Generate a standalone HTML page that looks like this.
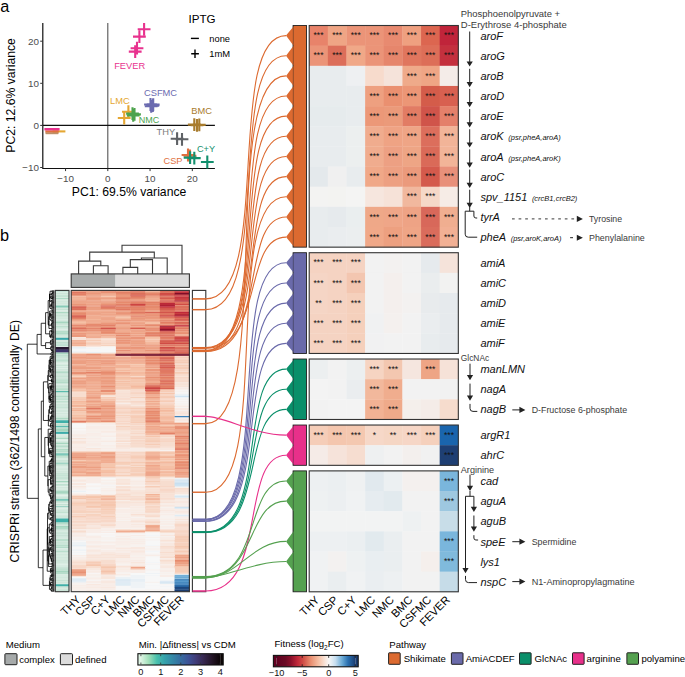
<!DOCTYPE html>
<html><head><meta charset="utf-8"><style>
html,body{margin:0;padding:0;background:#fff;}
svg{display:block;font-family:"Liberation Sans",sans-serif;}
</style></head><body>
<svg width="685" height="677" viewBox="0 0 685 677">
<rect width="685" height="677" fill="#fff"/>
<text x="0.20" y="12.40" font-size="16.3" fill="#000" >a</text>
<line x1="107.8" y1="23.0" x2="107.8" y2="168.5" stroke="#555" stroke-width="1.1"/>
<line x1="42.8" y1="125.4" x2="214.9" y2="125.4" stroke="#111" stroke-width="1.1"/>
<path d="M42.8 23.0V168.5H214.9" fill="none" stroke="#111" stroke-width="1.2"/>
<line x1="40.199999999999996" y1="41.20" x2="42.8" y2="41.20" stroke="#333" stroke-width="1"/>
<text x="39.00" y="44.70" font-size="9.9" fill="#4d4d4d" text-anchor="end" >20</text>
<line x1="40.199999999999996" y1="83.30" x2="42.8" y2="83.30" stroke="#333" stroke-width="1"/>
<text x="39.00" y="86.80" font-size="9.9" fill="#4d4d4d" text-anchor="end" >10</text>
<line x1="40.199999999999996" y1="125.40" x2="42.8" y2="125.40" stroke="#333" stroke-width="1"/>
<text x="39.00" y="128.90" font-size="9.9" fill="#4d4d4d" text-anchor="end" >0</text>
<line x1="40.199999999999996" y1="167.50" x2="42.8" y2="167.50" stroke="#333" stroke-width="1"/>
<text x="39.00" y="171.00" font-size="9.9" fill="#4d4d4d" text-anchor="end" >−10</text>
<line x1="65.55" y1="168.5" x2="65.55" y2="171.1" stroke="#333" stroke-width="1"/>
<text x="65.55" y="181.80" font-size="9.9" fill="#4d4d4d" text-anchor="middle" >−10</text>
<line x1="107.80" y1="168.5" x2="107.80" y2="171.1" stroke="#333" stroke-width="1"/>
<text x="107.80" y="181.80" font-size="9.9" fill="#4d4d4d" text-anchor="middle" >0</text>
<line x1="150.05" y1="168.5" x2="150.05" y2="171.1" stroke="#333" stroke-width="1"/>
<text x="150.05" y="181.80" font-size="9.9" fill="#4d4d4d" text-anchor="middle" >10</text>
<line x1="192.30" y1="168.5" x2="192.30" y2="171.1" stroke="#333" stroke-width="1"/>
<text x="192.30" y="181.80" font-size="9.9" fill="#4d4d4d" text-anchor="middle" >20</text>
<text x="71.80" y="195.70" font-size="12.2" fill="#000" >PC1: 69.5% variance</text>
<text transform="translate(15.0,95.4) rotate(-90)" font-size="12.2" text-anchor="middle">PC2: 12.6% variance</text>
<path d="M52.60 131.40H65.40" stroke="#e5a733" stroke-width="2.1" fill="none"/>
<path d="M45.70 133.80H58.30" stroke="#e8a888" stroke-width="1.0" fill="none"/>
<path d="M45.50 133.00H58.50" stroke="#a07848" stroke-width="1.3" fill="none"/>
<path d="M45.30 131.40H58.70" stroke="#e07040" stroke-width="2.2" fill="none"/>
<path d="M44.40 129.20H59.60" stroke="#e8328e" stroke-width="2.4" fill="none"/>
<path d="M137.70 29.30H150.50M144.10 22.90V35.70" stroke="#e8328e" stroke-width="2.1" fill="none"/>
<path d="M133.00 36.60H145.80M139.40 30.20V43.00" stroke="#e8328e" stroke-width="2.1" fill="none"/>
<path d="M130.60 48.20H143.40M137.00 41.80V54.60" stroke="#e8328e" stroke-width="2.1" fill="none"/>
<path d="M128.80 51.60H141.60M135.20 45.20V58.00" stroke="#e8328e" stroke-width="2.1" fill="none"/>
<text x="114.20" y="68.60" font-size="9.3" fill="#e8328e" >FEVER</text>
<path d="M144.10 104.50H156.90M150.50 98.10V110.90" stroke="#6b6bb0" stroke-width="2.1" fill="none"/>
<path d="M146.40 105.60H159.20M152.80 99.20V112.00" stroke="#6b6bb0" stroke-width="2.1" fill="none"/>
<path d="M144.80 106.30H157.60M151.20 99.90V112.70" stroke="#6b6bb0" stroke-width="2.1" fill="none"/>
<path d="M146.80 104.60H159.60M153.20 98.20V111.00" stroke="#6b6bb0" stroke-width="2.1" fill="none"/>
<text x="144.00" y="95.70" font-size="9.3" fill="#6b6bb0" >CSFMC</text>
<path d="M122.00 111.70H134.80M128.40 105.30V118.10" stroke="#e5a733" stroke-width="2.1" fill="none"/>
<path d="M117.80 118.00H130.60M124.20 111.60V124.40" stroke="#e5a733" stroke-width="2.1" fill="none"/>
<text x="110.00" y="103.60" font-size="9.3" fill="#e5a733" >LMC</text>
<path d="M126.10 113.60H138.90M132.50 107.20V120.00" stroke="#4da34d" stroke-width="2.1" fill="none"/>
<path d="M128.10 114.40H140.90M134.50 108.00V120.80" stroke="#4da34d" stroke-width="2.1" fill="none"/>
<path d="M126.80 115.40H139.60M133.20 109.00V121.80" stroke="#4da34d" stroke-width="2.1" fill="none"/>
<text x="138.80" y="122.80" font-size="9.0" fill="#4da34d" >NMC</text>
<path d="M187.90 124.60H200.70M194.30 118.20V131.00" stroke="#a87c2e" stroke-width="2.1" fill="none"/>
<path d="M192.90 124.90H205.70M199.30 118.50V131.30" stroke="#a87c2e" stroke-width="2.1" fill="none"/>
<path d="M190.60 125.30H203.40M197.00 118.90V131.70" stroke="#a87c2e" stroke-width="2.1" fill="none"/>
<text x="191.30" y="114.00" font-size="9.3" fill="#a87c2e" >BMC</text>
<path d="M170.70 138.70H183.50M177.10 132.30V145.10" stroke="#5f6266" stroke-width="2.1" fill="none"/>
<path d="M175.60 139.30H188.40M182.00 132.90V145.70" stroke="#5f6266" stroke-width="2.1" fill="none"/>
<text x="156.50" y="134.60" font-size="9.3" fill="#7d7d7d" >THY</text>
<path d="M181.60 155.00H194.40M188.00 148.60V161.40" stroke="#e07040" stroke-width="2.1" fill="none"/>
<path d="M183.60 155.80H196.40M190.00 149.40V162.20" stroke="#e07040" stroke-width="2.1" fill="none"/>
<path d="M183.70 157.60H196.50M190.10 151.20V164.00" stroke="#13906e" stroke-width="2.1" fill="none"/>
<path d="M187.90 158.10H200.70M194.30 151.70V164.50" stroke="#13906e" stroke-width="2.1" fill="none"/>
<path d="M200.90 162.00H213.70M207.30 155.60V168.40" stroke="#13906e" stroke-width="2.1" fill="none"/>
<text x="196.90" y="152.00" font-size="9.2" fill="#13906e" >C+Y</text>
<text x="163.50" y="164.40" font-size="9.2" fill="#e07040" >CSP</text>
<text x="188.50" y="23.40" font-size="11.6" fill="#000" >IPTG</text>
<path d="M190.9 38.4H198.9" stroke="#000" stroke-width="1.4"/>
<path d="M191.2 53.8H198.9M195 49.6V57.9" stroke="#000" stroke-width="1.4"/>
<text x="209.30" y="42.00" font-size="9.3" fill="#000" >none</text>
<text x="209.30" y="57.00" font-size="9.4" fill="#000" >1mM</text>
<text x="0.00" y="240.80" font-size="16.3" fill="#000" >b</text>
<path d="M93.4 273.9V265.8H108.1V273.9" fill="none" stroke="#3a3a3a" stroke-width="1.1"/>
<path d="M78.6 273.9V261.1H100.8V265.8" fill="none" stroke="#3a3a3a" stroke-width="1.1"/>
<path d="M122.9 273.9V267.4H137.7V273.9" fill="none" stroke="#3a3a3a" stroke-width="1.1"/>
<path d="M130.3 267.4V259.6H152.5V273.9" fill="none" stroke="#3a3a3a" stroke-width="1.1"/>
<path d="M141.4 259.6V258H167.2V273.9" fill="none" stroke="#3a3a3a" stroke-width="1.1"/>
<path d="M89.7 261.1V252.1H154.3V258" fill="none" stroke="#3a3a3a" stroke-width="1.1"/>
<path d="M122.0 252.1V245.3H182.0V273.9" fill="none" stroke="#3a3a3a" stroke-width="1.1"/>
<rect x="71.2" y="273.9" width="44.33" height="13.5" fill="#a8acac"/>
<rect x="115.53" y="273.9" width="73.88" height="13.5" fill="#dcdcdc"/>
<rect x="71.2" y="273.9" width="118.20" height="13.5" fill="none" stroke="#333" stroke-width="1.1"/>
<path fill="#eb987b" d="M71.20 290.40h15.08v1.18h-15.08zM71.20 299.56h15.08v1.18h-15.08zM71.20 311.21h15.08v2.01h-15.08zM71.20 318.70h15.08v1.18h-15.08zM71.20 334.51h15.08v2.85h-15.08zM71.20 356.99h15.08v1.18h-15.08zM71.20 359.48h15.08v1.18h-15.08zM71.20 362.81h15.08v1.18h-15.08zM71.20 370.30h15.08v1.18h-15.08zM71.20 377.79h15.08v1.18h-15.08zM71.20 379.46h15.08v1.18h-15.08zM71.20 381.12h15.08v1.18h-15.08zM71.20 421.91h15.08v1.18h-15.08zM71.20 570.89h15.08v2.01h-15.08zM71.20 574.22h15.08v1.18h-15.08zM85.98 297.89h15.08v2.01h-15.08zM85.98 301.22h15.08v1.18h-15.08zM85.98 305.38h15.08v1.18h-15.08zM85.98 307.05h15.08v1.18h-15.08zM85.98 356.15h15.08v1.18h-15.08zM85.98 361.15h15.08v1.18h-15.08zM85.98 366.14h15.08v1.18h-15.08zM85.98 374.46h15.08v1.18h-15.08zM85.98 376.96h15.08v1.18h-15.08zM85.98 391.11h15.08v1.18h-15.08zM85.98 403.60h15.08v1.18h-15.08zM85.98 408.59h15.08v1.18h-15.08zM85.98 471.85h15.08v1.18h-15.08zM100.75 308.71h15.08v1.18h-15.08zM100.75 315.37h15.08v1.18h-15.08zM100.75 319.53h15.08v1.18h-15.08zM100.75 322.86h15.08v1.18h-15.08zM100.75 326.19h15.08v2.01h-15.08zM100.75 361.15h15.08v1.18h-15.08zM100.75 362.81h15.08v1.18h-15.08zM100.75 364.48h15.08v1.18h-15.08zM100.75 370.30h15.08v2.01h-15.08zM100.75 373.63h15.08v2.01h-15.08zM100.75 376.13h15.08v2.01h-15.08zM100.75 378.63h15.08v1.18h-15.08zM100.75 381.12h15.08v1.18h-15.08zM100.75 383.62h15.08v1.18h-15.08zM100.75 391.11h15.08v1.18h-15.08zM100.75 407.76h15.08v1.18h-15.08zM100.75 417.75h15.08v1.18h-15.08zM100.75 419.41h15.08v1.18h-15.08zM115.53 294.56h15.08v2.85h-15.08zM115.53 309.54h15.08v1.18h-15.08zM115.53 320.36h15.08v1.18h-15.08zM115.53 323.69h15.08v1.18h-15.08zM115.53 329.52h15.08v1.18h-15.08zM115.53 340.34h15.08v1.18h-15.08zM115.53 342.00h15.08v2.01h-15.08zM115.53 347.00h15.08v1.18h-15.08zM115.53 351.16h15.08v1.18h-15.08zM130.30 300.39h15.08v1.18h-15.08zM130.30 313.70h15.08v1.18h-15.08zM130.30 325.36h15.08v1.18h-15.08zM130.30 332.85h15.08v1.18h-15.08zM130.30 335.35h15.08v1.18h-15.08zM130.30 339.51h15.08v1.18h-15.08zM130.30 347.83h15.08v1.18h-15.08zM130.30 349.49h15.08v1.18h-15.08zM130.30 351.16h15.08v1.18h-15.08zM130.30 360.31h15.08v1.18h-15.08zM145.07 296.23h15.08v1.18h-15.08zM145.07 301.22h15.08v1.18h-15.08zM145.07 307.88h15.08v1.18h-15.08zM145.07 313.70h15.08v2.01h-15.08zM145.07 316.20h15.08v2.85h-15.08zM145.07 345.33h15.08v1.18h-15.08zM145.07 350.33h15.08v1.18h-15.08zM145.07 352.82h15.08v1.18h-15.08zM145.07 356.15h15.08v1.18h-15.08zM145.07 358.65h15.08v1.18h-15.08zM145.07 361.98h15.08v1.18h-15.08zM145.07 363.64h15.08v1.18h-15.08zM145.07 366.97h15.08v1.18h-15.08zM145.07 368.64h15.08v2.01h-15.08zM145.07 376.13h15.08v1.18h-15.08zM145.07 393.61h15.08v1.18h-15.08zM145.07 395.27h15.08v1.18h-15.08zM145.07 401.10h15.08v1.18h-15.08zM145.07 408.59h15.08v1.18h-15.08zM145.07 410.25h15.08v1.18h-15.08zM145.07 411.92h15.08v1.18h-15.08zM145.07 418.58h15.08v1.18h-15.08zM145.07 428.57h15.08v1.18h-15.08zM145.07 433.56h15.08v1.18h-15.08zM145.07 467.68h15.08v1.18h-15.08zM145.07 475.18h15.08v1.18h-15.08zM159.85 323.69h15.08v1.18h-15.08zM159.85 351.99h15.08v1.18h-15.08zM159.85 381.96h15.08v1.18h-15.08zM159.85 428.57h15.08v1.18h-15.08zM174.62 328.69h14.78v1.18h-14.78zM174.62 331.18h14.78v2.01h-14.78zM174.62 346.17h14.78v1.18h-14.78zM174.62 423.57h14.78v1.18h-14.78zM174.62 426.90h14.78v1.18h-14.78zM174.62 430.23h14.78v1.18h-14.78zM174.62 431.89h14.78v1.18h-14.78zM174.62 445.21h14.78v1.18h-14.78zM174.62 449.37h14.78v1.18h-14.78zM174.62 451.04h14.78v1.18h-14.78zM174.62 453.53h14.78v1.18h-14.78zM174.62 456.86h14.78v1.18h-14.78zM174.62 459.36h14.78v1.18h-14.78zM174.62 466.85h14.78v1.18h-14.78zM174.62 471.85h14.78v1.18h-14.78zM174.62 474.34h14.78v1.18h-14.78zM174.62 556.74h14.78v1.18h-14.78zM174.62 559.24h14.78v1.18h-14.78z"/>
<path fill="#e99174" d="M71.20 291.23h15.08v1.18h-15.08zM71.20 292.90h15.08v1.18h-15.08zM71.20 295.39h15.08v1.18h-15.08zM71.20 313.70h15.08v1.18h-15.08zM71.20 326.19h15.08v2.01h-15.08zM71.20 332.85h15.08v2.01h-15.08zM85.98 291.23h15.08v1.18h-15.08zM85.98 292.90h15.08v1.18h-15.08zM85.98 329.52h15.08v1.18h-15.08zM85.98 353.66h15.08v2.01h-15.08zM85.98 396.94h15.08v1.18h-15.08zM85.98 415.25h15.08v2.01h-15.08zM85.98 417.75h15.08v2.01h-15.08zM85.98 420.24h15.08v1.18h-15.08zM85.98 455.20h15.08v1.18h-15.08zM100.75 291.23h15.08v2.01h-15.08zM100.75 301.22h15.08v1.18h-15.08zM100.75 303.72h15.08v2.01h-15.08zM100.75 330.35h15.08v2.01h-15.08zM100.75 355.32h15.08v1.18h-15.08zM100.75 372.80h15.08v1.18h-15.08zM100.75 385.28h15.08v2.01h-15.08zM100.75 389.45h15.08v1.18h-15.08zM100.75 406.09h15.08v1.18h-15.08zM100.75 409.42h15.08v1.18h-15.08zM100.75 413.58h15.08v1.18h-15.08zM100.75 416.08h15.08v1.18h-15.08zM100.75 420.24h15.08v1.18h-15.08zM115.53 290.40h15.08v1.18h-15.08zM115.53 293.73h15.08v1.18h-15.08zM115.53 298.72h15.08v1.18h-15.08zM115.53 307.88h15.08v1.18h-15.08zM115.53 312.04h15.08v2.01h-15.08zM115.53 319.53h15.08v1.18h-15.08zM115.53 322.86h15.08v1.18h-15.08zM115.53 337.84h15.08v1.18h-15.08zM115.53 341.17h15.08v1.18h-15.08zM115.53 347.83h15.08v1.18h-15.08zM130.30 299.56h15.08v1.18h-15.08zM130.30 302.88h15.08v1.18h-15.08zM130.30 306.21h15.08v1.18h-15.08zM130.30 309.54h15.08v2.85h-15.08zM130.30 312.87h15.08v1.18h-15.08zM130.30 316.20h15.08v1.18h-15.08zM130.30 317.87h15.08v1.18h-15.08zM130.30 320.36h15.08v1.18h-15.08zM130.30 324.53h15.08v1.18h-15.08zM130.30 337.01h15.08v2.01h-15.08zM130.30 347.00h15.08v1.18h-15.08zM130.30 352.82h15.08v1.18h-15.08zM145.07 295.39h15.08v1.18h-15.08zM145.07 300.39h15.08v1.18h-15.08zM145.07 302.88h15.08v1.18h-15.08zM145.07 308.71h15.08v2.01h-15.08zM145.07 323.69h15.08v1.18h-15.08zM145.07 327.85h15.08v1.18h-15.08zM145.07 329.52h15.08v2.01h-15.08zM145.07 357.82h15.08v1.18h-15.08zM145.07 361.15h15.08v1.18h-15.08zM145.07 370.30h15.08v1.18h-15.08zM145.07 373.63h15.08v1.18h-15.08zM145.07 380.29h15.08v1.18h-15.08zM145.07 392.78h15.08v1.18h-15.08zM145.07 407.76h15.08v1.18h-15.08zM145.07 409.42h15.08v1.18h-15.08zM145.07 412.75h15.08v2.01h-15.08zM159.85 321.20h15.08v1.18h-15.08zM159.85 336.18h15.08v1.18h-15.08zM159.85 356.15h15.08v1.18h-15.08zM159.85 367.81h15.08v1.18h-15.08zM159.85 376.13h15.08v1.18h-15.08zM174.62 304.55h14.78v1.18h-14.78zM174.62 324.53h14.78v1.18h-14.78zM174.62 326.19h14.78v2.01h-14.78zM174.62 330.35h14.78v1.18h-14.78zM174.62 427.73h14.78v2.01h-14.78zM174.62 433.56h14.78v1.18h-14.78zM174.62 440.22h14.78v1.18h-14.78zM174.62 443.55h14.78v1.18h-14.78zM174.62 446.88h14.78v1.18h-14.78zM174.62 454.37h14.78v2.01h-14.78zM174.62 458.53h14.78v1.18h-14.78zM174.62 461.03h14.78v1.18h-14.78zM174.62 463.52h14.78v2.85h-14.78zM174.62 468.52h14.78v1.18h-14.78zM174.62 470.18h14.78v1.18h-14.78zM174.62 560.90h14.78v1.18h-14.78z"/>
<path fill="#e07862" d="M71.20 292.06h15.08v1.18h-15.08zM71.20 293.73h15.08v1.18h-15.08zM71.20 307.88h15.08v1.18h-15.08zM71.20 328.69h15.08v1.18h-15.08zM71.20 421.07h15.08v1.18h-15.08zM85.98 327.85h15.08v1.18h-15.08zM85.98 407.76h15.08v1.18h-15.08zM100.75 306.21h15.08v2.01h-15.08zM100.75 328.69h15.08v1.18h-15.08zM115.53 308.71h15.08v1.18h-15.08zM130.30 295.39h15.08v2.01h-15.08zM130.30 301.22h15.08v1.18h-15.08zM130.30 312.04h15.08v1.18h-15.08zM130.30 315.37h15.08v1.18h-15.08zM145.07 333.68h15.08v1.18h-15.08zM145.07 390.28h15.08v1.18h-15.08zM145.07 420.24h15.08v1.18h-15.08zM159.85 292.06h15.08v1.18h-15.08zM159.85 296.23h15.08v1.18h-15.08zM159.85 299.56h15.08v1.18h-15.08zM159.85 313.70h15.08v1.18h-15.08zM159.85 317.03h15.08v1.18h-15.08zM159.85 322.03h15.08v1.18h-15.08zM159.85 332.85h15.08v1.18h-15.08zM159.85 337.01h15.08v1.18h-15.08zM159.85 343.67h15.08v1.18h-15.08zM159.85 345.33h15.08v1.18h-15.08zM159.85 355.32h15.08v1.18h-15.08zM159.85 358.65h15.08v1.18h-15.08zM159.85 361.15h15.08v1.18h-15.08zM159.85 364.48h15.08v1.18h-15.08zM159.85 369.47h15.08v3.68h-15.08zM159.85 376.96h15.08v1.18h-15.08zM159.85 378.63h15.08v1.18h-15.08zM159.85 381.12h15.08v1.18h-15.08zM159.85 382.79h15.08v1.18h-15.08zM159.85 384.45h15.08v1.18h-15.08zM159.85 386.12h15.08v1.18h-15.08zM159.85 433.56h15.08v1.18h-15.08zM174.62 302.05h14.78v2.01h-14.78zM174.62 317.87h14.78v1.18h-14.78zM174.62 320.36h14.78v1.18h-14.78zM174.62 327.85h14.78v1.18h-14.78zM174.62 439.39h14.78v1.18h-14.78zM174.62 467.68h14.78v1.18h-14.78z"/>
<path fill="#e68a6d" d="M71.20 294.56h15.08v1.18h-15.08zM71.20 303.72h15.08v1.18h-15.08zM71.20 312.87h15.08v1.18h-15.08zM71.20 314.54h15.08v1.18h-15.08zM71.20 325.36h15.08v1.18h-15.08zM71.20 329.52h15.08v1.18h-15.08zM71.20 355.32h15.08v1.18h-15.08zM71.20 371.97h15.08v2.01h-15.08zM71.20 455.20h15.08v1.18h-15.08zM71.20 456.86h15.08v1.18h-15.08zM71.20 572.56h15.08v1.18h-15.08zM85.98 295.39h15.08v1.18h-15.08zM85.98 323.69h15.08v2.01h-15.08zM85.98 326.19h15.08v1.18h-15.08zM85.98 328.69h15.08v1.18h-15.08zM85.98 330.35h15.08v1.18h-15.08zM85.98 409.42h15.08v1.18h-15.08zM85.98 411.09h15.08v1.18h-15.08zM100.75 312.04h15.08v1.18h-15.08zM100.75 323.69h15.08v1.18h-15.08zM100.75 332.02h15.08v2.01h-15.08zM100.75 360.31h15.08v1.18h-15.08zM100.75 371.97h15.08v1.18h-15.08zM100.75 421.07h15.08v1.18h-15.08zM115.53 291.23h15.08v1.18h-15.08zM115.53 292.90h15.08v1.18h-15.08zM115.53 297.06h15.08v1.18h-15.08zM115.53 301.22h15.08v2.01h-15.08zM115.53 304.55h15.08v1.18h-15.08zM115.53 310.38h15.08v1.18h-15.08zM115.53 332.85h15.08v1.18h-15.08zM115.53 334.51h15.08v2.01h-15.08zM115.53 339.51h15.08v1.18h-15.08zM130.30 291.23h15.08v1.18h-15.08zM130.30 293.73h15.08v1.18h-15.08zM130.30 297.89h15.08v1.18h-15.08zM130.30 307.88h15.08v1.18h-15.08zM130.30 344.50h15.08v1.18h-15.08zM145.07 292.06h15.08v2.01h-15.08zM145.07 303.72h15.08v1.18h-15.08zM145.07 305.38h15.08v2.85h-15.08zM145.07 311.21h15.08v1.18h-15.08zM145.07 315.37h15.08v1.18h-15.08zM145.07 324.53h15.08v2.01h-15.08zM145.07 332.02h15.08v1.18h-15.08zM145.07 349.49h15.08v1.18h-15.08zM145.07 356.99h15.08v1.18h-15.08zM145.07 359.48h15.08v2.01h-15.08zM145.07 362.81h15.08v1.18h-15.08zM145.07 364.48h15.08v1.18h-15.08zM145.07 376.96h15.08v1.18h-15.08zM145.07 396.94h15.08v1.18h-15.08zM145.07 411.09h15.08v1.18h-15.08zM145.07 414.42h15.08v2.01h-15.08zM145.07 416.91h15.08v2.01h-15.08zM159.85 317.87h15.08v1.18h-15.08zM159.85 319.53h15.08v1.18h-15.08zM159.85 322.86h15.08v1.18h-15.08zM159.85 324.53h15.08v1.18h-15.08zM159.85 346.17h15.08v1.18h-15.08zM159.85 361.98h15.08v1.18h-15.08zM159.85 377.79h15.08v1.18h-15.08zM159.85 386.95h15.08v1.18h-15.08zM159.85 388.61h15.08v1.18h-15.08zM174.62 309.54h14.78v1.18h-14.78zM174.62 321.20h14.78v1.18h-14.78zM174.62 332.85h14.78v1.18h-14.78zM174.62 342.00h14.78v1.18h-14.78zM174.62 437.72h14.78v1.18h-14.78zM174.62 461.86h14.78v2.01h-14.78zM174.62 472.68h14.78v1.18h-14.78zM174.62 560.07h14.78v1.18h-14.78z"/>
<path fill="#f3b99e" d="M71.20 296.23h15.08v1.18h-15.08zM71.20 297.89h15.08v1.18h-15.08zM71.20 320.36h15.08v2.01h-15.08zM71.20 323.69h15.08v1.18h-15.08zM71.20 342.00h15.08v1.18h-15.08zM71.20 406.09h15.08v1.18h-15.08zM71.20 407.76h15.08v2.01h-15.08zM71.20 416.91h15.08v2.01h-15.08zM71.20 451.87h15.08v1.18h-15.08zM71.20 459.36h15.08v1.18h-15.08zM71.20 463.52h15.08v1.18h-15.08zM71.20 473.51h15.08v1.18h-15.08zM71.20 568.40h15.08v1.18h-15.08zM85.98 322.03h15.08v1.18h-15.08zM85.98 358.65h15.08v1.18h-15.08zM85.98 368.64h15.08v1.18h-15.08zM85.98 386.95h15.08v1.18h-15.08zM85.98 390.28h15.08v1.18h-15.08zM85.98 391.94h15.08v1.18h-15.08zM85.98 399.43h15.08v1.18h-15.08zM85.98 402.76h15.08v1.18h-15.08zM85.98 456.03h15.08v1.18h-15.08zM85.98 461.03h15.08v1.18h-15.08zM85.98 466.02h15.08v1.18h-15.08zM85.98 470.18h15.08v2.01h-15.08zM85.98 498.48h15.08v1.18h-15.08zM100.75 295.39h15.08v1.18h-15.08zM100.75 298.72h15.08v1.18h-15.08zM100.75 336.18h15.08v1.18h-15.08zM100.75 394.44h15.08v1.18h-15.08zM100.75 400.27h15.08v1.18h-15.08zM100.75 454.37h15.08v1.18h-15.08zM100.75 466.85h15.08v1.18h-15.08zM100.75 471.85h15.08v1.18h-15.08zM100.75 475.18h15.08v1.18h-15.08zM100.75 497.65h15.08v1.18h-15.08zM100.75 570.89h15.08v1.18h-15.08zM115.53 317.87h15.08v1.18h-15.08zM115.53 355.32h15.08v1.18h-15.08zM115.53 361.98h15.08v1.18h-15.08zM115.53 369.47h15.08v2.01h-15.08zM115.53 373.63h15.08v2.01h-15.08zM115.53 376.96h15.08v1.18h-15.08zM115.53 384.45h15.08v1.18h-15.08zM130.30 361.98h15.08v1.18h-15.08zM130.30 364.48h15.08v1.18h-15.08zM130.30 366.14h15.08v2.01h-15.08zM130.30 370.30h15.08v1.18h-15.08zM130.30 371.97h15.08v2.01h-15.08zM130.30 375.30h15.08v1.18h-15.08zM130.30 376.96h15.08v2.85h-15.08zM130.30 384.45h15.08v1.18h-15.08zM130.30 387.78h15.08v1.18h-15.08zM130.30 531.77h15.08v1.18h-15.08zM145.07 339.51h15.08v1.18h-15.08zM145.07 341.17h15.08v2.85h-15.08zM145.07 367.81h15.08v1.18h-15.08zM145.07 397.77h15.08v1.18h-15.08zM145.07 400.27h15.08v1.18h-15.08zM145.07 402.76h15.08v1.18h-15.08zM145.07 405.26h15.08v1.18h-15.08zM145.07 406.92h15.08v1.18h-15.08zM145.07 425.24h15.08v1.18h-15.08zM145.07 432.73h15.08v1.18h-15.08zM145.07 452.70h15.08v1.18h-15.08zM145.07 454.37h15.08v1.18h-15.08zM145.07 456.03h15.08v1.18h-15.08zM145.07 470.18h15.08v1.18h-15.08zM145.07 495.98h15.08v1.18h-15.08zM145.07 524.28h15.08v1.18h-15.08zM159.85 409.42h15.08v2.01h-15.08zM159.85 416.91h15.08v2.01h-15.08zM159.85 420.24h15.08v2.85h-15.08zM159.85 455.20h15.08v1.18h-15.08zM159.85 458.53h15.08v1.18h-15.08zM159.85 461.86h15.08v1.18h-15.08zM159.85 464.35h15.08v1.18h-15.08zM159.85 468.52h15.08v2.01h-15.08zM159.85 471.01h15.08v2.85h-15.08zM174.62 424.40h14.78v1.18h-14.78zM174.62 476.84h14.78v1.18h-14.78zM174.62 554.25h14.78v1.18h-14.78z"/>
<path fill="#f2b397" d="M71.20 297.06h15.08v1.18h-15.08zM71.20 298.72h15.08v1.18h-15.08zM71.20 322.86h15.08v1.18h-15.08zM71.20 332.02h15.08v1.18h-15.08zM71.20 339.51h15.08v1.18h-15.08zM71.20 341.17h15.08v1.18h-15.08zM71.20 344.50h15.08v2.01h-15.08zM71.20 363.64h15.08v1.18h-15.08zM71.20 386.95h15.08v2.01h-15.08zM71.20 389.45h15.08v1.18h-15.08zM71.20 398.60h15.08v1.18h-15.08zM71.20 401.10h15.08v1.18h-15.08zM71.20 404.43h15.08v2.01h-15.08zM71.20 409.42h15.08v2.01h-15.08zM71.20 461.03h15.08v1.18h-15.08zM71.20 465.19h15.08v1.18h-15.08zM71.20 469.35h15.08v1.18h-15.08zM71.20 472.68h15.08v1.18h-15.08zM71.20 474.34h15.08v1.18h-15.08zM71.20 575.05h15.08v1.18h-15.08zM85.98 314.54h15.08v1.18h-15.08zM85.98 334.51h15.08v2.01h-15.08zM85.98 365.31h15.08v1.18h-15.08zM85.98 376.13h15.08v1.18h-15.08zM85.98 381.12h15.08v2.01h-15.08zM85.98 385.28h15.08v1.18h-15.08zM85.98 389.45h15.08v1.18h-15.08zM85.98 396.10h15.08v1.18h-15.08zM85.98 401.93h15.08v1.18h-15.08zM85.98 405.26h15.08v1.18h-15.08zM85.98 451.87h15.08v1.18h-15.08zM85.98 463.52h15.08v2.01h-15.08zM85.98 468.52h15.08v1.18h-15.08zM100.75 333.68h15.08v1.18h-15.08zM100.75 337.01h15.08v1.18h-15.08zM100.75 366.14h15.08v1.18h-15.08zM100.75 393.61h15.08v1.18h-15.08zM100.75 398.60h15.08v1.18h-15.08zM100.75 401.10h15.08v2.85h-15.08zM100.75 457.70h15.08v1.18h-15.08zM100.75 461.03h15.08v1.18h-15.08zM100.75 462.69h15.08v1.18h-15.08zM100.75 495.98h15.08v1.18h-15.08zM115.53 352.82h15.08v1.18h-15.08zM115.53 358.65h15.08v1.18h-15.08zM115.53 362.81h15.08v1.18h-15.08zM115.53 364.48h15.08v2.85h-15.08zM115.53 372.80h15.08v1.18h-15.08zM115.53 381.12h15.08v1.18h-15.08zM115.53 530.11h15.08v1.18h-15.08zM130.30 351.99h15.08v1.18h-15.08zM130.30 356.15h15.08v1.18h-15.08zM130.30 386.12h15.08v1.18h-15.08zM145.07 297.89h15.08v1.18h-15.08zM145.07 336.18h15.08v1.18h-15.08zM145.07 343.67h15.08v1.18h-15.08zM145.07 384.45h15.08v1.18h-15.08zM145.07 396.10h15.08v1.18h-15.08zM145.07 399.43h15.08v1.18h-15.08zM145.07 404.43h15.08v1.18h-15.08zM145.07 426.90h15.08v1.18h-15.08zM145.07 430.23h15.08v1.18h-15.08zM145.07 453.53h15.08v1.18h-15.08zM145.07 458.53h15.08v2.01h-15.08zM145.07 466.02h15.08v2.01h-15.08zM145.07 471.01h15.08v1.18h-15.08zM145.07 493.49h15.08v2.01h-15.08zM145.07 497.65h15.08v1.18h-15.08zM159.85 415.25h15.08v1.18h-15.08zM159.85 423.57h15.08v1.18h-15.08zM159.85 427.73h15.08v1.18h-15.08zM159.85 431.06h15.08v1.18h-15.08zM159.85 467.68h15.08v1.18h-15.08zM174.62 452.70h14.78v1.18h-14.78zM174.62 460.19h14.78v1.18h-14.78zM174.62 558.41h14.78v1.18h-14.78zM174.62 564.23h14.78v1.18h-14.78z"/>
<path fill="#eea589" d="M71.20 300.39h15.08v3.68h-15.08zM71.20 309.54h15.08v2.01h-15.08zM71.20 331.18h15.08v1.18h-15.08zM71.20 353.66h15.08v2.01h-15.08zM71.20 357.82h15.08v2.01h-15.08zM71.20 365.31h15.08v2.01h-15.08zM71.20 380.29h15.08v1.18h-15.08zM71.20 381.96h15.08v1.18h-15.08zM71.20 383.62h15.08v1.18h-15.08zM71.20 452.70h15.08v2.01h-15.08zM71.20 456.03h15.08v1.18h-15.08zM71.20 458.53h15.08v1.18h-15.08zM71.20 461.86h15.08v1.18h-15.08zM71.20 467.68h15.08v1.18h-15.08zM71.20 470.18h15.08v1.18h-15.08zM71.20 471.85h15.08v1.18h-15.08zM85.98 293.73h15.08v1.18h-15.08zM85.98 296.23h15.08v2.01h-15.08zM85.98 299.56h15.08v1.18h-15.08zM85.98 302.05h15.08v1.18h-15.08zM85.98 303.72h15.08v1.18h-15.08zM85.98 309.54h15.08v1.18h-15.08zM85.98 312.87h15.08v2.01h-15.08zM85.98 322.86h15.08v1.18h-15.08zM85.98 332.85h15.08v2.01h-15.08zM85.98 356.99h15.08v1.18h-15.08zM85.98 361.98h15.08v1.18h-15.08zM85.98 363.64h15.08v2.01h-15.08zM85.98 371.14h15.08v1.18h-15.08zM85.98 372.80h15.08v2.01h-15.08zM85.98 377.79h15.08v3.68h-15.08zM85.98 383.62h15.08v1.18h-15.08zM85.98 392.78h15.08v1.18h-15.08zM85.98 395.27h15.08v1.18h-15.08zM85.98 410.25h15.08v1.18h-15.08zM85.98 412.75h15.08v1.18h-15.08zM85.98 416.91h15.08v1.18h-15.08zM85.98 419.41h15.08v1.18h-15.08zM85.98 456.86h15.08v1.18h-15.08zM85.98 458.53h15.08v1.18h-15.08zM85.98 465.19h15.08v1.18h-15.08zM85.98 467.68h15.08v1.18h-15.08zM85.98 472.68h15.08v2.01h-15.08zM100.75 292.90h15.08v1.18h-15.08zM100.75 294.56h15.08v1.18h-15.08zM100.75 300.39h15.08v1.18h-15.08zM100.75 302.05h15.08v1.18h-15.08zM100.75 309.54h15.08v1.18h-15.08zM100.75 317.03h15.08v2.85h-15.08zM100.75 322.03h15.08v1.18h-15.08zM100.75 354.49h15.08v1.18h-15.08zM100.75 356.99h15.08v1.18h-15.08zM100.75 361.98h15.08v1.18h-15.08zM100.75 366.97h15.08v1.18h-15.08zM100.75 368.64h15.08v1.18h-15.08zM100.75 375.30h15.08v1.18h-15.08zM100.75 381.96h15.08v1.18h-15.08zM100.75 384.45h15.08v1.18h-15.08zM100.75 386.95h15.08v1.18h-15.08zM100.75 403.60h15.08v1.18h-15.08zM100.75 412.75h15.08v1.18h-15.08zM100.75 416.91h15.08v1.18h-15.08zM100.75 418.58h15.08v1.18h-15.08zM100.75 453.53h15.08v1.18h-15.08zM100.75 458.53h15.08v1.18h-15.08zM115.53 314.54h15.08v1.18h-15.08zM115.53 321.20h15.08v1.18h-15.08zM115.53 324.53h15.08v1.18h-15.08zM115.53 327.02h15.08v1.18h-15.08zM115.53 332.02h15.08v1.18h-15.08zM115.53 345.33h15.08v1.18h-15.08zM115.53 350.33h15.08v1.18h-15.08zM115.53 359.48h15.08v1.18h-15.08zM115.53 371.97h15.08v1.18h-15.08zM130.30 322.03h15.08v2.01h-15.08zM130.30 326.19h15.08v1.18h-15.08zM130.30 328.69h15.08v1.18h-15.08zM130.30 330.35h15.08v2.01h-15.08zM130.30 336.18h15.08v1.18h-15.08zM130.30 338.67h15.08v1.18h-15.08zM130.30 342.00h15.08v1.18h-15.08zM130.30 346.17h15.08v1.18h-15.08zM130.30 350.33h15.08v1.18h-15.08zM130.30 357.82h15.08v2.01h-15.08zM130.30 361.15h15.08v1.18h-15.08zM130.30 566.73h15.08v2.01h-15.08zM145.07 297.06h15.08v1.18h-15.08zM145.07 312.87h15.08v1.18h-15.08zM145.07 321.20h15.08v1.18h-15.08zM145.07 327.02h15.08v1.18h-15.08zM145.07 347.00h15.08v1.18h-15.08zM145.07 348.66h15.08v1.18h-15.08zM145.07 365.31h15.08v1.18h-15.08zM145.07 371.14h15.08v1.18h-15.08zM145.07 372.80h15.08v1.18h-15.08zM145.07 374.46h15.08v1.18h-15.08zM145.07 377.79h15.08v1.18h-15.08zM145.07 391.94h15.08v1.18h-15.08zM145.07 403.60h15.08v1.18h-15.08zM145.07 426.07h15.08v1.18h-15.08zM145.07 429.40h15.08v1.18h-15.08zM145.07 455.20h15.08v1.18h-15.08zM145.07 456.86h15.08v1.18h-15.08zM145.07 464.35h15.08v2.01h-15.08zM145.07 469.35h15.08v1.18h-15.08zM145.07 471.85h15.08v2.85h-15.08zM145.07 528.44h15.08v1.18h-15.08zM145.07 530.11h15.08v1.18h-15.08zM159.85 338.67h15.08v1.18h-15.08zM159.85 422.74h15.08v1.18h-15.08zM159.85 426.07h15.08v2.01h-15.08zM159.85 430.23h15.08v1.18h-15.08zM159.85 431.89h15.08v1.18h-15.08zM174.62 333.68h14.78v1.18h-14.78zM174.62 335.35h14.78v1.18h-14.78zM174.62 431.06h14.78v1.18h-14.78zM174.62 432.73h14.78v1.18h-14.78zM174.62 436.89h14.78v1.18h-14.78zM174.62 475.18h14.78v1.18h-14.78zM174.62 555.08h14.78v1.18h-14.78zM174.62 557.57h14.78v1.18h-14.78zM174.62 561.74h14.78v1.18h-14.78z"/>
<path fill="#ec9f82" d="M71.20 304.55h15.08v1.18h-15.08zM71.20 319.53h15.08v1.18h-15.08zM71.20 356.15h15.08v1.18h-15.08zM71.20 360.31h15.08v2.85h-15.08zM71.20 366.97h15.08v2.85h-15.08zM71.20 373.63h15.08v1.18h-15.08zM71.20 382.79h15.08v1.18h-15.08zM71.20 384.45h15.08v1.18h-15.08zM71.20 386.12h15.08v1.18h-15.08zM71.20 454.37h15.08v1.18h-15.08zM71.20 464.35h15.08v1.18h-15.08zM71.20 466.02h15.08v2.01h-15.08zM71.20 475.18h15.08v1.18h-15.08zM71.20 569.23h15.08v2.01h-15.08zM71.20 573.39h15.08v1.18h-15.08zM85.98 290.40h15.08v1.18h-15.08zM85.98 292.06h15.08v1.18h-15.08zM85.98 294.56h15.08v1.18h-15.08zM85.98 300.39h15.08v1.18h-15.08zM85.98 304.55h15.08v1.18h-15.08zM85.98 306.21h15.08v1.18h-15.08zM85.98 307.88h15.08v2.01h-15.08zM85.98 312.04h15.08v1.18h-15.08zM85.98 327.02h15.08v1.18h-15.08zM85.98 331.18h15.08v1.18h-15.08zM85.98 336.18h15.08v1.18h-15.08zM85.98 355.32h15.08v1.18h-15.08zM85.98 357.82h15.08v1.18h-15.08zM85.98 359.48h15.08v2.01h-15.08zM85.98 366.97h15.08v2.01h-15.08zM85.98 369.47h15.08v2.01h-15.08zM85.98 375.30h15.08v1.18h-15.08zM85.98 394.44h15.08v1.18h-15.08zM85.98 397.77h15.08v1.18h-15.08zM85.98 400.27h15.08v2.01h-15.08zM85.98 404.43h15.08v1.18h-15.08zM85.98 406.09h15.08v2.01h-15.08zM85.98 411.92h15.08v1.18h-15.08zM85.98 421.07h15.08v1.18h-15.08zM85.98 454.37h15.08v1.18h-15.08zM85.98 462.69h15.08v1.18h-15.08zM85.98 466.85h15.08v1.18h-15.08zM85.98 469.35h15.08v1.18h-15.08zM100.75 297.89h15.08v1.18h-15.08zM100.75 302.88h15.08v1.18h-15.08zM100.75 313.70h15.08v1.18h-15.08zM100.75 353.66h15.08v1.18h-15.08zM100.75 357.82h15.08v1.18h-15.08zM100.75 359.48h15.08v1.18h-15.08zM100.75 363.64h15.08v1.18h-15.08zM100.75 369.47h15.08v1.18h-15.08zM100.75 377.79h15.08v1.18h-15.08zM100.75 379.46h15.08v2.01h-15.08zM100.75 382.79h15.08v1.18h-15.08zM100.75 387.78h15.08v1.18h-15.08zM100.75 404.43h15.08v2.01h-15.08zM100.75 408.59h15.08v1.18h-15.08zM100.75 410.25h15.08v2.85h-15.08zM100.75 414.42h15.08v2.01h-15.08zM100.75 451.87h15.08v2.01h-15.08zM100.75 455.20h15.08v2.85h-15.08zM115.53 299.56h15.08v1.18h-15.08zM115.53 302.88h15.08v1.18h-15.08zM115.53 306.21h15.08v1.18h-15.08zM115.53 311.21h15.08v1.18h-15.08zM115.53 313.70h15.08v1.18h-15.08zM115.53 322.03h15.08v1.18h-15.08zM115.53 327.85h15.08v2.01h-15.08zM115.53 333.68h15.08v1.18h-15.08zM115.53 336.18h15.08v2.01h-15.08zM115.53 338.67h15.08v1.18h-15.08zM115.53 343.67h15.08v1.18h-15.08zM115.53 346.17h15.08v1.18h-15.08zM130.30 298.72h15.08v1.18h-15.08zM130.30 314.54h15.08v1.18h-15.08zM130.30 317.03h15.08v1.18h-15.08zM130.30 318.70h15.08v2.01h-15.08zM130.30 323.69h15.08v1.18h-15.08zM130.30 327.02h15.08v1.18h-15.08zM130.30 329.52h15.08v1.18h-15.08zM130.30 334.51h15.08v1.18h-15.08zM130.30 340.34h15.08v2.01h-15.08zM130.30 342.84h15.08v2.01h-15.08zM130.30 345.33h15.08v1.18h-15.08zM130.30 348.66h15.08v1.18h-15.08zM130.30 355.32h15.08v1.18h-15.08zM130.30 356.99h15.08v1.18h-15.08zM145.07 310.38h15.08v1.18h-15.08zM145.07 319.53h15.08v2.01h-15.08zM145.07 326.19h15.08v1.18h-15.08zM145.07 331.18h15.08v1.18h-15.08zM145.07 344.50h15.08v1.18h-15.08zM145.07 346.17h15.08v1.18h-15.08zM145.07 347.83h15.08v1.18h-15.08zM145.07 351.16h15.08v1.18h-15.08zM145.07 366.14h15.08v1.18h-15.08zM145.07 371.97h15.08v1.18h-15.08zM145.07 375.30h15.08v1.18h-15.08zM145.07 378.63h15.08v2.01h-15.08zM145.07 382.79h15.08v1.18h-15.08zM145.07 416.08h15.08v1.18h-15.08zM145.07 421.91h15.08v1.18h-15.08zM145.07 474.34h15.08v1.18h-15.08zM145.07 525.95h15.08v1.18h-15.08zM159.85 318.70h15.08v1.18h-15.08zM174.62 422.74h14.78v1.18h-14.78zM174.62 429.40h14.78v1.18h-14.78zM174.62 438.55h14.78v1.18h-14.78zM174.62 441.05h14.78v2.01h-14.78zM174.62 446.04h14.78v1.18h-14.78zM174.62 447.71h14.78v1.18h-14.78zM174.62 450.21h14.78v1.18h-14.78zM174.62 451.87h14.78v1.18h-14.78zM174.62 456.03h14.78v1.18h-14.78zM174.62 466.02h14.78v1.18h-14.78zM174.62 473.51h14.78v1.18h-14.78zM174.62 562.57h14.78v2.01h-14.78z"/>
<path fill="#e38167" d="M71.20 305.38h15.08v1.18h-15.08zM71.20 317.03h15.08v2.01h-15.08zM71.20 324.53h15.08v1.18h-15.08zM71.20 330.35h15.08v1.18h-15.08zM71.20 420.24h15.08v1.18h-15.08zM85.98 325.36h15.08v1.18h-15.08zM85.98 371.97h15.08v1.18h-15.08zM100.75 290.40h15.08v1.18h-15.08zM100.75 307.88h15.08v1.18h-15.08zM100.75 324.53h15.08v2.01h-15.08zM100.75 329.52h15.08v1.18h-15.08zM100.75 390.28h15.08v1.18h-15.08zM115.53 292.06h15.08v1.18h-15.08zM115.53 297.89h15.08v1.18h-15.08zM115.53 300.39h15.08v1.18h-15.08zM115.53 303.72h15.08v1.18h-15.08zM115.53 307.05h15.08v1.18h-15.08zM115.53 349.49h15.08v1.18h-15.08zM130.30 292.06h15.08v1.18h-15.08zM130.30 297.06h15.08v1.18h-15.08zM130.30 302.05h15.08v1.18h-15.08zM130.30 307.05h15.08v1.18h-15.08zM130.30 308.71h15.08v1.18h-15.08zM145.07 290.40h15.08v1.18h-15.08zM145.07 293.73h15.08v2.01h-15.08zM145.07 302.05h15.08v1.18h-15.08zM145.07 304.55h15.08v1.18h-15.08zM145.07 328.69h15.08v1.18h-15.08zM145.07 332.85h15.08v1.18h-15.08zM145.07 334.51h15.08v2.01h-15.08zM145.07 355.32h15.08v1.18h-15.08zM145.07 383.62h15.08v1.18h-15.08zM145.07 388.61h15.08v1.18h-15.08zM145.07 391.11h15.08v1.18h-15.08zM145.07 419.41h15.08v1.18h-15.08zM145.07 421.07h15.08v1.18h-15.08zM159.85 298.72h15.08v1.18h-15.08zM159.85 312.87h15.08v1.18h-15.08zM159.85 320.36h15.08v1.18h-15.08zM159.85 333.68h15.08v1.18h-15.08zM159.85 337.84h15.08v1.18h-15.08zM159.85 348.66h15.08v1.18h-15.08zM159.85 352.82h15.08v1.18h-15.08zM159.85 360.31h15.08v1.18h-15.08zM159.85 372.80h15.08v2.01h-15.08zM159.85 375.30h15.08v1.18h-15.08zM159.85 379.46h15.08v1.18h-15.08zM159.85 385.28h15.08v1.18h-15.08zM159.85 432.73h15.08v1.18h-15.08zM174.62 307.88h14.78v1.18h-14.78zM174.62 329.52h14.78v1.18h-14.78zM174.62 343.67h14.78v1.18h-14.78zM174.62 345.33h14.78v1.18h-14.78zM174.62 352.82h14.78v1.18h-14.78zM174.62 426.07h14.78v1.18h-14.78zM174.62 435.22h14.78v2.01h-14.78zM174.62 442.71h14.78v1.18h-14.78zM174.62 444.38h14.78v1.18h-14.78z"/>
<path fill="#d96656" d="M71.20 306.21h15.08v2.01h-15.08zM71.20 315.37h15.08v2.01h-15.08zM100.75 305.38h15.08v1.18h-15.08zM130.30 290.40h15.08v1.18h-15.08zM145.07 312.04h15.08v1.18h-15.08zM145.07 385.28h15.08v1.18h-15.08zM159.85 295.39h15.08v1.18h-15.08zM159.85 301.22h15.08v1.18h-15.08zM159.85 331.18h15.08v1.18h-15.08zM159.85 335.35h15.08v1.18h-15.08zM159.85 339.51h15.08v1.18h-15.08zM159.85 347.83h15.08v1.18h-15.08zM159.85 351.16h15.08v1.18h-15.08zM159.85 357.82h15.08v1.18h-15.08zM159.85 359.48h15.08v1.18h-15.08zM159.85 362.81h15.08v1.18h-15.08zM159.85 366.14h15.08v1.18h-15.08zM159.85 368.64h15.08v1.18h-15.08zM159.85 387.78h15.08v1.18h-15.08zM174.62 311.21h14.78v1.18h-14.78zM174.62 318.70h14.78v1.18h-14.78zM174.62 322.03h14.78v1.18h-14.78zM174.62 347.83h14.78v1.18h-14.78zM174.62 349.49h14.78v1.18h-14.78z"/>
<path fill="#dc6f5c" d="M71.20 308.71h15.08v1.18h-15.08zM71.20 327.85h15.08v1.18h-15.08zM115.53 305.38h15.08v1.18h-15.08zM130.30 292.90h15.08v1.18h-15.08zM145.07 386.12h15.08v1.18h-15.08zM159.85 290.40h15.08v2.01h-15.08zM159.85 297.06h15.08v1.18h-15.08zM159.85 302.05h15.08v1.18h-15.08zM159.85 309.54h15.08v2.85h-15.08zM159.85 314.54h15.08v1.18h-15.08zM159.85 316.20h15.08v1.18h-15.08zM159.85 332.02h15.08v1.18h-15.08zM159.85 334.51h15.08v1.18h-15.08zM159.85 342.00h15.08v1.18h-15.08zM159.85 344.50h15.08v1.18h-15.08zM159.85 350.33h15.08v1.18h-15.08zM159.85 356.99h15.08v1.18h-15.08zM159.85 363.64h15.08v1.18h-15.08zM159.85 374.46h15.08v1.18h-15.08zM159.85 380.29h15.08v1.18h-15.08zM159.85 383.62h15.08v1.18h-15.08zM174.62 301.22h14.78v1.18h-14.78zM174.62 305.38h14.78v2.85h-14.78zM174.62 308.71h14.78v1.18h-14.78zM174.62 317.03h14.78v1.18h-14.78zM174.62 322.86h14.78v2.01h-14.78zM174.62 344.50h14.78v1.18h-14.78zM174.62 347.00h14.78v1.18h-14.78zM174.62 348.66h14.78v1.18h-14.78zM174.62 350.33h14.78v1.18h-14.78zM174.62 351.99h14.78v1.18h-14.78zM174.62 448.54h14.78v1.18h-14.78z"/>
<path fill="#f5c0a5" d="M71.20 322.03h15.08v1.18h-15.08zM71.20 388.61h15.08v1.18h-15.08zM71.20 390.28h15.08v1.18h-15.08zM71.20 400.27h15.08v1.18h-15.08zM71.20 401.93h15.08v2.85h-15.08zM71.20 414.42h15.08v2.01h-15.08zM85.98 318.70h15.08v1.18h-15.08zM85.98 352.82h15.08v1.18h-15.08zM85.98 413.58h15.08v1.18h-15.08zM85.98 421.91h15.08v1.18h-15.08zM85.98 460.19h15.08v1.18h-15.08zM85.98 496.82h15.08v1.18h-15.08zM85.98 505.97h15.08v1.18h-15.08zM85.98 564.23h15.08v1.18h-15.08zM100.75 296.23h15.08v1.18h-15.08zM100.75 391.94h15.08v1.18h-15.08zM100.75 467.68h15.08v1.18h-15.08zM100.75 469.35h15.08v2.85h-15.08zM100.75 472.68h15.08v1.18h-15.08zM100.75 474.34h15.08v1.18h-15.08zM100.75 495.15h15.08v1.18h-15.08zM100.75 499.31h15.08v1.18h-15.08zM100.75 502.64h15.08v1.18h-15.08zM115.53 316.20h15.08v1.18h-15.08zM115.53 356.15h15.08v1.18h-15.08zM115.53 363.64h15.08v1.18h-15.08zM115.53 368.64h15.08v1.18h-15.08zM115.53 371.14h15.08v1.18h-15.08zM115.53 375.30h15.08v1.18h-15.08zM115.53 377.79h15.08v1.18h-15.08zM115.53 382.79h15.08v2.01h-15.08zM130.30 365.31h15.08v1.18h-15.08zM130.30 367.81h15.08v2.85h-15.08zM130.30 371.14h15.08v1.18h-15.08zM130.30 373.63h15.08v2.01h-15.08zM130.30 380.29h15.08v1.18h-15.08zM130.30 383.62h15.08v1.18h-15.08zM130.30 385.28h15.08v1.18h-15.08zM130.30 386.95h15.08v1.18h-15.08zM130.30 415.25h15.08v1.18h-15.08zM130.30 420.24h15.08v1.18h-15.08zM145.07 322.03h15.08v2.01h-15.08zM145.07 337.01h15.08v2.01h-15.08zM145.07 340.34h15.08v1.18h-15.08zM145.07 401.93h15.08v1.18h-15.08zM145.07 460.19h15.08v1.18h-15.08zM145.07 463.52h15.08v1.18h-15.08zM145.07 495.15h15.08v1.18h-15.08zM145.07 499.31h15.08v1.18h-15.08zM159.85 393.61h15.08v1.18h-15.08zM159.85 395.27h15.08v1.18h-15.08zM159.85 407.76h15.08v2.01h-15.08zM159.85 411.09h15.08v1.18h-15.08zM159.85 412.75h15.08v1.18h-15.08zM159.85 416.08h15.08v1.18h-15.08zM159.85 418.58h15.08v2.01h-15.08zM159.85 451.87h15.08v1.18h-15.08zM159.85 456.03h15.08v1.18h-15.08zM159.85 465.19h15.08v2.85h-15.08zM159.85 473.51h15.08v2.85h-15.08z"/>
<path fill="#f8e8e0" d="M71.20 337.01h15.08v1.18h-15.08zM71.20 338.67h15.08v1.18h-15.08zM71.20 346.17h15.08v1.18h-15.08zM71.20 438.55h15.08v1.18h-15.08zM71.20 441.88h15.08v1.18h-15.08zM71.20 446.88h15.08v1.18h-15.08zM71.20 448.54h15.08v1.18h-15.08zM71.20 479.34h15.08v2.85h-15.08zM71.20 482.67h15.08v2.85h-15.08zM71.20 535.10h15.08v1.18h-15.08zM71.20 560.07h15.08v1.18h-15.08zM85.98 434.39h15.08v1.18h-15.08zM85.98 443.55h15.08v1.18h-15.08zM85.98 447.71h15.08v1.18h-15.08zM85.98 477.67h15.08v1.18h-15.08zM85.98 480.17h15.08v1.18h-15.08zM85.98 522.62h15.08v1.18h-15.08zM85.98 524.28h15.08v3.68h-15.08zM85.98 542.59h15.08v1.18h-15.08zM85.98 545.92h15.08v2.01h-15.08zM85.98 549.25h15.08v2.85h-15.08zM85.98 553.41h15.08v2.01h-15.08zM85.98 555.91h15.08v1.18h-15.08zM85.98 557.57h15.08v2.01h-15.08zM85.98 567.56h15.08v1.18h-15.08zM85.98 569.23h15.08v1.18h-15.08zM85.98 570.89h15.08v1.18h-15.08zM85.98 583.38h15.08v2.01h-15.08zM85.98 586.71h15.08v1.18h-15.08zM85.98 589.20h15.08v2.01h-15.08zM100.75 396.10h15.08v1.18h-15.08zM100.75 428.57h15.08v1.18h-15.08zM100.75 431.06h15.08v1.18h-15.08zM100.75 441.05h15.08v1.18h-15.08zM100.75 444.38h15.08v1.18h-15.08zM100.75 489.32h15.08v1.18h-15.08zM100.75 525.95h15.08v2.85h-15.08zM100.75 529.28h15.08v1.18h-15.08zM100.75 548.42h15.08v1.18h-15.08zM100.75 551.75h15.08v2.01h-15.08zM100.75 555.08h15.08v2.01h-15.08zM100.75 557.57h15.08v2.01h-15.08zM100.75 576.72h15.08v1.18h-15.08zM100.75 578.38h15.08v1.18h-15.08zM100.75 580.05h15.08v3.68h-15.08zM100.75 585.04h15.08v1.18h-15.08zM100.75 589.20h15.08v1.18h-15.08zM115.53 390.28h15.08v1.18h-15.08zM115.53 399.43h15.08v1.18h-15.08zM115.53 404.43h15.08v1.18h-15.08zM115.53 421.91h15.08v1.18h-15.08zM115.53 431.06h15.08v2.85h-15.08zM115.53 436.06h15.08v2.01h-15.08zM115.53 438.55h15.08v1.18h-15.08zM115.53 443.55h15.08v1.18h-15.08zM115.53 446.88h15.08v2.85h-15.08zM115.53 479.34h15.08v1.18h-15.08zM115.53 481.00h15.08v2.01h-15.08zM115.53 484.33h15.08v1.18h-15.08zM115.53 487.66h15.08v1.18h-15.08zM115.53 490.99h15.08v2.01h-15.08zM115.53 503.47h15.08v4.51h-15.08zM115.53 508.47h15.08v1.18h-15.08zM115.53 510.13h15.08v1.18h-15.08zM115.53 520.95h15.08v1.18h-15.08zM115.53 537.60h15.08v1.18h-15.08zM115.53 543.43h15.08v1.18h-15.08zM115.53 547.59h15.08v2.01h-15.08zM115.53 550.08h15.08v1.18h-15.08zM115.53 552.58h15.08v2.85h-15.08zM115.53 555.91h15.08v1.18h-15.08zM115.53 557.57h15.08v1.18h-15.08zM115.53 559.24h15.08v1.18h-15.08zM115.53 560.90h15.08v1.18h-15.08zM115.53 565.07h15.08v1.18h-15.08zM115.53 566.73h15.08v2.01h-15.08zM115.53 574.22h15.08v1.18h-15.08zM130.30 398.60h15.08v1.18h-15.08zM130.30 400.27h15.08v1.18h-15.08zM130.30 405.26h15.08v1.18h-15.08zM130.30 479.34h15.08v1.18h-15.08zM130.30 481.00h15.08v1.18h-15.08zM130.30 482.67h15.08v1.18h-15.08zM130.30 486.00h15.08v2.85h-15.08zM130.30 489.32h15.08v1.18h-15.08zM130.30 490.99h15.08v1.18h-15.08zM130.30 494.32h15.08v1.18h-15.08zM130.30 500.98h15.08v1.18h-15.08zM130.30 502.64h15.08v3.68h-15.08zM130.30 506.80h15.08v1.18h-15.08zM130.30 508.47h15.08v1.18h-15.08zM130.30 511.80h15.08v1.18h-15.08zM130.30 515.13h15.08v2.01h-15.08zM130.30 519.29h15.08v2.01h-15.08zM130.30 521.79h15.08v1.18h-15.08zM130.30 523.45h15.08v2.01h-15.08zM130.30 525.95h15.08v1.18h-15.08zM130.30 538.43h15.08v1.18h-15.08zM130.30 546.75h15.08v2.85h-15.08zM130.30 550.08h15.08v2.85h-15.08zM130.30 553.41h15.08v1.18h-15.08zM130.30 560.07h15.08v1.18h-15.08zM130.30 561.74h15.08v1.18h-15.08zM130.30 565.07h15.08v1.18h-15.08zM130.30 569.23h15.08v1.18h-15.08zM145.07 447.71h15.08v2.01h-15.08zM145.07 450.21h15.08v1.18h-15.08zM145.07 485.16h15.08v1.18h-15.08zM145.07 512.63h15.08v1.18h-15.08zM145.07 516.79h15.08v1.18h-15.08zM145.07 519.29h15.08v1.18h-15.08zM159.85 436.89h15.08v1.18h-15.08zM159.85 447.71h15.08v2.85h-15.08zM159.85 476.84h15.08v1.18h-15.08zM159.85 494.32h15.08v1.18h-15.08zM159.85 496.82h15.08v1.18h-15.08zM159.85 500.14h15.08v2.01h-15.08zM159.85 502.64h15.08v1.18h-15.08zM159.85 504.31h15.08v2.85h-15.08zM159.85 509.30h15.08v2.01h-15.08zM159.85 520.95h15.08v1.18h-15.08zM159.85 524.28h15.08v1.18h-15.08zM159.85 534.27h15.08v2.01h-15.08zM159.85 537.60h15.08v1.18h-15.08zM159.85 540.93h15.08v1.18h-15.08zM159.85 542.59h15.08v3.68h-15.08zM159.85 548.42h15.08v1.18h-15.08zM159.85 550.08h15.08v2.01h-15.08zM159.85 552.58h15.08v1.18h-15.08zM159.85 555.08h15.08v1.18h-15.08zM159.85 557.57h15.08v1.18h-15.08zM159.85 561.74h15.08v1.18h-15.08zM159.85 563.40h15.08v1.18h-15.08zM159.85 565.07h15.08v3.68h-15.08zM174.62 381.96h14.78v2.01h-14.78zM174.62 385.28h14.78v1.18h-14.78zM174.62 406.09h14.78v1.18h-14.78zM174.62 407.76h14.78v2.85h-14.78zM174.62 411.92h14.78v1.18h-14.78zM174.62 413.58h14.78v2.85h-14.78zM174.62 418.58h14.78v2.85h-14.78zM174.62 491.82h14.78v1.18h-14.78zM174.62 493.49h14.78v1.18h-14.78zM174.62 497.65h14.78v2.01h-14.78zM174.62 500.14h14.78v3.68h-14.78zM174.62 504.31h14.78v1.18h-14.78zM174.62 505.97h14.78v1.18h-14.78zM174.62 510.13h14.78v2.85h-14.78zM174.62 519.29h14.78v1.18h-14.78zM174.62 521.79h14.78v1.18h-14.78z"/>
<path fill="#f8e3d8" d="M71.20 337.84h15.08v1.18h-15.08zM71.20 391.94h15.08v1.18h-15.08zM71.20 435.22h15.08v1.18h-15.08zM71.20 437.72h15.08v1.18h-15.08zM71.20 442.71h15.08v1.18h-15.08zM71.20 444.38h15.08v1.18h-15.08zM71.20 486.00h15.08v1.18h-15.08zM71.20 512.63h15.08v1.18h-15.08zM71.20 520.12h15.08v1.18h-15.08zM71.20 522.62h15.08v2.01h-15.08zM71.20 525.95h15.08v2.01h-15.08zM71.20 559.24h15.08v1.18h-15.08zM71.20 560.90h15.08v1.18h-15.08zM71.20 563.40h15.08v1.18h-15.08zM71.20 575.89h15.08v1.18h-15.08zM85.98 337.84h15.08v1.18h-15.08zM85.98 448.54h15.08v1.18h-15.08zM85.98 450.21h15.08v1.18h-15.08zM85.98 516.79h15.08v1.18h-15.08zM85.98 527.61h15.08v2.01h-15.08zM85.98 555.08h15.08v1.18h-15.08zM85.98 556.74h15.08v1.18h-15.08zM85.98 559.24h15.08v2.01h-15.08zM85.98 565.90h15.08v1.18h-15.08zM85.98 568.40h15.08v1.18h-15.08zM100.75 338.67h15.08v1.18h-15.08zM100.75 395.27h15.08v1.18h-15.08zM100.75 448.54h15.08v1.18h-15.08zM100.75 521.79h15.08v2.85h-15.08zM100.75 553.41h15.08v2.01h-15.08zM100.75 556.74h15.08v1.18h-15.08zM100.75 559.24h15.08v1.18h-15.08zM100.75 575.89h15.08v1.18h-15.08zM100.75 577.55h15.08v1.18h-15.08zM100.75 586.71h15.08v1.18h-15.08zM115.53 389.45h15.08v1.18h-15.08zM115.53 391.11h15.08v2.85h-15.08zM115.53 394.44h15.08v1.18h-15.08zM115.53 396.10h15.08v2.85h-15.08zM115.53 400.27h15.08v1.18h-15.08zM115.53 401.93h15.08v1.18h-15.08zM115.53 425.24h15.08v1.18h-15.08zM115.53 430.23h15.08v1.18h-15.08zM115.53 433.56h15.08v2.01h-15.08zM115.53 437.72h15.08v1.18h-15.08zM115.53 439.39h15.08v1.18h-15.08zM115.53 442.71h15.08v1.18h-15.08zM115.53 444.38h15.08v2.85h-15.08zM115.53 451.04h15.08v1.18h-15.08zM115.53 452.70h15.08v1.18h-15.08zM115.53 471.01h15.08v1.18h-15.08zM115.53 476.01h15.08v1.18h-15.08zM115.53 478.50h15.08v1.18h-15.08zM115.53 480.17h15.08v1.18h-15.08zM115.53 482.67h15.08v2.01h-15.08zM115.53 486.83h15.08v1.18h-15.08zM115.53 488.49h15.08v1.18h-15.08zM115.53 492.65h15.08v2.01h-15.08zM115.53 495.15h15.08v1.18h-15.08zM115.53 496.82h15.08v2.01h-15.08zM115.53 499.31h15.08v1.18h-15.08zM115.53 500.98h15.08v2.85h-15.08zM115.53 555.08h15.08v1.18h-15.08zM115.53 556.74h15.08v1.18h-15.08zM115.53 565.90h15.08v1.18h-15.08zM115.53 569.23h15.08v1.18h-15.08zM130.30 389.45h15.08v1.18h-15.08zM130.30 391.11h15.08v1.18h-15.08zM130.30 396.10h15.08v1.18h-15.08zM130.30 397.77h15.08v1.18h-15.08zM130.30 402.76h15.08v1.18h-15.08zM130.30 404.43h15.08v1.18h-15.08zM130.30 425.24h15.08v1.18h-15.08zM130.30 429.40h15.08v1.18h-15.08zM130.30 431.89h15.08v1.18h-15.08zM130.30 434.39h15.08v1.18h-15.08zM130.30 438.55h15.08v1.18h-15.08zM130.30 446.88h15.08v1.18h-15.08zM130.30 476.01h15.08v1.18h-15.08zM130.30 490.16h15.08v1.18h-15.08zM130.30 491.82h15.08v2.85h-15.08zM130.30 495.15h15.08v1.18h-15.08zM130.30 496.82h15.08v1.18h-15.08zM130.30 501.81h15.08v1.18h-15.08zM130.30 510.13h15.08v1.18h-15.08zM130.30 514.29h15.08v1.18h-15.08zM130.30 520.95h15.08v1.18h-15.08zM130.30 562.57h15.08v1.18h-15.08zM145.07 487.66h15.08v1.18h-15.08zM145.07 489.32h15.08v1.18h-15.08zM145.07 490.99h15.08v1.18h-15.08zM145.07 492.65h15.08v1.18h-15.08zM145.07 509.30h15.08v1.18h-15.08zM145.07 513.46h15.08v2.01h-15.08zM145.07 518.46h15.08v1.18h-15.08zM145.07 520.12h15.08v1.18h-15.08zM145.07 523.45h15.08v1.18h-15.08zM159.85 401.93h15.08v1.18h-15.08zM159.85 446.04h15.08v2.01h-15.08zM159.85 478.50h15.08v2.01h-15.08zM159.85 486.83h15.08v1.18h-15.08zM159.85 492.65h15.08v1.18h-15.08zM159.85 495.98h15.08v1.18h-15.08zM159.85 499.31h15.08v1.18h-15.08zM159.85 501.81h15.08v1.18h-15.08zM159.85 539.26h15.08v2.01h-15.08zM159.85 546.75h15.08v1.18h-15.08zM159.85 549.25h15.08v1.18h-15.08zM159.85 554.25h15.08v1.18h-15.08zM159.85 555.91h15.08v1.18h-15.08zM159.85 560.90h15.08v1.18h-15.08zM159.85 562.57h15.08v1.18h-15.08zM174.62 376.13h14.78v1.18h-14.78zM174.62 384.45h14.78v1.18h-14.78zM174.62 386.12h14.78v1.18h-14.78zM174.62 387.78h14.78v1.18h-14.78zM174.62 411.09h14.78v1.18h-14.78zM174.62 412.75h14.78v1.18h-14.78zM174.62 489.32h14.78v1.18h-14.78zM174.62 490.99h14.78v1.18h-14.78zM174.62 492.65h14.78v1.18h-14.78zM174.62 513.46h14.78v1.18h-14.78zM174.62 518.46h14.78v1.18h-14.78zM174.62 520.95h14.78v1.18h-14.78zM174.62 522.62h14.78v1.18h-14.78zM174.62 526.78h14.78v1.18h-14.78z"/>
<path fill="#f0ac90" d="M71.20 340.34h15.08v1.18h-15.08zM71.20 342.84h15.08v2.01h-15.08zM71.20 364.48h15.08v1.18h-15.08zM71.20 369.47h15.08v1.18h-15.08zM71.20 371.14h15.08v1.18h-15.08zM71.20 374.46h15.08v1.18h-15.08zM71.20 376.96h15.08v1.18h-15.08zM71.20 378.63h15.08v1.18h-15.08zM71.20 385.28h15.08v1.18h-15.08zM71.20 418.58h15.08v1.18h-15.08zM71.20 457.70h15.08v1.18h-15.08zM71.20 462.69h15.08v1.18h-15.08zM71.20 468.52h15.08v1.18h-15.08zM71.20 471.01h15.08v1.18h-15.08zM85.98 302.88h15.08v1.18h-15.08zM85.98 310.38h15.08v2.01h-15.08zM85.98 315.37h15.08v3.68h-15.08zM85.98 319.53h15.08v2.85h-15.08zM85.98 332.02h15.08v1.18h-15.08zM85.98 337.01h15.08v1.18h-15.08zM85.98 362.81h15.08v1.18h-15.08zM85.98 382.79h15.08v1.18h-15.08zM85.98 384.45h15.08v1.18h-15.08zM85.98 386.12h15.08v1.18h-15.08zM85.98 387.78h15.08v2.01h-15.08zM85.98 393.61h15.08v1.18h-15.08zM85.98 398.60h15.08v1.18h-15.08zM85.98 414.42h15.08v1.18h-15.08zM85.98 452.70h15.08v2.01h-15.08zM85.98 457.70h15.08v1.18h-15.08zM85.98 459.36h15.08v1.18h-15.08zM85.98 461.86h15.08v1.18h-15.08zM85.98 474.34h15.08v2.01h-15.08zM100.75 293.73h15.08v1.18h-15.08zM100.75 297.06h15.08v1.18h-15.08zM100.75 299.56h15.08v1.18h-15.08zM100.75 310.38h15.08v2.01h-15.08zM100.75 312.87h15.08v1.18h-15.08zM100.75 314.54h15.08v1.18h-15.08zM100.75 316.20h15.08v1.18h-15.08zM100.75 320.36h15.08v2.01h-15.08zM100.75 334.51h15.08v2.01h-15.08zM100.75 356.15h15.08v1.18h-15.08zM100.75 358.65h15.08v1.18h-15.08zM100.75 365.31h15.08v1.18h-15.08zM100.75 367.81h15.08v1.18h-15.08zM100.75 388.61h15.08v1.18h-15.08zM100.75 392.78h15.08v1.18h-15.08zM100.75 406.92h15.08v1.18h-15.08zM100.75 459.36h15.08v2.01h-15.08zM100.75 461.86h15.08v1.18h-15.08zM100.75 498.48h15.08v1.18h-15.08zM115.53 315.37h15.08v1.18h-15.08zM115.53 318.70h15.08v1.18h-15.08zM115.53 325.36h15.08v2.01h-15.08zM115.53 330.35h15.08v2.01h-15.08zM115.53 344.50h15.08v1.18h-15.08zM115.53 348.66h15.08v1.18h-15.08zM115.53 351.99h15.08v1.18h-15.08zM115.53 356.99h15.08v2.01h-15.08zM115.53 360.31h15.08v2.01h-15.08zM115.53 366.97h15.08v1.18h-15.08zM115.53 530.94h15.08v2.01h-15.08zM130.30 321.20h15.08v1.18h-15.08zM130.30 332.02h15.08v1.18h-15.08zM130.30 333.68h15.08v1.18h-15.08zM130.30 359.48h15.08v1.18h-15.08zM130.30 362.81h15.08v1.18h-15.08zM130.30 530.11h15.08v2.01h-15.08zM145.07 291.23h15.08v1.18h-15.08zM145.07 298.72h15.08v2.01h-15.08zM145.07 318.70h15.08v1.18h-15.08zM145.07 351.99h15.08v1.18h-15.08zM145.07 381.12h15.08v2.01h-15.08zM145.07 394.44h15.08v1.18h-15.08zM145.07 398.60h15.08v1.18h-15.08zM145.07 406.09h15.08v1.18h-15.08zM145.07 422.74h15.08v2.85h-15.08zM145.07 427.73h15.08v1.18h-15.08zM145.07 431.06h15.08v2.01h-15.08zM145.07 451.87h15.08v1.18h-15.08zM145.07 457.70h15.08v1.18h-15.08zM145.07 461.86h15.08v2.01h-15.08zM145.07 468.52h15.08v1.18h-15.08zM145.07 498.48h15.08v1.18h-15.08zM145.07 525.11h15.08v1.18h-15.08zM145.07 526.78h15.08v2.01h-15.08zM145.07 529.28h15.08v1.18h-15.08zM159.85 424.40h15.08v1.18h-15.08zM159.85 429.40h15.08v1.18h-15.08zM159.85 456.86h15.08v1.18h-15.08zM159.85 462.69h15.08v1.18h-15.08zM174.62 334.51h14.78v1.18h-14.78zM174.62 425.24h14.78v1.18h-14.78zM174.62 434.39h14.78v1.18h-14.78zM174.62 457.70h14.78v1.18h-14.78zM174.62 469.35h14.78v1.18h-14.78zM174.62 471.01h14.78v1.18h-14.78zM174.62 476.01h14.78v1.18h-14.78zM174.62 555.91h14.78v1.18h-14.78zM174.62 565.07h14.78v1.18h-14.78z"/>
<path fill="#e7eff5" d="M71.20 347.00h15.08v1.18h-15.08zM71.20 490.99h15.08v1.18h-15.08zM71.20 542.59h15.08v1.18h-15.08zM71.20 544.26h15.08v2.01h-15.08zM71.20 549.25h15.08v1.18h-15.08zM71.20 577.55h15.08v1.18h-15.08zM71.20 580.88h15.08v2.01h-15.08zM85.98 351.99h15.08v1.18h-15.08zM115.53 576.72h15.08v1.18h-15.08zM115.53 585.04h15.08v1.18h-15.08zM130.30 575.05h15.08v1.18h-15.08zM130.30 578.38h15.08v3.68h-15.08zM130.30 582.54h15.08v1.18h-15.08zM130.30 584.21h15.08v1.18h-15.08zM174.62 395.27h14.78v1.18h-14.78zM174.62 477.67h14.78v1.18h-14.78zM174.62 486.00h14.78v1.18h-14.78zM174.62 496.82h14.78v1.18h-14.78z"/>
<path fill="#eff3f6" d="M71.20 347.83h15.08v2.01h-15.08zM71.20 350.33h15.08v2.85h-15.08zM71.20 490.16h15.08v1.18h-15.08zM71.20 540.10h15.08v1.18h-15.08zM71.20 541.76h15.08v1.18h-15.08zM71.20 543.43h15.08v1.18h-15.08zM71.20 545.92h15.08v1.18h-15.08zM71.20 550.08h15.08v1.18h-15.08zM71.20 551.75h15.08v1.18h-15.08zM71.20 554.25h15.08v1.18h-15.08zM85.98 347.83h15.08v1.18h-15.08zM85.98 351.16h15.08v1.18h-15.08zM100.75 348.66h15.08v1.18h-15.08zM100.75 351.99h15.08v1.18h-15.08zM100.75 476.84h15.08v1.18h-15.08zM100.75 485.16h15.08v1.18h-15.08zM115.53 577.55h15.08v1.18h-15.08zM130.30 573.39h15.08v1.18h-15.08zM130.30 575.89h15.08v2.85h-15.08zM130.30 581.71h15.08v1.18h-15.08zM130.30 583.38h15.08v1.18h-15.08zM130.30 585.04h15.08v3.68h-15.08zM145.07 535.10h15.08v1.18h-15.08zM145.07 545.09h15.08v1.18h-15.08zM145.07 550.92h15.08v1.18h-15.08zM145.07 558.41h15.08v1.18h-15.08zM145.07 561.74h15.08v1.18h-15.08zM145.07 564.23h15.08v1.18h-15.08zM145.07 567.56h15.08v1.18h-15.08zM145.07 572.56h15.08v2.01h-15.08zM145.07 575.05h15.08v1.18h-15.08zM145.07 583.38h15.08v1.18h-15.08zM145.07 585.04h15.08v1.18h-15.08zM145.07 588.37h15.08v1.18h-15.08zM145.07 590.87h15.08v0.83h-15.08zM159.85 579.22h15.08v2.01h-15.08zM159.85 585.87h15.08v1.18h-15.08zM174.62 478.50h14.78v1.18h-14.78zM174.62 514.29h14.78v1.18h-14.78z"/>
<path fill="#f7f7f7" d="M71.20 349.49h15.08v1.18h-15.08zM71.20 423.57h15.08v4.51h-15.08zM71.20 428.57h15.08v2.01h-15.08zM71.20 432.73h15.08v1.18h-15.08zM71.20 491.82h15.08v1.18h-15.08zM71.20 540.93h15.08v1.18h-15.08zM71.20 546.75h15.08v2.85h-15.08zM71.20 550.92h15.08v1.18h-15.08zM71.20 552.58h15.08v2.01h-15.08zM71.20 555.91h15.08v1.18h-15.08zM71.20 576.72h15.08v1.18h-15.08zM71.20 590.87h15.08v0.83h-15.08zM85.98 347.00h15.08v1.18h-15.08zM85.98 348.66h15.08v2.85h-15.08zM85.98 483.50h15.08v2.01h-15.08zM85.98 486.83h15.08v2.85h-15.08zM85.98 490.16h15.08v4.51h-15.08zM85.98 532.61h15.08v1.18h-15.08zM85.98 534.27h15.08v1.18h-15.08zM85.98 572.56h15.08v1.18h-15.08zM85.98 580.05h15.08v1.18h-15.08zM100.75 347.00h15.08v2.01h-15.08zM100.75 349.49h15.08v2.85h-15.08zM100.75 436.89h15.08v1.18h-15.08zM100.75 477.67h15.08v2.01h-15.08zM100.75 481.00h15.08v1.18h-15.08zM100.75 486.83h15.08v1.18h-15.08zM100.75 530.94h15.08v1.18h-15.08zM100.75 532.61h15.08v2.01h-15.08zM100.75 535.10h15.08v2.01h-15.08zM100.75 540.10h15.08v1.18h-15.08zM100.75 544.26h15.08v1.18h-15.08zM100.75 575.05h15.08v1.18h-15.08zM115.53 534.27h15.08v1.18h-15.08zM115.53 572.56h15.08v1.18h-15.08zM115.53 575.89h15.08v1.18h-15.08zM115.53 585.87h15.08v4.51h-15.08zM115.53 590.87h15.08v0.83h-15.08zM130.30 516.79h15.08v1.18h-15.08zM130.30 534.27h15.08v1.18h-15.08zM130.30 535.93h15.08v1.18h-15.08zM130.30 572.56h15.08v1.18h-15.08zM130.30 574.22h15.08v1.18h-15.08zM130.30 588.37h15.08v2.01h-15.08zM130.30 590.87h15.08v0.83h-15.08zM145.07 532.61h15.08v2.85h-15.08zM145.07 535.93h15.08v1.18h-15.08zM145.07 537.60h15.08v2.01h-15.08zM145.07 540.10h15.08v5.34h-15.08zM145.07 546.75h15.08v1.18h-15.08zM145.07 550.08h15.08v1.18h-15.08zM145.07 551.75h15.08v2.01h-15.08zM145.07 555.91h15.08v2.85h-15.08zM145.07 559.24h15.08v2.85h-15.08zM145.07 562.57h15.08v1.18h-15.08zM145.07 565.07h15.08v2.85h-15.08zM145.07 568.40h15.08v1.18h-15.08zM145.07 570.06h15.08v2.85h-15.08zM145.07 574.22h15.08v1.18h-15.08zM145.07 575.89h15.08v6.18h-15.08zM145.07 582.54h15.08v1.18h-15.08zM145.07 584.21h15.08v1.18h-15.08zM145.07 585.87h15.08v2.85h-15.08zM145.07 590.04h15.08v1.18h-15.08zM159.85 528.44h15.08v1.18h-15.08zM159.85 574.22h15.08v1.18h-15.08zM159.85 576.72h15.08v2.85h-15.08zM159.85 584.21h15.08v2.01h-15.08zM159.85 586.71h15.08v2.85h-15.08zM159.85 590.04h15.08v1.18h-15.08zM174.62 390.28h14.78v1.18h-14.78zM174.62 391.94h14.78v2.01h-14.78zM174.62 396.94h14.78v2.01h-14.78zM174.62 400.27h14.78v1.18h-14.78zM174.62 401.93h14.78v1.18h-14.78zM174.62 486.83h14.78v1.18h-14.78z"/>
<path fill="#f6d2be" d="M71.20 352.82h15.08v1.18h-15.08zM71.20 376.13h15.08v1.18h-15.08zM71.20 391.11h15.08v1.18h-15.08zM71.20 395.27h15.08v1.18h-15.08zM71.20 406.92h15.08v1.18h-15.08zM71.20 495.15h15.08v1.18h-15.08zM71.20 501.81h15.08v1.18h-15.08zM71.20 504.31h15.08v2.01h-15.08zM71.20 510.13h15.08v2.85h-15.08zM71.20 515.13h15.08v1.18h-15.08zM71.20 565.07h15.08v1.18h-15.08zM85.98 342.00h15.08v1.18h-15.08zM85.98 343.67h15.08v2.01h-15.08zM85.98 500.14h15.08v2.01h-15.08zM85.98 504.31h15.08v2.01h-15.08zM85.98 510.13h15.08v2.85h-15.08zM85.98 513.46h15.08v2.01h-15.08zM100.75 340.34h15.08v1.18h-15.08zM100.75 342.84h15.08v1.18h-15.08zM100.75 344.50h15.08v2.01h-15.08zM100.75 397.77h15.08v1.18h-15.08zM100.75 494.32h15.08v1.18h-15.08zM100.75 507.64h15.08v1.18h-15.08zM100.75 509.30h15.08v1.18h-15.08zM100.75 510.96h15.08v3.68h-15.08zM100.75 515.13h15.08v1.18h-15.08zM100.75 565.07h15.08v1.18h-15.08zM100.75 567.56h15.08v1.18h-15.08zM100.75 569.23h15.08v1.18h-15.08zM115.53 411.92h15.08v2.01h-15.08zM115.53 414.42h15.08v2.01h-15.08zM115.53 418.58h15.08v1.18h-15.08zM115.53 420.24h15.08v1.18h-15.08zM115.53 426.07h15.08v1.18h-15.08zM115.53 455.20h15.08v1.18h-15.08zM115.53 456.86h15.08v1.18h-15.08zM115.53 463.52h15.08v2.01h-15.08zM115.53 468.52h15.08v1.18h-15.08zM115.53 470.18h15.08v1.18h-15.08zM115.53 471.85h15.08v2.01h-15.08zM115.53 474.34h15.08v1.18h-15.08zM130.30 388.61h15.08v1.18h-15.08zM130.30 392.78h15.08v1.18h-15.08zM130.30 396.94h15.08v1.18h-15.08zM130.30 410.25h15.08v1.18h-15.08zM130.30 411.92h15.08v1.18h-15.08zM130.30 414.42h15.08v1.18h-15.08zM130.30 417.75h15.08v2.85h-15.08zM130.30 421.07h15.08v1.18h-15.08zM130.30 428.57h15.08v1.18h-15.08zM130.30 451.87h15.08v1.18h-15.08zM130.30 454.37h15.08v1.18h-15.08zM130.30 456.03h15.08v1.18h-15.08zM130.30 464.35h15.08v1.18h-15.08zM130.30 467.68h15.08v2.01h-15.08zM130.30 529.28h15.08v1.18h-15.08zM145.07 435.22h15.08v1.18h-15.08zM145.07 437.72h15.08v2.85h-15.08zM145.07 451.04h15.08v1.18h-15.08zM145.07 477.67h15.08v1.18h-15.08zM145.07 504.31h15.08v1.18h-15.08zM145.07 505.97h15.08v1.18h-15.08zM145.07 508.47h15.08v1.18h-15.08zM145.07 510.13h15.08v1.18h-15.08zM159.85 400.27h15.08v1.18h-15.08zM159.85 403.60h15.08v1.18h-15.08zM159.85 406.09h15.08v1.18h-15.08zM159.85 436.06h15.08v1.18h-15.08zM159.85 441.05h15.08v1.18h-15.08zM159.85 453.53h15.08v1.18h-15.08zM159.85 460.19h15.08v1.18h-15.08zM159.85 476.01h15.08v1.18h-15.08zM159.85 530.11h15.08v2.85h-15.08zM174.62 358.65h14.78v1.18h-14.78zM174.62 366.14h14.78v1.18h-14.78zM174.62 372.80h14.78v1.18h-14.78zM174.62 374.46h14.78v1.18h-14.78zM174.62 530.94h14.78v1.18h-14.78zM174.62 532.61h14.78v1.18h-14.78zM174.62 535.10h14.78v1.18h-14.78zM174.62 540.10h14.78v1.18h-14.78zM174.62 544.26h14.78v2.01h-14.78zM174.62 550.08h14.78v1.18h-14.78zM174.62 551.75h14.78v1.18h-14.78z"/>
<path fill="#f5c6ad" d="M71.20 375.30h15.08v1.18h-15.08zM71.20 396.94h15.08v1.18h-15.08zM71.20 411.92h15.08v1.18h-15.08zM71.20 413.58h15.08v1.18h-15.08zM71.20 416.08h15.08v1.18h-15.08zM71.20 419.41h15.08v1.18h-15.08zM71.20 460.19h15.08v1.18h-15.08zM71.20 495.98h15.08v1.18h-15.08zM71.20 497.65h15.08v2.01h-15.08zM85.98 495.15h15.08v2.01h-15.08zM85.98 501.81h15.08v1.18h-15.08zM85.98 563.40h15.08v1.18h-15.08zM85.98 565.07h15.08v1.18h-15.08zM100.75 399.43h15.08v1.18h-15.08zM100.75 421.91h15.08v1.18h-15.08zM100.75 451.04h15.08v1.18h-15.08zM100.75 463.52h15.08v3.68h-15.08zM100.75 473.51h15.08v1.18h-15.08zM100.75 496.82h15.08v1.18h-15.08zM100.75 501.81h15.08v1.18h-15.08zM100.75 503.47h15.08v2.85h-15.08zM100.75 508.47h15.08v1.18h-15.08zM100.75 566.73h15.08v1.18h-15.08zM100.75 568.40h15.08v1.18h-15.08zM100.75 573.39h15.08v1.18h-15.08zM115.53 317.03h15.08v1.18h-15.08zM115.53 367.81h15.08v1.18h-15.08zM115.53 376.13h15.08v1.18h-15.08zM115.53 378.63h15.08v2.01h-15.08zM115.53 385.28h15.08v1.18h-15.08zM115.53 386.95h15.08v2.01h-15.08zM115.53 462.69h15.08v1.18h-15.08zM115.53 475.18h15.08v1.18h-15.08zM130.30 363.64h15.08v1.18h-15.08zM130.30 379.46h15.08v1.18h-15.08zM130.30 381.12h15.08v1.18h-15.08zM130.30 382.79h15.08v1.18h-15.08zM130.30 458.53h15.08v1.18h-15.08zM130.30 461.86h15.08v2.01h-15.08zM130.30 465.19h15.08v1.18h-15.08zM130.30 466.85h15.08v1.18h-15.08zM130.30 470.18h15.08v1.18h-15.08zM130.30 472.68h15.08v1.18h-15.08zM130.30 475.18h15.08v1.18h-15.08zM130.30 568.40h15.08v1.18h-15.08zM145.07 434.39h15.08v1.18h-15.08zM145.07 436.06h15.08v1.18h-15.08zM145.07 440.22h15.08v1.18h-15.08zM145.07 476.01h15.08v1.18h-15.08zM145.07 481.00h15.08v1.18h-15.08zM145.07 501.81h15.08v2.01h-15.08zM145.07 530.94h15.08v1.18h-15.08zM159.85 389.45h15.08v1.18h-15.08zM159.85 392.78h15.08v1.18h-15.08zM159.85 396.94h15.08v1.18h-15.08zM159.85 399.43h15.08v1.18h-15.08zM159.85 405.26h15.08v1.18h-15.08zM159.85 425.24h15.08v1.18h-15.08zM159.85 434.39h15.08v1.18h-15.08zM159.85 452.70h15.08v1.18h-15.08zM159.85 459.36h15.08v1.18h-15.08zM159.85 461.03h15.08v1.18h-15.08zM159.85 463.52h15.08v1.18h-15.08zM174.62 355.32h14.78v1.18h-14.78zM174.62 356.99h14.78v1.18h-14.78zM174.62 360.31h14.78v1.18h-14.78zM174.62 361.98h14.78v1.18h-14.78zM174.62 370.30h14.78v1.18h-14.78zM174.62 371.97h14.78v1.18h-14.78zM174.62 537.60h14.78v1.18h-14.78zM174.62 543.43h14.78v1.18h-14.78zM174.62 545.92h14.78v1.18h-14.78zM174.62 547.59h14.78v1.18h-14.78zM174.62 553.41h14.78v1.18h-14.78zM174.62 565.90h14.78v1.18h-14.78z"/>
<path fill="#f7ddcf" d="M71.20 392.78h15.08v2.85h-15.08zM71.20 396.10h15.08v1.18h-15.08zM71.20 441.05h15.08v1.18h-15.08zM71.20 494.32h15.08v1.18h-15.08zM71.20 499.31h15.08v1.18h-15.08zM71.20 516.79h15.08v1.18h-15.08zM71.20 518.46h15.08v2.01h-15.08zM71.20 521.79h15.08v1.18h-15.08zM71.20 525.11h15.08v1.18h-15.08zM71.20 527.61h15.08v2.01h-15.08zM71.20 530.11h15.08v2.85h-15.08zM71.20 561.74h15.08v2.01h-15.08zM71.20 564.23h15.08v1.18h-15.08zM71.20 567.56h15.08v1.18h-15.08zM85.98 507.64h15.08v1.18h-15.08zM85.98 512.63h15.08v1.18h-15.08zM85.98 519.29h15.08v2.01h-15.08zM85.98 521.79h15.08v1.18h-15.08zM85.98 523.45h15.08v1.18h-15.08zM85.98 566.73h15.08v1.18h-15.08zM100.75 337.84h15.08v1.18h-15.08zM100.75 339.51h15.08v1.18h-15.08zM100.75 342.00h15.08v1.18h-15.08zM100.75 519.29h15.08v1.18h-15.08zM100.75 525.11h15.08v1.18h-15.08zM100.75 560.07h15.08v3.68h-15.08zM100.75 574.22h15.08v1.18h-15.08zM115.53 393.61h15.08v1.18h-15.08zM115.53 395.27h15.08v1.18h-15.08zM115.53 401.10h15.08v1.18h-15.08zM115.53 403.60h15.08v1.18h-15.08zM115.53 406.09h15.08v1.18h-15.08zM115.53 413.58h15.08v1.18h-15.08zM115.53 416.08h15.08v1.18h-15.08zM115.53 417.75h15.08v1.18h-15.08zM115.53 419.41h15.08v1.18h-15.08zM115.53 424.40h15.08v1.18h-15.08zM115.53 426.90h15.08v3.68h-15.08zM115.53 435.22h15.08v1.18h-15.08zM115.53 440.22h15.08v2.01h-15.08zM115.53 457.70h15.08v1.18h-15.08zM115.53 459.36h15.08v2.85h-15.08zM115.53 465.19h15.08v1.18h-15.08zM115.53 473.51h15.08v1.18h-15.08zM115.53 486.00h15.08v1.18h-15.08zM115.53 489.32h15.08v2.01h-15.08zM115.53 495.98h15.08v1.18h-15.08zM130.30 394.44h15.08v2.01h-15.08zM130.30 399.43h15.08v1.18h-15.08zM130.30 401.93h15.08v1.18h-15.08zM130.30 403.60h15.08v1.18h-15.08zM130.30 406.09h15.08v1.18h-15.08zM130.30 408.59h15.08v1.18h-15.08zM130.30 422.74h15.08v1.18h-15.08zM130.30 426.90h15.08v1.18h-15.08zM130.30 430.23h15.08v2.01h-15.08zM130.30 433.56h15.08v1.18h-15.08zM130.30 435.22h15.08v1.18h-15.08zM130.30 436.89h15.08v1.18h-15.08zM130.30 441.05h15.08v2.85h-15.08zM130.30 444.38h15.08v2.85h-15.08zM130.30 451.04h15.08v1.18h-15.08zM130.30 466.02h15.08v1.18h-15.08zM130.30 495.98h15.08v1.18h-15.08zM130.30 497.65h15.08v2.01h-15.08zM130.30 513.46h15.08v1.18h-15.08zM145.07 446.88h15.08v1.18h-15.08zM145.07 481.83h15.08v1.18h-15.08zM145.07 484.33h15.08v1.18h-15.08zM145.07 486.83h15.08v1.18h-15.08zM145.07 488.49h15.08v1.18h-15.08zM145.07 490.16h15.08v1.18h-15.08zM145.07 491.82h15.08v1.18h-15.08zM145.07 505.14h15.08v1.18h-15.08zM145.07 511.80h15.08v1.18h-15.08zM145.07 515.96h15.08v1.18h-15.08zM145.07 520.95h15.08v1.18h-15.08zM145.07 522.62h15.08v1.18h-15.08zM159.85 391.94h15.08v1.18h-15.08zM159.85 394.44h15.08v1.18h-15.08zM159.85 437.72h15.08v1.18h-15.08zM159.85 441.88h15.08v4.51h-15.08zM159.85 480.17h15.08v6.18h-15.08zM159.85 487.66h15.08v1.18h-15.08zM159.85 490.99h15.08v2.01h-15.08zM159.85 493.49h15.08v1.18h-15.08zM159.85 495.15h15.08v1.18h-15.08zM159.85 498.48h15.08v1.18h-15.08zM159.85 529.28h15.08v1.18h-15.08zM159.85 545.92h15.08v1.18h-15.08zM159.85 547.59h15.08v1.18h-15.08zM159.85 551.75h15.08v1.18h-15.08zM159.85 553.41h15.08v1.18h-15.08zM159.85 556.74h15.08v1.18h-15.08zM159.85 559.24h15.08v2.01h-15.08zM174.62 371.14h14.78v1.18h-14.78zM174.62 375.30h14.78v1.18h-14.78zM174.62 377.79h14.78v2.85h-14.78zM174.62 381.12h14.78v1.18h-14.78zM174.62 383.62h14.78v1.18h-14.78zM174.62 487.66h14.78v2.01h-14.78zM174.62 490.16h14.78v1.18h-14.78zM174.62 525.95h14.78v1.18h-14.78zM174.62 527.61h14.78v1.18h-14.78zM174.62 529.28h14.78v1.18h-14.78z"/>
<path fill="#f6ccb6" d="M71.20 397.77h15.08v1.18h-15.08zM71.20 399.43h15.08v1.18h-15.08zM71.20 411.09h15.08v1.18h-15.08zM71.20 412.75h15.08v1.18h-15.08zM71.20 476.01h15.08v1.18h-15.08zM71.20 496.82h15.08v1.18h-15.08zM71.20 502.64h15.08v2.01h-15.08zM71.20 509.30h15.08v1.18h-15.08zM71.20 515.96h15.08v1.18h-15.08zM85.98 339.51h15.08v2.01h-15.08zM85.98 342.84h15.08v1.18h-15.08zM85.98 476.01h15.08v1.18h-15.08zM85.98 497.65h15.08v1.18h-15.08zM85.98 499.31h15.08v1.18h-15.08zM85.98 502.64h15.08v2.01h-15.08zM85.98 506.80h15.08v1.18h-15.08zM85.98 515.13h15.08v1.18h-15.08zM85.98 561.74h15.08v2.01h-15.08zM100.75 396.94h15.08v1.18h-15.08zM100.75 468.52h15.08v1.18h-15.08zM100.75 500.14h15.08v2.01h-15.08zM100.75 505.97h15.08v2.01h-15.08zM100.75 510.13h15.08v1.18h-15.08zM100.75 515.96h15.08v1.18h-15.08zM100.75 565.90h15.08v1.18h-15.08zM100.75 570.06h15.08v1.18h-15.08zM100.75 571.72h15.08v2.01h-15.08zM115.53 380.29h15.08v1.18h-15.08zM115.53 381.96h15.08v1.18h-15.08zM115.53 386.12h15.08v1.18h-15.08zM115.53 388.61h15.08v1.18h-15.08zM115.53 407.76h15.08v1.18h-15.08zM115.53 409.42h15.08v1.18h-15.08zM115.53 461.86h15.08v1.18h-15.08zM115.53 466.85h15.08v2.01h-15.08zM130.30 381.96h15.08v1.18h-15.08zM130.30 407.76h15.08v1.18h-15.08zM130.30 409.42h15.08v1.18h-15.08zM130.30 411.09h15.08v1.18h-15.08zM130.30 412.75h15.08v1.18h-15.08zM130.30 416.08h15.08v2.01h-15.08zM130.30 421.91h15.08v1.18h-15.08zM130.30 455.20h15.08v1.18h-15.08zM130.30 456.86h15.08v2.01h-15.08zM130.30 469.35h15.08v1.18h-15.08zM130.30 471.01h15.08v1.18h-15.08zM130.30 473.51h15.08v2.01h-15.08zM145.07 338.67h15.08v1.18h-15.08zM145.07 441.05h15.08v1.18h-15.08zM145.07 443.55h15.08v2.01h-15.08zM145.07 461.03h15.08v1.18h-15.08zM145.07 476.84h15.08v1.18h-15.08zM145.07 478.50h15.08v1.18h-15.08zM145.07 480.17h15.08v1.18h-15.08zM145.07 482.67h15.08v1.18h-15.08zM145.07 486.00h15.08v1.18h-15.08zM145.07 496.82h15.08v1.18h-15.08zM145.07 500.14h15.08v2.01h-15.08zM159.85 390.28h15.08v2.01h-15.08zM159.85 396.10h15.08v1.18h-15.08zM159.85 401.10h15.08v1.18h-15.08zM159.85 404.43h15.08v1.18h-15.08zM159.85 406.92h15.08v1.18h-15.08zM159.85 411.92h15.08v1.18h-15.08zM159.85 413.58h15.08v2.01h-15.08zM159.85 454.37h15.08v1.18h-15.08zM159.85 457.70h15.08v1.18h-15.08zM159.85 470.18h15.08v1.18h-15.08zM174.62 359.48h14.78v1.18h-14.78zM174.62 361.15h14.78v1.18h-14.78zM174.62 364.48h14.78v2.01h-14.78zM174.62 366.97h14.78v2.85h-14.78zM174.62 535.93h14.78v2.01h-14.78zM174.62 538.43h14.78v2.01h-14.78zM174.62 540.93h14.78v1.18h-14.78zM174.62 542.59h14.78v1.18h-14.78zM174.62 546.75h14.78v1.18h-14.78zM174.62 548.42h14.78v1.18h-14.78zM174.62 550.92h14.78v1.18h-14.78zM174.62 566.73h14.78v6.18h-14.78zM174.62 573.39h14.78v1.18h-14.78z"/>
<path fill="#f7f2ef" d="M71.20 422.74h15.08v1.18h-15.08zM71.20 427.73h15.08v1.18h-15.08zM71.20 430.23h15.08v2.85h-15.08zM71.20 436.89h15.08v1.18h-15.08zM71.20 477.67h15.08v1.18h-15.08zM71.20 481.83h15.08v1.18h-15.08zM71.20 485.16h15.08v1.18h-15.08zM71.20 488.49h15.08v2.01h-15.08zM71.20 492.65h15.08v1.18h-15.08zM71.20 536.77h15.08v2.01h-15.08zM71.20 539.26h15.08v1.18h-15.08zM71.20 582.54h15.08v2.85h-15.08zM71.20 585.87h15.08v1.18h-15.08zM71.20 588.37h15.08v1.18h-15.08zM71.20 590.04h15.08v1.18h-15.08zM85.98 346.17h15.08v1.18h-15.08zM85.98 424.40h15.08v2.01h-15.08zM85.98 429.40h15.08v1.18h-15.08zM85.98 431.06h15.08v2.01h-15.08zM85.98 436.06h15.08v2.01h-15.08zM85.98 439.39h15.08v1.18h-15.08zM85.98 441.88h15.08v1.18h-15.08zM85.98 446.04h15.08v2.01h-15.08zM85.98 482.67h15.08v1.18h-15.08zM85.98 485.16h15.08v2.01h-15.08zM85.98 489.32h15.08v1.18h-15.08zM85.98 533.44h15.08v1.18h-15.08zM85.98 535.10h15.08v1.18h-15.08zM85.98 537.60h15.08v1.18h-15.08zM85.98 539.26h15.08v2.01h-15.08zM85.98 543.43h15.08v2.01h-15.08zM85.98 547.59h15.08v1.18h-15.08zM85.98 573.39h15.08v1.18h-15.08zM85.98 575.05h15.08v2.85h-15.08zM85.98 579.22h15.08v1.18h-15.08zM85.98 582.54h15.08v1.18h-15.08zM85.98 588.37h15.08v1.18h-15.08zM85.98 590.87h15.08v0.83h-15.08zM100.75 346.17h15.08v1.18h-15.08zM100.75 425.24h15.08v1.18h-15.08zM100.75 429.40h15.08v1.18h-15.08zM100.75 432.73h15.08v2.85h-15.08zM100.75 437.72h15.08v2.85h-15.08zM100.75 441.88h15.08v2.85h-15.08zM100.75 446.04h15.08v2.01h-15.08zM100.75 449.37h15.08v1.18h-15.08zM100.75 479.34h15.08v1.18h-15.08zM100.75 481.83h15.08v1.18h-15.08zM100.75 483.50h15.08v2.01h-15.08zM100.75 486.00h15.08v1.18h-15.08zM100.75 488.49h15.08v1.18h-15.08zM100.75 490.99h15.08v3.68h-15.08zM100.75 528.44h15.08v1.18h-15.08zM100.75 534.27h15.08v1.18h-15.08zM100.75 536.77h15.08v3.68h-15.08zM100.75 540.93h15.08v1.18h-15.08zM100.75 542.59h15.08v1.18h-15.08zM100.75 549.25h15.08v1.18h-15.08zM100.75 579.22h15.08v1.18h-15.08zM100.75 590.04h15.08v1.18h-15.08zM115.53 485.16h15.08v1.18h-15.08zM115.53 507.64h15.08v1.18h-15.08zM115.53 512.63h15.08v1.18h-15.08zM115.53 514.29h15.08v1.18h-15.08zM115.53 515.96h15.08v1.18h-15.08zM115.53 517.62h15.08v1.18h-15.08zM115.53 519.29h15.08v2.01h-15.08zM115.53 527.61h15.08v2.01h-15.08zM115.53 532.61h15.08v1.18h-15.08zM115.53 535.10h15.08v1.18h-15.08zM115.53 536.77h15.08v1.18h-15.08zM115.53 540.10h15.08v1.18h-15.08zM115.53 545.09h15.08v2.01h-15.08zM115.53 563.40h15.08v2.01h-15.08zM115.53 571.72h15.08v1.18h-15.08zM115.53 575.05h15.08v1.18h-15.08zM115.53 590.04h15.08v1.18h-15.08zM130.30 477.67h15.08v2.01h-15.08zM130.30 485.16h15.08v1.18h-15.08zM130.30 527.61h15.08v1.18h-15.08zM130.30 532.61h15.08v2.01h-15.08zM130.30 536.77h15.08v2.01h-15.08zM130.30 540.10h15.08v1.18h-15.08zM130.30 541.76h15.08v1.18h-15.08zM130.30 544.26h15.08v2.85h-15.08zM130.30 555.08h15.08v2.01h-15.08zM130.30 558.41h15.08v1.18h-15.08zM130.30 590.04h15.08v1.18h-15.08zM145.07 531.77h15.08v1.18h-15.08zM145.07 536.77h15.08v1.18h-15.08zM145.07 539.26h15.08v1.18h-15.08zM145.07 545.92h15.08v1.18h-15.08zM145.07 547.59h15.08v2.85h-15.08zM145.07 553.41h15.08v2.01h-15.08zM145.07 563.40h15.08v1.18h-15.08zM145.07 569.23h15.08v1.18h-15.08zM145.07 581.71h15.08v1.18h-15.08zM145.07 589.20h15.08v1.18h-15.08zM159.85 450.21h15.08v1.18h-15.08zM159.85 506.80h15.08v1.18h-15.08zM159.85 512.63h15.08v1.18h-15.08zM159.85 515.13h15.08v3.68h-15.08zM159.85 519.29h15.08v2.01h-15.08zM159.85 521.79h15.08v1.18h-15.08zM159.85 525.11h15.08v1.18h-15.08zM159.85 526.78h15.08v1.18h-15.08zM159.85 533.44h15.08v1.18h-15.08zM159.85 535.93h15.08v1.18h-15.08zM159.85 568.40h15.08v1.18h-15.08zM159.85 571.72h15.08v2.01h-15.08zM159.85 583.38h15.08v1.18h-15.08zM159.85 589.20h15.08v1.18h-15.08zM159.85 590.87h15.08v0.83h-15.08zM174.62 389.45h14.78v1.18h-14.78zM174.62 391.11h14.78v1.18h-14.78zM174.62 393.61h14.78v1.18h-14.78zM174.62 398.60h14.78v2.01h-14.78zM174.62 401.10h14.78v1.18h-14.78zM174.62 402.76h14.78v2.85h-14.78zM174.62 406.92h14.78v1.18h-14.78zM174.62 416.91h14.78v1.18h-14.78zM174.62 494.32h14.78v1.18h-14.78zM174.62 515.96h14.78v1.18h-14.78z"/>
<path fill="#f8ede8" d="M71.20 433.56h15.08v2.01h-15.08zM71.20 436.06h15.08v1.18h-15.08zM71.20 439.39h15.08v2.01h-15.08zM71.20 443.55h15.08v1.18h-15.08zM71.20 445.21h15.08v2.01h-15.08zM71.20 447.71h15.08v1.18h-15.08zM71.20 449.37h15.08v2.01h-15.08zM71.20 476.84h15.08v1.18h-15.08zM71.20 478.50h15.08v1.18h-15.08zM71.20 486.83h15.08v2.01h-15.08zM71.20 493.49h15.08v1.18h-15.08zM71.20 529.28h15.08v1.18h-15.08zM71.20 532.61h15.08v2.85h-15.08zM71.20 535.93h15.08v1.18h-15.08zM71.20 538.43h15.08v1.18h-15.08zM71.20 555.08h15.08v1.18h-15.08zM71.20 556.74h15.08v2.85h-15.08zM71.20 585.04h15.08v1.18h-15.08zM71.20 586.71h15.08v2.01h-15.08zM71.20 589.20h15.08v1.18h-15.08zM85.98 422.74h15.08v2.01h-15.08zM85.98 426.07h15.08v3.68h-15.08zM85.98 430.23h15.08v1.18h-15.08zM85.98 432.73h15.08v2.01h-15.08zM85.98 435.22h15.08v1.18h-15.08zM85.98 437.72h15.08v2.01h-15.08zM85.98 440.22h15.08v2.01h-15.08zM85.98 442.71h15.08v1.18h-15.08zM85.98 444.38h15.08v2.01h-15.08zM85.98 449.37h15.08v1.18h-15.08zM85.98 476.84h15.08v1.18h-15.08zM85.98 478.50h15.08v2.01h-15.08zM85.98 481.00h15.08v2.01h-15.08zM85.98 529.28h15.08v3.68h-15.08zM85.98 535.93h15.08v2.01h-15.08zM85.98 538.43h15.08v1.18h-15.08zM85.98 540.93h15.08v2.01h-15.08zM85.98 545.09h15.08v1.18h-15.08zM85.98 548.42h15.08v1.18h-15.08zM85.98 551.75h15.08v2.01h-15.08zM85.98 570.06h15.08v1.18h-15.08zM85.98 571.72h15.08v1.18h-15.08zM85.98 574.22h15.08v1.18h-15.08zM85.98 577.55h15.08v2.01h-15.08zM85.98 580.88h15.08v2.01h-15.08zM85.98 585.04h15.08v2.01h-15.08zM85.98 587.54h15.08v1.18h-15.08zM100.75 422.74h15.08v2.85h-15.08zM100.75 426.07h15.08v2.85h-15.08zM100.75 430.23h15.08v1.18h-15.08zM100.75 431.89h15.08v1.18h-15.08zM100.75 435.22h15.08v2.01h-15.08zM100.75 440.22h15.08v1.18h-15.08zM100.75 445.21h15.08v1.18h-15.08zM100.75 447.71h15.08v1.18h-15.08zM100.75 450.21h15.08v1.18h-15.08zM100.75 480.17h15.08v1.18h-15.08zM100.75 482.67h15.08v1.18h-15.08zM100.75 487.66h15.08v1.18h-15.08zM100.75 490.16h15.08v1.18h-15.08zM100.75 530.11h15.08v1.18h-15.08zM100.75 531.77h15.08v1.18h-15.08zM100.75 541.76h15.08v1.18h-15.08zM100.75 543.43h15.08v1.18h-15.08zM100.75 545.09h15.08v3.68h-15.08zM100.75 550.08h15.08v2.01h-15.08zM100.75 583.38h15.08v2.01h-15.08zM100.75 585.87h15.08v1.18h-15.08zM100.75 587.54h15.08v2.01h-15.08zM100.75 590.87h15.08v0.83h-15.08zM115.53 402.76h15.08v1.18h-15.08zM115.53 441.88h15.08v1.18h-15.08zM115.53 449.37h15.08v2.01h-15.08zM115.53 476.84h15.08v2.01h-15.08zM115.53 500.14h15.08v1.18h-15.08zM115.53 509.30h15.08v1.18h-15.08zM115.53 510.96h15.08v2.01h-15.08zM115.53 513.46h15.08v1.18h-15.08zM115.53 515.13h15.08v1.18h-15.08zM115.53 516.79h15.08v1.18h-15.08zM115.53 518.46h15.08v1.18h-15.08zM115.53 521.79h15.08v6.18h-15.08zM115.53 533.44h15.08v1.18h-15.08zM115.53 535.93h15.08v1.18h-15.08zM115.53 538.43h15.08v2.01h-15.08zM115.53 540.93h15.08v2.85h-15.08zM115.53 544.26h15.08v1.18h-15.08zM115.53 546.75h15.08v1.18h-15.08zM115.53 549.25h15.08v1.18h-15.08zM115.53 550.92h15.08v2.01h-15.08zM115.53 558.41h15.08v1.18h-15.08zM115.53 560.07h15.08v1.18h-15.08zM115.53 561.74h15.08v2.01h-15.08zM115.53 568.40h15.08v1.18h-15.08zM115.53 570.06h15.08v2.01h-15.08zM115.53 573.39h15.08v1.18h-15.08zM130.30 447.71h15.08v3.68h-15.08zM130.30 476.84h15.08v1.18h-15.08zM130.30 480.17h15.08v1.18h-15.08zM130.30 481.83h15.08v1.18h-15.08zM130.30 483.50h15.08v2.01h-15.08zM130.30 488.49h15.08v1.18h-15.08zM130.30 500.14h15.08v1.18h-15.08zM130.30 505.97h15.08v1.18h-15.08zM130.30 507.64h15.08v1.18h-15.08zM130.30 509.30h15.08v1.18h-15.08zM130.30 510.96h15.08v1.18h-15.08zM130.30 512.63h15.08v1.18h-15.08zM130.30 517.62h15.08v2.01h-15.08zM130.30 522.62h15.08v1.18h-15.08zM130.30 525.11h15.08v1.18h-15.08zM130.30 526.78h15.08v1.18h-15.08zM130.30 528.44h15.08v1.18h-15.08zM130.30 535.10h15.08v1.18h-15.08zM130.30 539.26h15.08v1.18h-15.08zM130.30 540.93h15.08v1.18h-15.08zM130.30 542.59h15.08v2.01h-15.08zM130.30 549.25h15.08v1.18h-15.08zM130.30 552.58h15.08v1.18h-15.08zM130.30 554.25h15.08v1.18h-15.08zM130.30 556.74h15.08v2.01h-15.08zM130.30 559.24h15.08v1.18h-15.08zM130.30 560.90h15.08v1.18h-15.08zM130.30 563.40h15.08v2.01h-15.08zM130.30 570.06h15.08v2.85h-15.08zM145.07 449.37h15.08v1.18h-15.08zM145.07 517.62h15.08v1.18h-15.08zM145.07 555.08h15.08v1.18h-15.08zM159.85 477.67h15.08v1.18h-15.08zM159.85 503.47h15.08v1.18h-15.08zM159.85 507.64h15.08v2.01h-15.08zM159.85 510.96h15.08v2.01h-15.08zM159.85 513.46h15.08v2.01h-15.08zM159.85 518.46h15.08v1.18h-15.08zM159.85 522.62h15.08v2.01h-15.08zM159.85 525.95h15.08v1.18h-15.08zM159.85 527.61h15.08v1.18h-15.08zM159.85 532.61h15.08v1.18h-15.08zM159.85 536.77h15.08v1.18h-15.08zM159.85 538.43h15.08v1.18h-15.08zM159.85 541.76h15.08v1.18h-15.08zM159.85 558.41h15.08v1.18h-15.08zM159.85 564.23h15.08v1.18h-15.08zM159.85 569.23h15.08v2.85h-15.08zM159.85 573.39h15.08v1.18h-15.08zM159.85 575.05h15.08v2.01h-15.08zM174.62 386.95h14.78v1.18h-14.78zM174.62 388.61h14.78v1.18h-14.78zM174.62 405.26h14.78v1.18h-14.78zM174.62 410.25h14.78v1.18h-14.78zM174.62 417.75h14.78v1.18h-14.78zM174.62 421.07h14.78v1.18h-14.78zM174.62 499.31h14.78v1.18h-14.78zM174.62 503.47h14.78v1.18h-14.78zM174.62 505.14h14.78v1.18h-14.78zM174.62 508.47h14.78v2.01h-14.78zM174.62 512.63h14.78v1.18h-14.78zM174.62 516.79h14.78v2.01h-14.78zM174.62 520.12h14.78v1.18h-14.78z"/>
<path fill="#f7d7c7" d="M71.20 451.04h15.08v1.18h-15.08zM71.20 500.14h15.08v2.01h-15.08zM71.20 505.97h15.08v3.68h-15.08zM71.20 513.46h15.08v2.01h-15.08zM71.20 517.62h15.08v1.18h-15.08zM71.20 520.95h15.08v1.18h-15.08zM71.20 524.28h15.08v1.18h-15.08zM71.20 565.90h15.08v2.01h-15.08zM85.98 338.67h15.08v1.18h-15.08zM85.98 341.17h15.08v1.18h-15.08zM85.98 345.33h15.08v1.18h-15.08zM85.98 451.04h15.08v1.18h-15.08zM85.98 494.32h15.08v1.18h-15.08zM85.98 508.47h15.08v2.01h-15.08zM85.98 515.96h15.08v1.18h-15.08zM85.98 517.62h15.08v2.01h-15.08zM85.98 520.95h15.08v1.18h-15.08zM85.98 560.90h15.08v1.18h-15.08zM100.75 341.17h15.08v1.18h-15.08zM100.75 343.67h15.08v1.18h-15.08zM100.75 352.82h15.08v1.18h-15.08zM100.75 476.01h15.08v1.18h-15.08zM100.75 514.29h15.08v1.18h-15.08zM100.75 516.79h15.08v2.85h-15.08zM100.75 520.12h15.08v2.01h-15.08zM100.75 524.28h15.08v1.18h-15.08zM100.75 563.40h15.08v2.01h-15.08zM115.53 398.60h15.08v1.18h-15.08zM115.53 405.26h15.08v1.18h-15.08zM115.53 406.92h15.08v1.18h-15.08zM115.53 408.59h15.08v1.18h-15.08zM115.53 410.25h15.08v2.01h-15.08zM115.53 416.91h15.08v1.18h-15.08zM115.53 421.07h15.08v1.18h-15.08zM115.53 422.74h15.08v2.01h-15.08zM115.53 451.87h15.08v1.18h-15.08zM115.53 453.53h15.08v2.01h-15.08zM115.53 456.03h15.08v1.18h-15.08zM115.53 458.53h15.08v1.18h-15.08zM115.53 466.02h15.08v1.18h-15.08zM115.53 469.35h15.08v1.18h-15.08zM115.53 494.32h15.08v1.18h-15.08zM115.53 498.48h15.08v1.18h-15.08zM115.53 529.28h15.08v1.18h-15.08zM130.30 376.13h15.08v1.18h-15.08zM130.30 390.28h15.08v1.18h-15.08zM130.30 391.94h15.08v1.18h-15.08zM130.30 393.61h15.08v1.18h-15.08zM130.30 401.10h15.08v1.18h-15.08zM130.30 406.92h15.08v1.18h-15.08zM130.30 413.58h15.08v1.18h-15.08zM130.30 423.57h15.08v2.01h-15.08zM130.30 426.07h15.08v1.18h-15.08zM130.30 427.73h15.08v1.18h-15.08zM130.30 432.73h15.08v1.18h-15.08zM130.30 436.06h15.08v1.18h-15.08zM130.30 437.72h15.08v1.18h-15.08zM130.30 439.39h15.08v2.01h-15.08zM130.30 443.55h15.08v1.18h-15.08zM130.30 452.70h15.08v2.01h-15.08zM130.30 459.36h15.08v2.85h-15.08zM130.30 463.52h15.08v1.18h-15.08zM130.30 471.85h15.08v1.18h-15.08zM130.30 499.31h15.08v1.18h-15.08zM130.30 565.90h15.08v1.18h-15.08zM145.07 436.89h15.08v1.18h-15.08zM145.07 441.88h15.08v2.01h-15.08zM145.07 445.21h15.08v2.01h-15.08zM145.07 479.34h15.08v1.18h-15.08zM145.07 483.50h15.08v1.18h-15.08zM145.07 503.47h15.08v1.18h-15.08zM145.07 506.80h15.08v2.01h-15.08zM145.07 510.96h15.08v1.18h-15.08zM145.07 515.13h15.08v1.18h-15.08zM145.07 521.79h15.08v1.18h-15.08zM159.85 397.77h15.08v2.01h-15.08zM159.85 402.76h15.08v1.18h-15.08zM159.85 435.22h15.08v1.18h-15.08zM159.85 438.55h15.08v2.85h-15.08zM159.85 451.04h15.08v1.18h-15.08zM159.85 486.00h15.08v1.18h-15.08zM159.85 488.49h15.08v2.85h-15.08zM159.85 497.65h15.08v1.18h-15.08zM174.62 356.15h14.78v1.18h-14.78zM174.62 357.82h14.78v1.18h-14.78zM174.62 362.81h14.78v2.01h-14.78zM174.62 369.47h14.78v1.18h-14.78zM174.62 373.63h14.78v1.18h-14.78zM174.62 376.96h14.78v1.18h-14.78zM174.62 380.29h14.78v1.18h-14.78zM174.62 421.91h14.78v1.18h-14.78zM174.62 523.45h14.78v2.85h-14.78zM174.62 528.44h14.78v1.18h-14.78zM174.62 530.11h14.78v1.18h-14.78zM174.62 531.77h14.78v1.18h-14.78zM174.62 533.44h14.78v2.01h-14.78zM174.62 541.76h14.78v1.18h-14.78zM174.62 549.25h14.78v1.18h-14.78zM174.62 552.58h14.78v1.18h-14.78zM174.62 572.56h14.78v1.18h-14.78z"/>
<path fill="#e0ebf4" d="M71.20 578.38h15.08v2.85h-15.08zM115.53 578.38h15.08v1.18h-15.08zM115.53 580.05h15.08v3.68h-15.08zM115.53 584.21h15.08v1.18h-15.08zM159.85 580.88h15.08v1.18h-15.08zM174.62 394.44h14.78v1.18h-14.78zM174.62 481.00h14.78v1.18h-14.78zM174.62 495.15h14.78v1.18h-14.78z"/>
<path fill="#d2544b" d="M100.75 327.85h15.08v1.18h-15.08zM159.85 293.73h15.08v1.18h-15.08zM159.85 307.88h15.08v1.18h-15.08zM159.85 312.04h15.08v1.18h-15.08zM159.85 325.36h15.08v1.18h-15.08zM174.62 336.18h14.78v1.18h-14.78zM174.62 340.34h14.78v1.18h-14.78z"/>
<path fill="#740c26" d="M115.53 353.66h15.08v1.18h-15.08zM130.30 353.66h15.08v1.18h-15.08zM145.07 353.66h15.08v1.18h-15.08z"/>
<path fill="#690924" d="M115.53 354.49h15.08v1.18h-15.08zM130.30 354.49h15.08v1.18h-15.08zM145.07 354.49h15.08v1.18h-15.08zM159.85 354.49h15.08v1.18h-15.08zM174.62 354.49h14.78v1.18h-14.78z"/>
<path fill="#d8e7f2" d="M115.53 579.22h15.08v1.18h-15.08zM115.53 583.38h15.08v1.18h-15.08zM159.85 581.71h15.08v2.01h-15.08zM174.62 479.34h14.78v2.01h-14.78zM174.62 481.83h14.78v1.18h-14.78zM174.62 495.98h14.78v1.18h-14.78zM174.62 507.64h14.78v1.18h-14.78zM174.62 515.13h14.78v1.18h-14.78zM174.62 574.22h14.78v1.18h-14.78z"/>
<path fill="#d65d50" d="M130.30 294.56h15.08v1.18h-15.08zM130.30 304.55h15.08v2.01h-15.08zM130.30 327.85h15.08v1.18h-15.08zM145.07 386.95h15.08v1.18h-15.08zM159.85 297.89h15.08v1.18h-15.08zM159.85 300.39h15.08v1.18h-15.08zM159.85 307.05h15.08v1.18h-15.08zM159.85 308.71h15.08v1.18h-15.08zM159.85 340.34h15.08v2.01h-15.08zM159.85 365.31h15.08v1.18h-15.08zM159.85 366.97h15.08v1.18h-15.08zM174.62 296.23h14.78v1.18h-14.78zM174.62 310.38h14.78v1.18h-14.78zM174.62 319.53h14.78v1.18h-14.78zM174.62 351.16h14.78v1.18h-14.78z"/>
<path fill="#cc4443" d="M130.30 303.72h15.08v1.18h-15.08zM145.07 387.78h15.08v1.18h-15.08zM159.85 349.49h15.08v1.18h-15.08zM174.62 290.40h14.78v1.18h-14.78zM174.62 292.06h14.78v1.18h-14.78zM174.62 298.72h14.78v2.01h-14.78zM174.62 316.20h14.78v1.18h-14.78zM174.62 337.84h14.78v1.18h-14.78zM174.62 341.17h14.78v1.18h-14.78z"/>
<path fill="#cf4b45" d="M145.07 389.45h15.08v1.18h-15.08zM159.85 292.90h15.08v1.18h-15.08zM159.85 294.56h15.08v1.18h-15.08zM159.85 315.37h15.08v1.18h-15.08zM159.85 330.35h15.08v1.18h-15.08zM159.85 342.84h15.08v1.18h-15.08zM159.85 347.00h15.08v1.18h-15.08zM174.62 303.72h14.78v1.18h-14.78zM174.62 312.87h14.78v1.18h-14.78zM174.62 337.01h14.78v1.18h-14.78zM174.62 338.67h14.78v1.18h-14.78zM174.62 342.84h14.78v1.18h-14.78z"/>
<path fill="#b82438" d="M159.85 302.88h15.08v1.18h-15.08z"/>
<path fill="#c6363e" d="M159.85 303.72h15.08v1.18h-15.08zM159.85 327.85h15.08v1.18h-15.08zM174.62 297.06h14.78v1.18h-14.78zM174.62 313.70h14.78v1.18h-14.78z"/>
<path fill="#af2035" d="M159.85 304.55h15.08v2.01h-15.08zM174.62 300.39h14.78v1.18h-14.78z"/>
<path fill="#c0283a" d="M159.85 306.21h15.08v1.18h-15.08zM174.62 312.04h14.78v1.18h-14.78zM174.62 325.36h14.78v1.18h-14.78z"/>
<path fill="#9f1930" d="M159.85 326.19h15.08v1.18h-15.08z"/>
<path fill="#c32f3c" d="M159.85 327.02h15.08v1.18h-15.08zM174.62 291.23h14.78v1.18h-14.78zM174.62 295.39h14.78v1.18h-14.78zM174.62 315.37h14.78v1.18h-14.78z"/>
<path fill="#8e112b" d="M159.85 328.69h15.08v2.01h-15.08z"/>
<path fill="#6d0a25" d="M159.85 353.66h15.08v1.18h-15.08zM174.62 353.66h14.78v1.18h-14.78z"/>
<path fill="#800d28" d="M174.62 292.90h14.78v2.01h-14.78z"/>
<path fill="#c93d41" d="M174.62 294.56h14.78v1.18h-14.78zM174.62 297.89h14.78v1.18h-14.78zM174.62 339.51h14.78v1.18h-14.78z"/>
<path fill="#a71c33" d="M174.62 314.54h14.78v1.18h-14.78z"/>
<path fill="#d0e3f1" d="M174.62 396.10h14.78v1.18h-14.78zM174.62 484.33h14.78v1.18h-14.78zM174.62 506.80h14.78v1.18h-14.78z"/>
<path fill="#4185bd" d="M174.62 416.08h14.78v1.18h-14.78zM174.62 581.71h14.78v1.18h-14.78zM174.62 584.21h14.78v1.18h-14.78z"/>
<path fill="#c8dff0" d="M174.62 482.67h14.78v2.01h-14.78zM174.62 485.16h14.78v1.18h-14.78z"/>
<path fill="#71aed7" d="M174.62 575.05h14.78v1.18h-14.78zM174.62 578.38h14.78v1.18h-14.78z"/>
<path fill="#80b6db" d="M174.62 575.89h14.78v1.18h-14.78zM174.62 577.55h14.78v1.18h-14.78z"/>
<path fill="#64a5d2" d="M174.62 576.72h14.78v1.18h-14.78z"/>
<path fill="#2a70b0" d="M174.62 579.22h14.78v1.18h-14.78zM174.62 585.87h14.78v1.18h-14.78z"/>
<path fill="#4d90c4" d="M174.62 580.05h14.78v1.18h-14.78zM174.62 582.54h14.78v1.18h-14.78z"/>
<path fill="#599acb" d="M174.62 580.88h14.78v1.18h-14.78z"/>
<path fill="#367bb7" d="M174.62 583.38h14.78v1.18h-14.78z"/>
<path fill="#2869a7" d="M174.62 585.04h14.78v1.18h-14.78z"/>
<path fill="#1c4379" d="M174.62 586.71h14.78v1.18h-14.78zM174.62 589.20h14.78v1.18h-14.78z"/>
<path fill="#1f4b82" d="M174.62 587.54h14.78v2.01h-14.78z"/>
<path fill="#1a3c70" d="M174.62 590.04h14.78v1.18h-14.78zM174.62 590.87h14.78v0.83h-14.78z"/>
<rect x="71.2" y="290.4" width="118.20" height="301.30" fill="none" stroke="#333" stroke-width="1.1"/>
<path fill="#6bc1b1" d="M55.30 290.40h13.70v1.18h-13.70zM55.30 505.97h13.70v1.18h-13.70z"/>
<path fill="#cfe6da" d="M55.30 291.23h13.70v1.18h-13.70zM55.30 296.23h13.70v1.18h-13.70zM55.30 301.22h13.70v1.18h-13.70zM55.30 311.21h13.70v1.18h-13.70zM55.30 313.70h13.70v1.18h-13.70zM55.30 317.87h13.70v1.18h-13.70zM55.30 320.36h13.70v1.18h-13.70zM55.30 336.18h13.70v2.01h-13.70zM55.30 342.84h13.70v1.18h-13.70zM55.30 356.15h13.70v1.18h-13.70zM55.30 363.64h13.70v1.18h-13.70zM55.30 377.79h13.70v2.01h-13.70zM55.30 382.79h13.70v1.18h-13.70zM55.30 384.45h13.70v2.01h-13.70zM55.30 386.95h13.70v1.18h-13.70zM55.30 389.45h13.70v2.01h-13.70zM55.30 392.78h13.70v1.18h-13.70zM55.30 401.93h13.70v1.18h-13.70zM55.30 403.60h13.70v2.01h-13.70zM55.30 407.76h13.70v1.18h-13.70zM55.30 414.42h13.70v1.18h-13.70zM55.30 422.74h13.70v2.01h-13.70zM55.30 441.05h13.70v1.18h-13.70zM55.30 450.21h13.70v1.18h-13.70zM55.30 459.36h13.70v1.18h-13.70zM55.30 467.68h13.70v1.18h-13.70zM55.30 469.35h13.70v1.18h-13.70zM55.30 474.34h13.70v1.18h-13.70zM55.30 486.83h13.70v2.01h-13.70zM55.30 493.49h13.70v1.18h-13.70zM55.30 498.48h13.70v1.18h-13.70zM55.30 500.98h13.70v1.18h-13.70zM55.30 505.14h13.70v1.18h-13.70zM55.30 506.80h13.70v1.18h-13.70zM55.30 509.30h13.70v1.18h-13.70zM55.30 515.96h13.70v1.18h-13.70zM55.30 548.42h13.70v1.18h-13.70zM55.30 550.08h13.70v1.18h-13.70zM55.30 554.25h13.70v1.18h-13.70zM55.30 556.74h13.70v1.18h-13.70zM55.30 573.39h13.70v1.18h-13.70zM55.30 579.22h13.70v1.18h-13.70zM55.30 581.71h13.70v2.01h-13.70zM55.30 588.37h13.70v1.18h-13.70z"/>
<path fill="#d9ece2" d="M55.30 292.06h13.70v1.18h-13.70zM55.30 303.72h13.70v1.18h-13.70zM55.30 307.05h13.70v2.01h-13.70zM55.30 309.54h13.70v1.18h-13.70zM55.30 325.36h13.70v1.18h-13.70zM55.30 345.33h13.70v1.18h-13.70zM55.30 383.62h13.70v1.18h-13.70zM55.30 399.43h13.70v2.01h-13.70zM55.30 402.76h13.70v1.18h-13.70zM55.30 406.09h13.70v1.18h-13.70zM55.30 408.59h13.70v1.18h-13.70zM55.30 416.91h13.70v1.18h-13.70zM55.30 433.56h13.70v1.18h-13.70zM55.30 435.22h13.70v1.18h-13.70zM55.30 436.89h13.70v1.18h-13.70zM55.30 443.55h13.70v1.18h-13.70zM55.30 466.02h13.70v1.18h-13.70zM55.30 480.17h13.70v1.18h-13.70zM55.30 481.83h13.70v2.01h-13.70zM55.30 488.49h13.70v1.18h-13.70zM55.30 521.79h13.70v1.18h-13.70zM55.30 530.94h13.70v2.01h-13.70zM55.30 536.77h13.70v1.18h-13.70zM55.30 543.43h13.70v1.18h-13.70zM55.30 547.59h13.70v1.18h-13.70zM55.30 555.91h13.70v1.18h-13.70zM55.30 562.57h13.70v2.01h-13.70zM55.30 575.05h13.70v2.01h-13.70zM55.30 580.88h13.70v1.18h-13.70zM55.30 585.87h13.70v1.18h-13.70z"/>
<path fill="#c8e3d6" d="M55.30 292.90h13.70v1.18h-13.70zM55.30 300.39h13.70v1.18h-13.70zM55.30 308.71h13.70v1.18h-13.70zM55.30 330.35h13.70v1.18h-13.70zM55.30 343.67h13.70v1.18h-13.70zM55.30 351.99h13.70v1.18h-13.70zM55.30 356.99h13.70v1.18h-13.70zM55.30 366.97h13.70v1.18h-13.70zM55.30 386.12h13.70v1.18h-13.70zM55.30 405.26h13.70v1.18h-13.70zM55.30 406.92h13.70v1.18h-13.70zM55.30 425.24h13.70v1.18h-13.70zM55.30 444.38h13.70v1.18h-13.70zM55.30 448.54h13.70v1.18h-13.70zM55.30 452.70h13.70v1.18h-13.70zM55.30 456.86h13.70v2.01h-13.70zM55.30 472.68h13.70v2.01h-13.70zM55.30 476.84h13.70v1.18h-13.70zM55.30 501.81h13.70v1.18h-13.70zM55.30 510.13h13.70v1.18h-13.70zM55.30 512.63h13.70v1.18h-13.70zM55.30 516.79h13.70v1.18h-13.70zM55.30 534.27h13.70v2.01h-13.70zM55.30 540.10h13.70v1.18h-13.70zM55.30 553.41h13.70v1.18h-13.70zM55.30 560.07h13.70v1.18h-13.70zM55.30 571.72h13.70v1.18h-13.70zM55.30 580.05h13.70v1.18h-13.70zM55.30 586.71h13.70v1.18h-13.70zM55.30 589.20h13.70v2.01h-13.70z"/>
<path fill="#d6eadf" d="M55.30 293.73h13.70v2.01h-13.70zM55.30 297.06h13.70v1.18h-13.70zM55.30 298.72h13.70v2.01h-13.70zM55.30 302.05h13.70v1.18h-13.70zM55.30 304.55h13.70v1.18h-13.70zM55.30 310.38h13.70v1.18h-13.70zM55.30 312.87h13.70v1.18h-13.70zM55.30 314.54h13.70v1.18h-13.70zM55.30 316.20h13.70v2.01h-13.70zM55.30 327.02h13.70v1.18h-13.70zM55.30 340.34h13.70v2.01h-13.70zM55.30 346.17h13.70v1.18h-13.70zM55.30 361.15h13.70v2.01h-13.70zM55.30 364.48h13.70v1.18h-13.70zM55.30 370.30h13.70v1.18h-13.70zM55.30 372.80h13.70v1.18h-13.70zM55.30 376.13h13.70v1.18h-13.70zM55.30 380.29h13.70v1.18h-13.70zM55.30 387.78h13.70v1.18h-13.70zM55.30 391.94h13.70v1.18h-13.70zM55.30 413.58h13.70v1.18h-13.70zM55.30 416.08h13.70v1.18h-13.70zM55.30 426.90h13.70v1.18h-13.70zM55.30 431.06h13.70v1.18h-13.70zM55.30 436.06h13.70v1.18h-13.70zM55.30 438.55h13.70v1.18h-13.70zM55.30 446.88h13.70v2.01h-13.70zM55.30 451.87h13.70v1.18h-13.70zM55.30 454.37h13.70v1.18h-13.70zM55.30 465.19h13.70v1.18h-13.70zM55.30 470.18h13.70v1.18h-13.70zM55.30 471.85h13.70v1.18h-13.70zM55.30 476.01h13.70v1.18h-13.70zM55.30 489.32h13.70v1.18h-13.70zM55.30 494.32h13.70v1.18h-13.70zM55.30 495.98h13.70v1.18h-13.70zM55.30 508.47h13.70v1.18h-13.70zM55.30 517.62h13.70v1.18h-13.70zM55.30 530.11h13.70v1.18h-13.70zM55.30 538.43h13.70v1.18h-13.70zM55.30 545.92h13.70v1.18h-13.70zM55.30 552.58h13.70v1.18h-13.70zM55.30 555.08h13.70v1.18h-13.70zM55.30 557.57h13.70v2.85h-13.70zM55.30 565.90h13.70v1.18h-13.70zM55.30 574.22h13.70v1.18h-13.70zM55.30 578.38h13.70v1.18h-13.70zM55.30 587.54h13.70v1.18h-13.70z"/>
<path fill="#add9c4" d="M55.30 295.39h13.70v1.18h-13.70zM55.30 297.89h13.70v1.18h-13.70zM55.30 312.04h13.70v1.18h-13.70zM55.30 326.19h13.70v1.18h-13.70zM55.30 358.65h13.70v1.18h-13.70zM55.30 375.30h13.70v1.18h-13.70zM55.30 388.61h13.70v1.18h-13.70zM55.30 417.75h13.70v2.01h-13.70zM55.30 437.72h13.70v1.18h-13.70zM55.30 500.14h13.70v1.18h-13.70zM55.30 539.26h13.70v1.18h-13.70zM55.30 545.09h13.70v1.18h-13.70z"/>
<path fill="#d2e8dd" d="M55.30 302.88h13.70v1.18h-13.70zM55.30 319.53h13.70v1.18h-13.70zM55.30 322.86h13.70v1.18h-13.70zM55.30 324.53h13.70v1.18h-13.70zM55.30 327.85h13.70v1.18h-13.70zM55.30 329.52h13.70v1.18h-13.70zM55.30 334.51h13.70v2.01h-13.70zM55.30 339.51h13.70v1.18h-13.70zM55.30 354.49h13.70v1.18h-13.70zM55.30 357.82h13.70v1.18h-13.70zM55.30 359.48h13.70v1.18h-13.70zM55.30 368.64h13.70v2.01h-13.70zM55.30 373.63h13.70v2.01h-13.70zM55.30 376.96h13.70v1.18h-13.70zM55.30 393.61h13.70v2.01h-13.70zM55.30 396.94h13.70v1.18h-13.70zM55.30 409.42h13.70v2.85h-13.70zM55.30 412.75h13.70v1.18h-13.70zM55.30 415.25h13.70v1.18h-13.70zM55.30 419.41h13.70v1.18h-13.70zM55.30 427.73h13.70v1.18h-13.70zM55.30 434.39h13.70v1.18h-13.70zM55.30 441.88h13.70v1.18h-13.70zM55.30 461.03h13.70v2.01h-13.70zM55.30 463.52h13.70v1.18h-13.70zM55.30 468.52h13.70v1.18h-13.70zM55.30 471.01h13.70v1.18h-13.70zM55.30 478.50h13.70v2.01h-13.70zM55.30 485.16h13.70v1.18h-13.70zM55.30 496.82h13.70v1.18h-13.70zM55.30 504.31h13.70v1.18h-13.70zM55.30 510.96h13.70v1.18h-13.70zM55.30 514.29h13.70v2.01h-13.70zM55.30 524.28h13.70v2.01h-13.70zM55.30 526.78h13.70v1.18h-13.70zM55.30 529.28h13.70v1.18h-13.70zM55.30 533.44h13.70v1.18h-13.70zM55.30 535.93h13.70v1.18h-13.70zM55.30 537.60h13.70v1.18h-13.70zM55.30 540.93h13.70v2.01h-13.70zM55.30 549.25h13.70v1.18h-13.70zM55.30 551.75h13.70v1.18h-13.70zM55.30 560.90h13.70v2.01h-13.70zM55.30 565.07h13.70v1.18h-13.70zM55.30 568.40h13.70v1.18h-13.70zM55.30 570.06h13.70v1.18h-13.70zM55.30 576.72h13.70v2.01h-13.70zM55.30 583.38h13.70v1.18h-13.70zM55.30 590.87h13.70v0.83h-13.70z"/>
<path fill="#88ccb8" d="M55.30 305.38h13.70v2.01h-13.70zM55.30 455.20h13.70v1.18h-13.70zM55.30 462.69h13.70v1.18h-13.70z"/>
<path fill="#c1e1d1" d="M55.30 315.37h13.70v1.18h-13.70zM55.30 323.69h13.70v1.18h-13.70zM55.30 342.00h13.70v1.18h-13.70zM55.30 353.66h13.70v1.18h-13.70zM55.30 365.31h13.70v1.18h-13.70zM55.30 381.12h13.70v1.18h-13.70zM55.30 395.27h13.70v1.18h-13.70zM55.30 401.10h13.70v1.18h-13.70zM55.30 456.03h13.70v1.18h-13.70zM55.30 460.19h13.70v1.18h-13.70zM55.30 497.65h13.70v1.18h-13.70zM55.30 511.80h13.70v1.18h-13.70zM55.30 523.45h13.70v1.18h-13.70zM55.30 532.61h13.70v1.18h-13.70zM55.30 542.59h13.70v1.18h-13.70zM55.30 544.26h13.70v1.18h-13.70z"/>
<path fill="#dcede5" d="M55.30 318.70h13.70v1.18h-13.70zM55.30 328.69h13.70v1.18h-13.70zM55.30 366.14h13.70v1.18h-13.70zM55.30 397.77h13.70v1.18h-13.70zM55.30 411.92h13.70v1.18h-13.70zM55.30 440.22h13.70v1.18h-13.70zM55.30 458.53h13.70v1.18h-13.70zM55.30 466.85h13.70v1.18h-13.70zM55.30 483.50h13.70v1.18h-13.70zM55.30 507.64h13.70v1.18h-13.70zM55.30 513.46h13.70v1.18h-13.70zM55.30 564.23h13.70v1.18h-13.70zM55.30 566.73h13.70v1.18h-13.70z"/>
<path fill="#b4dbc9" d="M55.30 321.20h13.70v1.18h-13.70zM55.30 344.50h13.70v1.18h-13.70zM55.30 355.32h13.70v1.18h-13.70zM55.30 360.31h13.70v1.18h-13.70zM55.30 371.14h13.70v2.01h-13.70zM55.30 379.46h13.70v1.18h-13.70zM55.30 381.96h13.70v1.18h-13.70zM55.30 396.10h13.70v1.18h-13.70zM55.30 398.60h13.70v1.18h-13.70zM55.30 446.04h13.70v1.18h-13.70zM55.30 484.33h13.70v1.18h-13.70zM55.30 528.44h13.70v1.18h-13.70zM55.30 546.75h13.70v1.18h-13.70zM55.30 569.23h13.70v1.18h-13.70z"/>
<path fill="#a6d6c0" d="M55.30 322.03h13.70v1.18h-13.70zM55.30 331.18h13.70v1.18h-13.70zM55.30 332.85h13.70v1.18h-13.70zM55.30 352.82h13.70v1.18h-13.70zM55.30 424.40h13.70v1.18h-13.70zM55.30 428.57h13.70v2.85h-13.70zM55.30 442.71h13.70v1.18h-13.70zM55.30 449.37h13.70v1.18h-13.70zM55.30 481.00h13.70v1.18h-13.70zM55.30 490.99h13.70v2.85h-13.70zM55.30 522.62h13.70v1.18h-13.70zM55.30 525.95h13.70v1.18h-13.70zM55.30 527.61h13.70v1.18h-13.70zM55.30 570.89h13.70v1.18h-13.70zM55.30 572.56h13.70v1.18h-13.70z"/>
<path fill="#badecd" d="M55.30 332.02h13.70v1.18h-13.70zM55.30 333.68h13.70v1.18h-13.70zM55.30 445.21h13.70v1.18h-13.70zM55.30 451.04h13.70v1.18h-13.70zM55.30 464.35h13.70v1.18h-13.70zM55.30 475.18h13.70v1.18h-13.70zM55.30 477.67h13.70v1.18h-13.70zM55.30 490.16h13.70v1.18h-13.70zM55.30 503.47h13.70v1.18h-13.70zM55.30 550.92h13.70v1.18h-13.70zM55.30 567.56h13.70v1.18h-13.70z"/>
<path fill="#3aa8aa" d="M55.30 337.84h13.70v2.01h-13.70z"/>
<path fill="#281930" d="M55.30 347.00h13.70v2.85h-13.70z"/>
<path fill="#3d356b" d="M55.30 349.49h13.70v2.85h-13.70z"/>
<path fill="#e0efe7" d="M55.30 362.81h13.70v1.18h-13.70zM55.30 367.81h13.70v1.18h-13.70zM55.30 439.39h13.70v1.18h-13.70zM55.30 486.00h13.70v1.18h-13.70zM55.30 495.15h13.70v1.18h-13.70zM55.30 502.64h13.70v1.18h-13.70z"/>
<path fill="#5cbcad" d="M55.30 391.11h13.70v1.18h-13.70zM55.30 453.53h13.70v1.18h-13.70zM55.30 499.31h13.70v1.18h-13.70z"/>
<path fill="#40b0a8" d="M55.30 420.24h13.70v2.85h-13.70zM55.30 518.46h13.70v3.68h-13.70zM55.30 584.21h13.70v2.01h-13.70z"/>
<path fill="#53b8ab" d="M55.30 426.07h13.70v1.18h-13.70z"/>
<path fill="#3daca9" d="M55.30 431.89h13.70v2.01h-13.70z"/>
<rect x="55.3" y="290.4" width="13.70" height="301.30" fill="none" stroke="#333" stroke-width="1.1"/>
<rect x="192.4" y="290.4" width="13.40" height="301.30" fill="none" stroke="#333" stroke-width="1.1"/>
<path d="M54.40 290.82H51.84V291.65H54.40M54.40 292.48H52.13V293.31H54.40M52.66 292.90H52.26V294.15H54.40M52.26 293.52H51.49V294.98H54.40M54.40 295.81H51.79V296.64H54.40M54.40 297.47H51.74V298.31H54.40M52.58 297.89H52.18V299.14H54.40M51.79 296.23H50.87V298.52H52.18M54.40 299.97H51.77V300.80H54.40M54.40 301.64H51.75V302.47H54.40M51.77 300.39H51.05V302.05H51.75M50.87 297.37H49.77V301.22H51.05M51.49 294.25H49.51V299.30H49.91M51.84 291.23H50.00V296.77H50.40M54.40 303.30H51.68V304.13H54.40M51.77 303.72H51.37V304.97H54.40M51.37 304.34H50.76V305.80H54.40M51.81 305.07H51.41V306.63H54.40M54.40 307.46H52.64V308.29H54.40M52.64 307.88H51.17V309.13H54.40M51.41 305.85H50.03V308.50H51.17M50.01 294.00H49.61V307.18H50.03M54.40 309.96H52.65V310.79H54.40M52.65 310.38H51.89V311.62H54.40M54.40 312.46H52.50V313.29H54.40M54.40 314.12H51.82V314.95H54.40M54.40 315.79H51.74V316.62H54.40M51.82 314.54H51.28V316.20H51.74M52.50 312.87H50.56V315.37H51.28M50.80 314.12H50.40V317.45H54.40M51.89 311.00H49.67V315.79H50.40M54.40 318.28H51.85V319.12H54.40M54.40 319.95H52.54V320.78H54.40M52.54 320.36H51.87V321.61H54.40M51.85 318.70H50.95V320.99H51.87M50.00 313.39H49.60V319.84H50.95M54.40 322.44H51.93V323.28H54.40M52.28 322.86H51.88V324.11H54.40M51.88 323.48H51.40V324.94H54.40M54.40 325.77H51.90V326.61H54.40M51.69 324.21H51.29V326.19H51.90M49.60 316.62H48.71V325.20H51.29M54.40 327.44H52.19V328.27H54.40M52.19 327.85H51.53V329.10H54.40M49.31 320.91H48.91V328.48H51.53M49.61 300.59H48.16V324.69H48.91M54.40 330.77H52.14V331.60H54.40M52.14 331.18H51.32V332.43H54.40M54.40 329.94H51.36V331.81H51.76M54.40 333.26H52.49V334.10H54.40M52.49 333.68H51.10V334.93H54.40M52.02 334.30H51.62V335.76H54.40M51.62 335.03H50.65V336.59H54.40M54.40 337.43H52.72V338.26H54.40M50.94 335.81H50.54V337.84H52.72M51.36 330.87H49.70V336.83H50.54M48.16 312.64H45.60V333.85H49.70M54.40 339.09H52.57V339.92H54.40M52.57 339.51H52.13V340.76H54.40M54.40 341.59H52.11V342.42H54.40M52.13 340.13H50.72V342.00H52.11M54.40 343.25H52.17V344.08H54.40M52.17 343.67H51.14V344.92H54.40M50.80 341.07H50.40V344.29H51.14M54.40 345.75H51.68V346.58H54.40M54.40 347.41H52.60V348.25H54.40M51.68 346.17H51.16V347.83H52.60M54.40 349.91H52.15V350.74H54.40M52.50 350.33H52.10V351.58H54.40M54.40 349.08H51.66V350.95H52.10M51.22 347.00H50.82V350.01H51.66M50.40 342.68H45.60V348.51H50.82M45.60 323.25H41.20V345.59H45.60M54.40 352.41H51.88V353.24H54.40M54.40 354.07H52.36V354.90H54.40M52.51 354.49H52.11V355.74H54.40M51.88 352.82H51.00V355.11H52.11M41.20 334.42H37.10V353.97H51.00M54.40 357.40H51.68V358.23H54.40M52.21 357.82H51.81V359.07H54.40M54.40 359.90H52.77V360.73H54.40M54.40 361.56H52.68V362.40H54.40M52.68 361.98H51.42V363.23H54.40M52.77 360.31H50.81V362.60H51.42M51.81 358.44H50.74V361.46H51.14M50.74 359.95H49.84V364.06H54.40M54.40 364.89H51.68V365.73H54.40M50.77 362.01H50.37V365.31H51.68M54.40 356.57H50.13V363.66H50.53M54.40 367.39H52.15V368.22H54.40M54.40 369.05H52.09V369.89H54.40M52.38 369.47H51.98V370.72H54.40M52.15 367.81H50.44V370.09H51.98M54.40 371.55H52.30V372.38H54.40M51.15 368.95H50.75V371.97H52.30M51.16 370.46H50.76V373.22H54.40M54.40 366.56H49.80V371.84H50.76M50.13 360.11H49.17V369.20H49.80M54.40 374.88H51.74V375.71H54.40M52.52 375.30H52.12V376.55H54.40M54.40 374.05H51.88V375.92H52.28M54.40 377.38H52.19V378.21H54.40M51.88 374.98H50.45V377.79H52.19M49.40 364.66H49.00V376.39H50.45M54.40 379.87H51.79V380.71H54.40M51.79 380.29H51.26V381.54H54.40M52.21 380.91H51.81V382.37H54.40M54.40 379.04H51.48V381.64H51.88M49.00 370.52H48.28V380.34H51.48M54.40 383.20H52.45V384.04H54.40M54.40 387.37H52.71V388.20H54.40M54.40 389.03H52.07V389.86H54.40M52.71 387.78H51.07V389.45H52.07M54.40 386.53H51.01V388.61H51.41M54.40 385.70H51.23V387.57H51.63M51.23 386.64H50.46V390.69H54.40M54.40 384.87H50.98V388.67H51.38M54.40 391.53H52.20V392.36H54.40M54.40 393.19H52.01V394.02H54.40M54.40 394.86H52.55V395.69H54.40M52.01 393.61H51.46V395.27H52.55M54.40 396.52H52.23V397.35H54.40M52.23 396.94H51.75V398.19H54.40M51.46 394.44H50.75V397.56H51.75M54.40 399.02H51.75V399.85H54.40M50.75 396.00H49.65V399.43H51.75M50.86 397.72H50.46V400.68H54.40M50.86 399.20H50.46V401.51H54.40M52.20 391.94H49.91V400.36H50.46M49.91 396.15H49.14V402.35H54.40M50.98 386.77H48.91V399.25H49.31M52.45 383.62H48.77V393.01H49.17M48.28 375.43H47.75V388.31H48.77M54.40 403.18H52.02V404.01H54.40M52.02 403.60H51.40V404.84H54.40M54.40 405.68H51.77V406.51H54.40M52.11 406.09H51.71V407.34H54.40M54.40 408.17H52.32V409.01H54.40M52.32 408.59H51.69V409.84H54.40M51.71 406.72H50.74V409.21H51.69M51.40 404.22H50.28V407.97H50.74M54.40 410.67H52.05V411.50H54.40M52.05 411.09H51.26V412.33H54.40M51.54 411.71H51.14V413.17H54.40M51.62 412.44H51.22V414.00H54.40M50.28 406.09H49.48V413.22H51.22M54.40 414.83H51.64V415.66H54.40M52.26 415.25H51.86V416.50H54.40M51.86 415.87H51.31V417.33H54.40M51.31 416.60H50.67V418.16H54.40M51.18 417.38H50.78V418.99H54.40M54.40 419.83H52.52V420.66H54.40M51.25 418.19H50.85V420.24H52.52M50.85 419.21H49.78V421.49H54.40M49.48 409.66H48.76V420.35H49.78M54.40 422.32H52.15V423.16H54.40M52.15 422.74H51.31V423.99H54.40M54.40 424.82H52.20V425.65H54.40M52.54 425.24H52.14V426.48H54.40M51.31 423.36H50.62V425.86H52.14M51.04 424.61H50.64V427.32H54.40M48.76 415.00H48.36V425.96H50.64M47.75 381.87H43.40V420.48H48.36M54.40 428.15H52.40V428.98H54.40M52.40 428.57H52.00V429.81H54.40M54.40 430.65H52.08V431.48H54.40M52.08 431.06H51.54V432.31H54.40M54.40 433.14H51.88V433.98H54.40M54.40 434.81H52.59V435.64H54.40M52.59 435.22H51.77V436.47H54.40M51.88 433.56H50.50V435.85H51.77M51.54 431.69H50.68V434.70H51.08M54.40 439.80H52.69V440.63H54.40M52.69 440.22H51.29V441.47H54.40M54.40 438.97H50.79V440.84H51.29M54.40 438.14H50.74V439.91H51.14M54.40 437.30H50.51V439.02H50.91M51.19 438.16H50.79V442.30H54.40M54.40 443.13H52.04V443.96H54.40M54.40 444.80H51.69V445.63H54.40M51.73 445.21H51.33V446.46H54.40M52.04 443.55H51.22V445.84H51.62M50.82 440.23H50.42V444.69H51.22M50.68 433.19H49.32V442.46H50.42M54.40 447.29H52.30V448.12H54.40M52.63 447.71H52.23V448.96H54.40M54.40 449.79H52.06V450.62H54.40M54.40 451.45H52.09V452.29H54.40M52.09 451.87H51.25V453.12H54.40M52.06 450.21H50.60V452.49H51.25M54.40 453.95H51.60V454.78H54.40M51.32 451.35H50.92V454.37H51.60M52.23 448.33H49.60V452.86H50.92M54.40 455.62H51.81V456.45H54.40M52.43 456.03H52.03V457.28H54.40M50.20 450.60H49.80V456.66H52.03M49.32 437.83H48.55V453.63H49.80M52.00 429.19H48.19V445.73H48.59M54.40 458.94H51.66V459.78H54.40M51.85 459.36H51.45V460.61H54.40M54.40 458.11H51.87V459.99H52.27M51.87 459.05H51.30V461.44H54.40M51.30 460.25H50.50V462.27H54.40M54.40 463.11H51.90V463.94H54.40M54.40 464.77H51.65V465.60H54.40M54.40 467.27H52.76V468.10H54.40M52.76 467.68H52.15V468.93H54.40M54.40 466.44H51.57V468.31H52.15M51.65 465.19H50.77V467.37H51.57M54.40 470.60H52.03V471.43H54.40M54.40 472.26H52.29V473.09H54.40M52.29 472.68H51.31V473.93H54.40M52.19 473.30H51.79V474.76H54.40M52.03 471.01H50.66V474.03H51.79M54.40 469.77H50.74V472.52H51.14M50.77 466.28H50.29V471.14H50.74M51.90 463.52H49.97V468.71H50.37M49.97 466.12H49.39V475.59H54.40M50.50 461.26H49.22V470.85H49.62M54.40 477.26H52.09V478.09H54.40M52.09 477.67H51.42V478.92H54.40M54.40 476.42H50.72V478.30H51.42M54.40 479.75H52.52V480.59H54.40M54.40 481.42H52.63V482.25H54.40M54.40 483.08H52.20V483.91H54.40M52.63 481.83H50.90V483.50H52.20M51.08 482.67H50.68V484.75H54.40M52.52 480.17H50.82V483.71H51.22M50.92 477.36H50.52V481.94H50.92M54.40 485.58H52.44V486.41H54.40M52.67 486.00H52.27V487.24H54.40M52.27 486.62H51.68V488.08H54.40M54.40 489.74H52.74V490.57H54.40M52.74 490.16H52.07V491.41H54.40M54.40 488.91H50.71V490.78H52.07M51.74 489.84H51.34V492.24H54.40M51.68 487.35H50.27V491.04H51.34M54.40 493.07H51.87V493.90H54.40M54.40 494.73H52.77V495.57H54.40M54.40 496.40H51.77V497.23H54.40M52.47 496.82H52.07V498.06H54.40M52.16 497.44H51.76V498.90H54.40M51.76 498.17H51.16V499.73H54.40M52.77 495.15H50.55V498.95H51.16M51.87 493.49H50.22V497.05H50.62M50.27 489.19H49.15V495.27H50.22M50.52 479.65H48.17V492.23H49.15M49.22 466.06H47.87V485.94H48.27M48.19 437.46H44.80V476.00H47.87M43.40 401.18H41.30V456.73H44.80M54.40 501.39H51.85V502.23H54.40M51.85 501.81H51.45V503.06H54.40M51.67 502.43H51.27V503.89H54.40M54.40 500.56H50.69V503.16H51.27M54.40 504.72H52.67V505.55H54.40M52.67 505.14H51.93V506.39H54.40M52.09 505.76H51.69V507.22H54.40M50.69 501.86H49.72V506.49H51.69M54.40 508.05H52.49V508.88H54.40M54.40 510.55H52.59V511.38H54.40M52.62 510.96H52.22V512.21H54.40M54.40 509.72H51.30V511.59H52.22M54.40 513.05H52.44V513.88H54.40M52.44 513.46H51.17V514.71H54.40M51.24 514.09H50.84V515.54H54.40M51.30 510.65H50.45V514.81H50.85M52.49 508.47H49.68V512.73H50.45M49.72 504.18H48.71V510.60H49.68M54.40 516.38H52.43V517.21H54.40M52.58 516.79H52.18V518.04H54.40M52.18 517.42H50.75V518.87H54.40M54.40 519.70H51.73V520.54H54.40M51.11 518.14H50.71V520.12H51.73M49.29 507.39H48.89V519.13H50.71M54.40 521.37H52.27V522.20H54.40M52.27 521.79H51.86V523.03H54.40M54.40 523.87H52.00V524.70H54.40M52.65 524.28H52.25V525.53H54.40M52.25 524.91H51.75V526.36H54.40M51.86 522.41H51.10V525.63H51.75M54.40 528.03H52.72V528.86H54.40M52.72 528.44H51.12V529.69H54.40M51.50 529.07H51.10V530.52H54.40M54.40 527.20H51.55V529.80H51.95M51.55 528.50H51.09V531.36H54.40M54.40 533.02H52.66V533.85H54.40M52.66 533.44H52.21V534.69H54.40M54.40 532.19H51.02V534.06H52.21M51.09 529.93H49.73V533.13H51.02M51.10 524.02H49.27V531.53H49.73M54.40 535.52H51.80V536.35H54.40M52.33 535.93H51.93V537.18H54.40M54.40 538.02H51.69V538.85H54.40M51.72 538.43H51.32V539.68H54.40M54.40 540.51H52.29V541.34H54.40M54.40 542.18H52.13V543.01H54.40M52.29 540.93H51.82V542.59H52.22M51.32 539.06H50.56V541.76H51.82M54.40 543.84H51.88V544.67H54.40M51.01 540.41H50.61V544.26H51.88M51.93 536.56H49.34V542.33H50.61M50.29 539.45H49.89V545.51H54.40M54.40 546.34H52.61V547.17H54.40M52.61 546.75H51.20V548.00H54.40M54.40 550.50H52.67V551.33H54.40M52.67 550.92H51.88V552.16H54.40M54.40 549.67H51.16V551.54H51.88M54.40 548.84H50.81V550.60H51.21M51.20 547.38H50.46V549.72H50.86M54.40 553.00H51.67V553.83H54.40M52.41 553.41H52.01V554.66H54.40M54.40 556.33H52.39V557.16H54.40M54.40 559.66H52.71V560.49H54.40M54.40 561.32H52.09V562.15H54.40M52.71 560.07H51.28V561.74H52.09M54.40 558.82H51.41V560.90H51.81M54.40 557.99H51.22V559.86H51.62M52.39 556.74H50.83V558.93H51.23M54.40 555.49H50.49V557.83H50.89M52.01 554.04H49.82V556.66H50.49M50.46 548.55H49.52V555.35H49.92M49.89 542.48H48.92V551.95H49.52M54.40 562.98H51.96V563.82H54.40M52.45 563.40H52.05V564.65H54.40M49.17 547.21H48.77V564.03H52.05M54.40 565.48H52.17V566.31H54.40M52.17 565.90H51.70V567.15H54.40M48.81 555.62H48.41V566.52H51.70M49.27 527.77H47.74V561.07H48.41M48.89 513.26H47.50V544.42H47.90M54.40 567.98H51.64V568.81H54.40M54.40 570.48H51.82V571.31H54.40M52.41 570.89H52.01V572.14H54.40M54.40 569.64H51.35V571.52H52.01M51.64 568.40H50.38V570.58H51.35M51.04 569.49H50.64V572.97H54.40M47.63 528.84H47.23V571.23H50.64M54.40 573.81H51.94V574.64H54.40M54.40 575.47H51.91V576.30H54.40M52.05 575.89H51.65V577.13H54.40M52.00 574.22H51.60V576.51H52.00M54.40 577.97H52.55V578.80H54.40M52.55 578.38H51.47V579.63H54.40M54.40 580.46H52.09V581.30H54.40M51.47 579.01H50.98V580.88H52.09M51.60 575.37H50.34V579.94H50.98M54.40 582.13H52.28V582.96H54.40M54.40 583.79H52.18V584.63H54.40M52.18 584.21H51.51V585.46H54.40M52.28 582.54H50.55V584.83H51.51M51.02 583.69H50.62V586.29H54.40M50.34 577.65H49.87V584.99H50.62M54.40 587.12H51.69V587.95H54.40M51.76 587.54H51.36V588.79H54.40M54.40 589.62H52.78V590.45H54.40M52.78 590.04H51.41V591.28H54.40M51.36 588.16H50.96V590.66H51.41M49.87 581.32H49.46V589.41H50.96M47.23 550.04H43.00V585.37H49.46M41.30 428.95H38.30V567.70H43.00M37.10 344.19H27.30V498.33H38.30" fill="none" stroke="#000" stroke-width="0.8"/>
<text transform="translate(19.3,441.2) rotate(-90)" font-size="12.26" text-anchor="middle">CRISPRi strains (362/1498 conditionally DE)</text>
<rect x="309.20" y="25.50" width="18.94" height="20.45" fill="#e8836a"/><rect x="327.84" y="25.50" width="18.94" height="20.45" fill="#efa585"/><rect x="346.48" y="25.50" width="18.94" height="20.45" fill="#eb9478"/><rect x="365.12" y="25.50" width="18.94" height="20.45" fill="#eb9478"/><rect x="383.76" y="25.50" width="18.94" height="20.45" fill="#e88a70"/><rect x="402.40" y="25.50" width="18.94" height="20.45" fill="#efa080"/><rect x="421.04" y="25.50" width="18.94" height="20.45" fill="#dc6650"/><rect x="439.68" y="25.50" width="18.94" height="20.45" fill="#c0243a"/><rect x="309.20" y="45.65" width="18.94" height="20.45" fill="#eb9478"/><rect x="327.84" y="45.65" width="18.94" height="20.45" fill="#dc6e5a"/><rect x="346.48" y="45.65" width="18.94" height="20.45" fill="#f0a888"/><rect x="365.12" y="45.65" width="18.94" height="20.45" fill="#eb9478"/><rect x="383.76" y="45.65" width="18.94" height="20.45" fill="#e6866c"/><rect x="402.40" y="45.65" width="18.94" height="20.45" fill="#e0765e"/><rect x="421.04" y="45.65" width="18.94" height="20.45" fill="#dd6e58"/><rect x="439.68" y="45.65" width="18.94" height="20.45" fill="#c4303e"/><rect x="309.20" y="65.80" width="18.94" height="20.45" fill="#e8ecee"/><rect x="327.84" y="65.80" width="18.94" height="20.45" fill="#e8ecee"/><rect x="346.48" y="65.80" width="18.94" height="20.45" fill="#eef0f2"/><rect x="365.12" y="65.80" width="18.94" height="20.45" fill="#f7dbcc"/><rect x="383.76" y="65.80" width="18.94" height="20.45" fill="#f5e3da"/><rect x="402.40" y="65.80" width="18.94" height="20.45" fill="#efaa8a"/><rect x="421.04" y="65.80" width="18.94" height="20.45" fill="#efa585"/><rect x="439.68" y="65.80" width="18.94" height="20.45" fill="#f4ece8"/><rect x="309.20" y="85.95" width="18.94" height="20.45" fill="#e8ecee"/><rect x="327.84" y="85.95" width="18.94" height="20.45" fill="#e8ecee"/><rect x="346.48" y="85.95" width="18.94" height="20.45" fill="#e8ecee"/><rect x="365.12" y="85.95" width="18.94" height="20.45" fill="#eea080"/><rect x="383.76" y="85.95" width="18.94" height="20.45" fill="#ea9070"/><rect x="402.40" y="85.95" width="18.94" height="20.45" fill="#ec9676"/><rect x="421.04" y="85.95" width="18.94" height="20.45" fill="#d45c4a"/><rect x="439.68" y="85.95" width="18.94" height="20.45" fill="#d86050"/><rect x="309.20" y="106.10" width="18.94" height="20.45" fill="#e6ebed"/><rect x="327.84" y="106.10" width="18.94" height="20.45" fill="#e6ebed"/><rect x="346.48" y="106.10" width="18.94" height="20.45" fill="#e8ecee"/><rect x="365.12" y="106.10" width="18.94" height="20.45" fill="#ec9878"/><rect x="383.76" y="106.10" width="18.94" height="20.45" fill="#eb9a7a"/><rect x="402.40" y="106.10" width="18.94" height="20.45" fill="#e27c64"/><rect x="421.04" y="106.10" width="18.94" height="20.45" fill="#d0544a"/><rect x="439.68" y="106.10" width="18.94" height="20.45" fill="#e4806a"/><rect x="309.20" y="126.25" width="18.94" height="20.45" fill="#e8ecee"/><rect x="327.84" y="126.25" width="18.94" height="20.45" fill="#e8ecee"/><rect x="346.48" y="126.25" width="18.94" height="20.45" fill="#ecefef"/><rect x="365.12" y="126.25" width="18.94" height="20.45" fill="#f0ac8e"/><rect x="383.76" y="126.25" width="18.94" height="20.45" fill="#efa384"/><rect x="402.40" y="126.25" width="18.94" height="20.45" fill="#efa586"/><rect x="421.04" y="126.25" width="18.94" height="20.45" fill="#dc6e5c"/><rect x="439.68" y="126.25" width="18.94" height="20.45" fill="#f2b498"/><rect x="309.20" y="146.40" width="18.94" height="20.45" fill="#e8ecee"/><rect x="327.84" y="146.40" width="18.94" height="20.45" fill="#e8ecee"/><rect x="346.48" y="146.40" width="18.94" height="20.45" fill="#ecefef"/><rect x="365.12" y="146.40" width="18.94" height="20.45" fill="#f0ac8e"/><rect x="383.76" y="146.40" width="18.94" height="20.45" fill="#eda083"/><rect x="402.40" y="146.40" width="18.94" height="20.45" fill="#eea585"/><rect x="421.04" y="146.40" width="18.94" height="20.45" fill="#da6a58"/><rect x="439.68" y="146.40" width="18.94" height="20.45" fill="#f2b498"/><rect x="309.20" y="166.55" width="18.94" height="20.45" fill="#e4e9ec"/><rect x="327.84" y="166.55" width="18.94" height="20.45" fill="#f0f0f0"/><rect x="346.48" y="166.55" width="18.94" height="20.45" fill="#e8ecee"/><rect x="365.12" y="166.55" width="18.94" height="20.45" fill="#f0a888"/><rect x="383.76" y="166.55" width="18.94" height="20.45" fill="#eda082"/><rect x="402.40" y="166.55" width="18.94" height="20.45" fill="#eb9a7c"/><rect x="421.04" y="166.55" width="18.94" height="20.45" fill="#d45a4c"/><rect x="439.68" y="166.55" width="18.94" height="20.45" fill="#e8907a"/><rect x="309.20" y="186.70" width="18.94" height="20.45" fill="#f3f3f2"/><rect x="327.84" y="186.70" width="18.94" height="20.45" fill="#f3f3f1"/><rect x="346.48" y="186.70" width="18.94" height="20.45" fill="#f4f4f3"/><rect x="365.12" y="186.70" width="18.94" height="20.45" fill="#f6e6de"/><rect x="383.76" y="186.70" width="18.94" height="20.45" fill="#f6e2d8"/><rect x="402.40" y="186.70" width="18.94" height="20.45" fill="#f1b89e"/><rect x="421.04" y="186.70" width="18.94" height="20.45" fill="#f5d8c8"/><rect x="439.68" y="186.70" width="18.94" height="20.45" fill="#f6ece6"/><rect x="309.20" y="206.85" width="18.94" height="20.45" fill="#e8ecee"/><rect x="327.84" y="206.85" width="18.94" height="20.45" fill="#e6eaed"/><rect x="346.48" y="206.85" width="18.94" height="20.45" fill="#eaeeef"/><rect x="365.12" y="206.85" width="18.94" height="20.45" fill="#efa888"/><rect x="383.76" y="206.85" width="18.94" height="20.45" fill="#efa688"/><rect x="402.40" y="206.85" width="18.94" height="20.45" fill="#eea385"/><rect x="421.04" y="206.85" width="18.94" height="20.45" fill="#d8685a"/><rect x="439.68" y="206.85" width="18.94" height="20.45" fill="#f0ae90"/><rect x="309.20" y="227.00" width="18.94" height="20.45" fill="#e8ecee"/><rect x="327.84" y="227.00" width="18.94" height="20.45" fill="#eaedef"/><rect x="346.48" y="227.00" width="18.94" height="20.45" fill="#ebeeef"/><rect x="365.12" y="227.00" width="18.94" height="20.45" fill="#f0a888"/><rect x="383.76" y="227.00" width="18.94" height="20.45" fill="#eda080"/><rect x="402.40" y="227.00" width="18.94" height="20.45" fill="#efa586"/><rect x="421.04" y="227.00" width="18.94" height="20.45" fill="#da6c5c"/><rect x="439.68" y="227.00" width="18.94" height="20.45" fill="#f2b094"/>
<g font-size="8.6" fill="#111"><text x="318.52" y="38.28" text-anchor="middle">***</text><text x="337.16" y="38.28" text-anchor="middle">***</text><text x="355.80" y="38.28" text-anchor="middle">***</text><text x="374.44" y="38.28" text-anchor="middle">***</text><text x="393.08" y="38.28" text-anchor="middle">***</text><text x="411.72" y="38.28" text-anchor="middle">***</text><text x="430.36" y="38.28" text-anchor="middle">***</text><text x="449.00" y="38.28" text-anchor="middle">***</text><text x="318.52" y="58.42" text-anchor="middle">***</text><text x="337.16" y="58.42" text-anchor="middle">***</text><text x="355.80" y="58.42" text-anchor="middle">***</text><text x="374.44" y="58.42" text-anchor="middle">***</text><text x="393.08" y="58.42" text-anchor="middle">***</text><text x="411.72" y="58.42" text-anchor="middle">***</text><text x="430.36" y="58.42" text-anchor="middle">***</text><text x="449.00" y="58.42" text-anchor="middle">***</text><text x="411.72" y="78.58" text-anchor="middle">***</text><text x="430.36" y="78.58" text-anchor="middle">***</text><text x="374.44" y="98.72" text-anchor="middle">***</text><text x="393.08" y="98.72" text-anchor="middle">***</text><text x="411.72" y="98.72" text-anchor="middle">***</text><text x="430.36" y="98.72" text-anchor="middle">***</text><text x="449.00" y="98.72" text-anchor="middle">***</text><text x="374.44" y="118.88" text-anchor="middle">***</text><text x="393.08" y="118.88" text-anchor="middle">***</text><text x="411.72" y="118.88" text-anchor="middle">***</text><text x="430.36" y="118.88" text-anchor="middle">***</text><text x="449.00" y="118.88" text-anchor="middle">***</text><text x="374.44" y="139.02" text-anchor="middle">***</text><text x="393.08" y="139.02" text-anchor="middle">***</text><text x="411.72" y="139.02" text-anchor="middle">***</text><text x="430.36" y="139.02" text-anchor="middle">***</text><text x="449.00" y="139.02" text-anchor="middle">***</text><text x="374.44" y="159.17" text-anchor="middle">***</text><text x="393.08" y="159.17" text-anchor="middle">***</text><text x="411.72" y="159.17" text-anchor="middle">***</text><text x="430.36" y="159.17" text-anchor="middle">***</text><text x="449.00" y="159.17" text-anchor="middle">***</text><text x="374.44" y="179.32" text-anchor="middle">***</text><text x="393.08" y="179.32" text-anchor="middle">***</text><text x="411.72" y="179.32" text-anchor="middle">***</text><text x="430.36" y="179.32" text-anchor="middle">***</text><text x="449.00" y="179.32" text-anchor="middle">***</text><text x="411.72" y="199.47" text-anchor="middle">***</text><text x="430.36" y="199.47" text-anchor="middle">***</text><text x="374.44" y="219.62" text-anchor="middle">***</text><text x="393.08" y="219.62" text-anchor="middle">***</text><text x="411.72" y="219.62" text-anchor="middle">***</text><text x="430.36" y="219.62" text-anchor="middle">***</text><text x="449.00" y="219.62" text-anchor="middle">***</text><text x="374.44" y="239.78" text-anchor="middle">***</text><text x="393.08" y="239.78" text-anchor="middle">***</text><text x="411.72" y="239.78" text-anchor="middle">***</text><text x="430.36" y="239.78" text-anchor="middle">***</text><text x="449.00" y="239.78" text-anchor="middle">***</text></g>
<rect x="309.2" y="25.50" width="149.12" height="221.65" fill="none" stroke="#333" stroke-width="1.1"/>
<rect x="293.1" y="25.50" width="13.40" height="221.65" fill="#dc6a30" stroke="#222" stroke-width="0.9"/>
<path d="M293.55 26.40L286.0 35.58L293.55 45.65zM293.55 45.65L286.0 55.72L293.55 65.80zM293.55 65.80L286.0 75.88L293.55 85.95zM293.55 85.95L286.0 96.02L293.55 106.10zM293.55 106.10L286.0 116.17L293.55 126.25zM293.55 126.25L286.0 136.32L293.55 146.40zM293.55 146.40L286.0 156.47L293.55 166.55zM293.55 166.55L286.0 176.62L293.55 186.70zM293.55 186.70L286.0 196.78L293.55 206.85zM293.55 206.85L286.0 216.93L293.55 227.00zM293.55 227.00L286.0 237.08L293.55 246.25z" fill="#dc6a30"/>
<line x1="293.1" y1="26.00" x2="293.1" y2="246.65" stroke="#000" stroke-opacity="0.25" stroke-width="0.6"/>
<rect x="309.20" y="252.71" width="18.94" height="20.45" fill="#f5d3c2"/><rect x="327.84" y="252.71" width="18.94" height="20.45" fill="#f5d3c2"/><rect x="346.48" y="252.71" width="18.94" height="20.45" fill="#f5d3c2"/><rect x="365.12" y="252.71" width="18.94" height="20.45" fill="#f2f2f2"/><rect x="383.76" y="252.71" width="18.94" height="20.45" fill="#f3f1f0"/><rect x="402.40" y="252.71" width="18.94" height="20.45" fill="#f2f2f2"/><rect x="421.04" y="252.71" width="18.94" height="20.45" fill="#e6eaed"/><rect x="439.68" y="252.71" width="18.94" height="20.45" fill="#f5e3da"/><rect x="309.20" y="272.86" width="18.94" height="20.45" fill="#f5d5c5"/><rect x="327.84" y="272.86" width="18.94" height="20.45" fill="#f5d3c2"/><rect x="346.48" y="272.86" width="18.94" height="20.45" fill="#f3c6b0"/><rect x="365.12" y="272.86" width="18.94" height="20.45" fill="#f2f2f2"/><rect x="383.76" y="272.86" width="18.94" height="20.45" fill="#f4efed"/><rect x="402.40" y="272.86" width="18.94" height="20.45" fill="#f2f2f2"/><rect x="421.04" y="272.86" width="18.94" height="20.45" fill="#eaedee"/><rect x="439.68" y="272.86" width="18.94" height="20.45" fill="#f2f2f1"/><rect x="309.20" y="293.01" width="18.94" height="20.45" fill="#f5d5c5"/><rect x="327.84" y="293.01" width="18.94" height="20.45" fill="#f5d3c2"/><rect x="346.48" y="293.01" width="18.94" height="20.45" fill="#f5d0bc"/><rect x="365.12" y="293.01" width="18.94" height="20.45" fill="#f2f2f2"/><rect x="383.76" y="293.01" width="18.94" height="20.45" fill="#f4efed"/><rect x="402.40" y="293.01" width="18.94" height="20.45" fill="#f3f1f0"/><rect x="421.04" y="293.01" width="18.94" height="20.45" fill="#e8ebed"/><rect x="439.68" y="293.01" width="18.94" height="20.45" fill="#e6eaed"/><rect x="309.20" y="313.16" width="18.94" height="20.45" fill="#f5d3c2"/><rect x="327.84" y="313.16" width="18.94" height="20.45" fill="#f5d3c2"/><rect x="346.48" y="313.16" width="18.94" height="20.45" fill="#f5d0bc"/><rect x="365.12" y="313.16" width="18.94" height="20.45" fill="#f0f1f2"/><rect x="383.76" y="313.16" width="18.94" height="20.45" fill="#f4f0ee"/><rect x="402.40" y="313.16" width="18.94" height="20.45" fill="#f2f2f2"/><rect x="421.04" y="313.16" width="18.94" height="20.45" fill="#eaedef"/><rect x="439.68" y="313.16" width="18.94" height="20.45" fill="#e6eaed"/><rect x="309.20" y="333.31" width="18.94" height="20.45" fill="#f5d3c2"/><rect x="327.84" y="333.31" width="18.94" height="20.45" fill="#f5d3c2"/><rect x="346.48" y="333.31" width="18.94" height="20.45" fill="#f5d0bc"/><rect x="365.12" y="333.31" width="18.94" height="20.45" fill="#f1f1f2"/><rect x="383.76" y="333.31" width="18.94" height="20.45" fill="#f2f2f2"/><rect x="402.40" y="333.31" width="18.94" height="20.45" fill="#f2f2f2"/><rect x="421.04" y="333.31" width="18.94" height="20.45" fill="#e8ecee"/><rect x="439.68" y="333.31" width="18.94" height="20.45" fill="#e6eaed"/>
<g font-size="8.6" fill="#111"><text x="318.52" y="265.49" text-anchor="middle">***</text><text x="337.16" y="265.49" text-anchor="middle">***</text><text x="355.80" y="265.49" text-anchor="middle">***</text><text x="318.52" y="285.63" text-anchor="middle">***</text><text x="337.16" y="285.63" text-anchor="middle">***</text><text x="355.80" y="285.63" text-anchor="middle">***</text><text x="318.52" y="305.78" text-anchor="middle">**</text><text x="337.16" y="305.78" text-anchor="middle">***</text><text x="355.80" y="305.78" text-anchor="middle">***</text><text x="318.52" y="325.93" text-anchor="middle">***</text><text x="337.16" y="325.93" text-anchor="middle">***</text><text x="355.80" y="325.93" text-anchor="middle">***</text><text x="318.52" y="346.08" text-anchor="middle">***</text><text x="337.16" y="346.08" text-anchor="middle">***</text><text x="355.80" y="346.08" text-anchor="middle">***</text></g>
<rect x="309.2" y="252.71" width="149.12" height="100.75" fill="none" stroke="#333" stroke-width="1.1"/>
<rect x="293.1" y="252.71" width="13.40" height="100.75" fill="#6a6aaa" stroke="#222" stroke-width="0.9"/>
<path d="M293.55 253.61L286.0 262.79L293.55 272.86zM293.55 272.86L286.0 282.94L293.55 293.01zM293.55 293.01L286.0 303.08L293.55 313.16zM293.55 313.16L286.0 323.23L293.55 333.31zM293.55 333.31L286.0 343.38L293.55 352.56z" fill="#6a6aaa"/>
<line x1="293.1" y1="253.21" x2="293.1" y2="352.96" stroke="#000" stroke-opacity="0.25" stroke-width="0.6"/>
<rect x="309.20" y="359.02" width="18.94" height="20.45" fill="#eceff0"/><rect x="327.84" y="359.02" width="18.94" height="20.45" fill="#f2f2f2"/><rect x="346.48" y="359.02" width="18.94" height="20.45" fill="#eceff0"/><rect x="365.12" y="359.02" width="18.94" height="20.45" fill="#f6d4c2"/><rect x="383.76" y="359.02" width="18.94" height="20.45" fill="#f3c7b0"/><rect x="402.40" y="359.02" width="18.94" height="20.45" fill="#f5e6df"/><rect x="421.04" y="359.02" width="18.94" height="20.45" fill="#eea585"/><rect x="439.68" y="359.02" width="18.94" height="20.45" fill="#f6e2d8"/><rect x="309.20" y="379.17" width="18.94" height="20.45" fill="#f3f3f3"/><rect x="327.84" y="379.17" width="18.94" height="20.45" fill="#f2f2f2"/><rect x="346.48" y="379.17" width="18.94" height="20.45" fill="#eaedef"/><rect x="365.12" y="379.17" width="18.94" height="20.45" fill="#f2b89c"/><rect x="383.76" y="379.17" width="18.94" height="20.45" fill="#f0ad8e"/><rect x="402.40" y="379.17" width="18.94" height="20.45" fill="#f2f2f2"/><rect x="421.04" y="379.17" width="18.94" height="20.45" fill="#f2f2f2"/><rect x="439.68" y="379.17" width="18.94" height="20.45" fill="#f1f1f1"/><rect x="309.20" y="399.32" width="18.94" height="20.45" fill="#f2f2f2"/><rect x="327.84" y="399.32" width="18.94" height="20.45" fill="#f3f3f3"/><rect x="346.48" y="399.32" width="18.94" height="20.45" fill="#f3f3f3"/><rect x="365.12" y="399.32" width="18.94" height="20.45" fill="#f2b294"/><rect x="383.76" y="399.32" width="18.94" height="20.45" fill="#efaa8a"/><rect x="402.40" y="399.32" width="18.94" height="20.45" fill="#f4efeb"/><rect x="421.04" y="399.32" width="18.94" height="20.45" fill="#f4ece8"/><rect x="439.68" y="399.32" width="18.94" height="20.45" fill="#f6dccd"/>
<g font-size="8.6" fill="#111"><text x="374.44" y="371.79" text-anchor="middle">***</text><text x="393.08" y="371.79" text-anchor="middle">***</text><text x="430.36" y="371.79" text-anchor="middle">***</text><text x="374.44" y="391.94" text-anchor="middle">***</text><text x="393.08" y="391.94" text-anchor="middle">***</text><text x="374.44" y="412.09" text-anchor="middle">***</text><text x="393.08" y="412.09" text-anchor="middle">***</text></g>
<rect x="309.2" y="359.02" width="149.12" height="60.45" fill="none" stroke="#333" stroke-width="1.1"/>
<rect x="293.1" y="359.02" width="13.40" height="60.45" fill="#0a8f6a" stroke="#222" stroke-width="0.9"/>
<path d="M293.55 359.92L286.0 369.09L293.55 379.17zM293.55 379.17L286.0 389.24L293.55 399.32zM293.55 399.32L286.0 409.39L293.55 418.57z" fill="#0a8f6a"/>
<line x1="293.1" y1="359.52" x2="293.1" y2="418.97" stroke="#000" stroke-opacity="0.25" stroke-width="0.6"/>
<rect x="309.20" y="425.03" width="18.94" height="20.45" fill="#f5cdb8"/><rect x="327.84" y="425.03" width="18.94" height="20.45" fill="#f4c6ae"/><rect x="346.48" y="425.03" width="18.94" height="20.45" fill="#f4c8b0"/><rect x="365.12" y="425.03" width="18.94" height="20.45" fill="#f6d8c8"/><rect x="383.76" y="425.03" width="18.94" height="20.45" fill="#f5d6c4"/><rect x="402.40" y="425.03" width="18.94" height="20.45" fill="#f6d6c6"/><rect x="421.04" y="425.03" width="18.94" height="20.45" fill="#f5d0bc"/><rect x="439.68" y="425.03" width="18.94" height="20.45" fill="#1a65ad"/><rect x="309.20" y="445.18" width="18.94" height="20.45" fill="#f5ebe7"/><rect x="327.84" y="445.18" width="18.94" height="20.45" fill="#f6e3da"/><rect x="346.48" y="445.18" width="18.94" height="20.45" fill="#f6ddd0"/><rect x="365.12" y="445.18" width="18.94" height="20.45" fill="#eef0f1"/><rect x="383.76" y="445.18" width="18.94" height="20.45" fill="#f2f2f2"/><rect x="402.40" y="445.18" width="18.94" height="20.45" fill="#f3efed"/><rect x="421.04" y="445.18" width="18.94" height="20.45" fill="#f1f1f1"/><rect x="439.68" y="445.18" width="18.94" height="20.45" fill="#1e3f73"/>
<g font-size="8.6" fill="#111"><text x="318.52" y="437.80" text-anchor="middle">***</text><text x="337.16" y="437.80" text-anchor="middle">***</text><text x="355.80" y="437.80" text-anchor="middle">***</text><text x="374.44" y="437.80" text-anchor="middle">*</text><text x="393.08" y="437.80" text-anchor="middle">**</text><text x="411.72" y="437.80" text-anchor="middle">***</text><text x="430.36" y="437.80" text-anchor="middle">***</text><text x="449.00" y="437.80" text-anchor="middle">***</text><text x="449.00" y="457.95" text-anchor="middle">***</text></g>
<rect x="309.2" y="425.03" width="149.12" height="40.30" fill="none" stroke="#333" stroke-width="1.1"/>
<rect x="293.1" y="425.03" width="13.40" height="40.30" fill="#e8308a" stroke="#222" stroke-width="0.9"/>
<path d="M293.55 425.93L286.0 435.10L293.55 445.18zM293.55 445.18L286.0 455.25L293.55 464.43z" fill="#e8308a"/>
<line x1="293.1" y1="425.53" x2="293.1" y2="464.83" stroke="#000" stroke-opacity="0.25" stroke-width="0.6"/>
<rect x="309.20" y="470.89" width="18.94" height="20.45" fill="#edf0f2"/><rect x="327.84" y="470.89" width="18.94" height="20.45" fill="#ebeff1"/><rect x="346.48" y="470.89" width="18.94" height="20.45" fill="#eff1f2"/><rect x="365.12" y="470.89" width="18.94" height="20.45" fill="#e1e9ee"/><rect x="383.76" y="470.89" width="18.94" height="20.45" fill="#ecf0f2"/><rect x="402.40" y="470.89" width="18.94" height="20.45" fill="#f4f0ee"/><rect x="421.04" y="470.89" width="18.94" height="20.45" fill="#f4f0ee"/><rect x="439.68" y="470.89" width="18.94" height="20.45" fill="#7ab6dc"/><rect x="309.20" y="491.04" width="18.94" height="20.45" fill="#eef1f2"/><rect x="327.84" y="491.04" width="18.94" height="20.45" fill="#eceff1"/><rect x="346.48" y="491.04" width="18.94" height="20.45" fill="#f0f2f3"/><rect x="365.12" y="491.04" width="18.94" height="20.45" fill="#e6ecf0"/><rect x="383.76" y="491.04" width="18.94" height="20.45" fill="#e2eaee"/><rect x="402.40" y="491.04" width="18.94" height="20.45" fill="#f2f2f2"/><rect x="421.04" y="491.04" width="18.94" height="20.45" fill="#f2f2f2"/><rect x="439.68" y="491.04" width="18.94" height="20.45" fill="#9ec8e0"/><rect x="309.20" y="511.19" width="18.94" height="20.45" fill="#f2f3f3"/><rect x="327.84" y="511.19" width="18.94" height="20.45" fill="#f2f3f3"/><rect x="346.48" y="511.19" width="18.94" height="20.45" fill="#f2f3f3"/><rect x="365.12" y="511.19" width="18.94" height="20.45" fill="#f2f3f3"/><rect x="383.76" y="511.19" width="18.94" height="20.45" fill="#f2f3f3"/><rect x="402.40" y="511.19" width="18.94" height="20.45" fill="#eef1f2"/><rect x="421.04" y="511.19" width="18.94" height="20.45" fill="#f2f2f2"/><rect x="439.68" y="511.19" width="18.94" height="20.45" fill="#c8dde8"/><rect x="309.20" y="531.34" width="18.94" height="20.45" fill="#edf0f2"/><rect x="327.84" y="531.34" width="18.94" height="20.45" fill="#edf0f2"/><rect x="346.48" y="531.34" width="18.94" height="20.45" fill="#ebeff1"/><rect x="365.12" y="531.34" width="18.94" height="20.45" fill="#e2eaee"/><rect x="383.76" y="531.34" width="18.94" height="20.45" fill="#eaeef0"/><rect x="402.40" y="531.34" width="18.94" height="20.45" fill="#f2f2f2"/><rect x="421.04" y="531.34" width="18.94" height="20.45" fill="#f2f2f2"/><rect x="439.68" y="531.34" width="18.94" height="20.45" fill="#7ab6dc"/><rect x="309.20" y="551.49" width="18.94" height="20.45" fill="#f0f2f3"/><rect x="327.84" y="551.49" width="18.94" height="20.45" fill="#f3f1f0"/><rect x="346.48" y="551.49" width="18.94" height="20.45" fill="#eef1f2"/><rect x="365.12" y="551.49" width="18.94" height="20.45" fill="#e9eef1"/><rect x="383.76" y="551.49" width="18.94" height="20.45" fill="#eaeef0"/><rect x="402.40" y="551.49" width="18.94" height="20.45" fill="#f2f2f2"/><rect x="421.04" y="551.49" width="18.94" height="20.45" fill="#f5efec"/><rect x="439.68" y="551.49" width="18.94" height="20.45" fill="#80badc"/><rect x="309.20" y="571.64" width="18.94" height="20.45" fill="#f0f2f3"/><rect x="327.84" y="571.64" width="18.94" height="20.45" fill="#eaeef0"/><rect x="346.48" y="571.64" width="18.94" height="20.45" fill="#f0f2f3"/><rect x="365.12" y="571.64" width="18.94" height="20.45" fill="#eaeef1"/><rect x="383.76" y="571.64" width="18.94" height="20.45" fill="#edf0f2"/><rect x="402.40" y="571.64" width="18.94" height="20.45" fill="#f2f2f2"/><rect x="421.04" y="571.64" width="18.94" height="20.45" fill="#f2f2f2"/><rect x="439.68" y="571.64" width="18.94" height="20.45" fill="#c6dce8"/>
<g font-size="8.6" fill="#111"><text x="449.00" y="483.66" text-anchor="middle">***</text><text x="449.00" y="503.81" text-anchor="middle">***</text><text x="449.00" y="544.11" text-anchor="middle">***</text><text x="449.00" y="564.26" text-anchor="middle">***</text></g>
<rect x="309.2" y="470.89" width="149.12" height="120.90" fill="none" stroke="#333" stroke-width="1.1"/>
<rect x="293.1" y="470.89" width="13.40" height="120.90" fill="#55a150" stroke="#222" stroke-width="0.9"/>
<path d="M293.55 471.79L286.0 480.96L293.55 491.04zM293.55 491.04L286.0 501.11L293.55 511.19zM293.55 531.34L286.0 541.41L293.55 551.49zM293.55 551.49L286.0 561.56L293.55 571.64z" fill="#55a150"/>
<line x1="293.1" y1="471.39" x2="293.1" y2="591.29" stroke="#000" stroke-opacity="0.25" stroke-width="0.6"/>
<path d="M192.4 298.90H205.80C273.40 298.90 223.85 35.58 286.00 35.58" fill="none" stroke="#dc6a30" stroke-width="1.1"/>
<line x1="192.9" y1="298.90" x2="205.8" y2="298.90" stroke="#dc6a30" stroke-width="1.3" stroke-opacity="0.8"/>
<path d="M192.4 309.60H205.80C273.30 309.60 224.98 55.72 286.00 55.72" fill="none" stroke="#dc6a30" stroke-width="1.1"/>
<line x1="192.9" y1="309.60" x2="205.8" y2="309.60" stroke="#dc6a30" stroke-width="1.3" stroke-opacity="0.8"/>
<path d="M192.4 423.60H205.80C273.85 423.60 217.83 75.88 286.00 75.88" fill="none" stroke="#dc6a30" stroke-width="1.1"/>
<line x1="192.9" y1="423.60" x2="205.8" y2="423.60" stroke="#dc6a30" stroke-width="1.3" stroke-opacity="0.8"/>
<path d="M192.4 492.30H205.80C273.65 492.30 219.97 196.78 286.00 196.78" fill="none" stroke="#dc6a30" stroke-width="1.1"/>
<line x1="192.9" y1="492.30" x2="205.8" y2="492.30" stroke="#dc6a30" stroke-width="1.3" stroke-opacity="0.8"/>
<path d="M192.4 347.60H205.80C272.51 347.60 230.11 136.32 286.00 136.32" fill="none" stroke="#dc6a30" stroke-width="1.1"/>
<line x1="192.9" y1="347.60" x2="205.8" y2="347.60" stroke="#dc6a30" stroke-width="1.3" stroke-opacity="0.8"/>
<path d="M192.4 347.90H205.80C271.87 347.90 232.50 156.47 286.00 156.47" fill="none" stroke="#dc6a30" stroke-width="1.1"/>
<line x1="192.9" y1="347.90" x2="205.8" y2="347.90" stroke="#dc6a30" stroke-width="1.3" stroke-opacity="0.8"/>
<path d="M192.4 348.30H205.80C264.95 348.30 242.14 237.08 286.00 237.08" fill="none" stroke="#dc6a30" stroke-width="1.1"/>
<line x1="192.9" y1="348.30" x2="205.8" y2="348.30" stroke="#dc6a30" stroke-width="1.3" stroke-opacity="0.8"/>
<path d="M192.4 350.30H205.80C273.30 350.30 224.93 96.02 286.00 96.02" fill="none" stroke="#dc6a30" stroke-width="1.1"/>
<line x1="192.9" y1="350.30" x2="205.8" y2="350.30" stroke="#dc6a30" stroke-width="1.3" stroke-opacity="0.8"/>
<path d="M192.4 350.70H205.80C273.01 350.70 227.31 116.17 286.00 116.17" fill="none" stroke="#dc6a30" stroke-width="1.1"/>
<line x1="192.9" y1="350.70" x2="205.8" y2="350.70" stroke="#dc6a30" stroke-width="1.3" stroke-opacity="0.8"/>
<path d="M192.4 351.10H205.80C271.11 351.10 234.53 176.62 286.00 176.62" fill="none" stroke="#dc6a30" stroke-width="1.1"/>
<line x1="192.9" y1="351.10" x2="205.8" y2="351.10" stroke="#dc6a30" stroke-width="1.3" stroke-opacity="0.8"/>
<path d="M192.4 351.50H205.80C268.07 351.50 239.33 216.93 286.00 216.93" fill="none" stroke="#dc6a30" stroke-width="1.1"/>
<line x1="192.9" y1="351.50" x2="205.8" y2="351.50" stroke="#dc6a30" stroke-width="1.3" stroke-opacity="0.8"/>
<path d="M192.4 519.30H205.80C273.33 519.30 224.67 262.79 286.00 262.79" fill="none" stroke="#6a6aaa" stroke-width="1.1"/>
<line x1="192.9" y1="519.30" x2="205.8" y2="519.30" stroke="#6a6aaa" stroke-width="1.3" stroke-opacity="0.8"/>
<path d="M192.4 519.50H205.80C273.05 519.50 227.07 282.94 286.00 282.94" fill="none" stroke="#6a6aaa" stroke-width="1.1"/>
<line x1="192.9" y1="519.50" x2="205.8" y2="519.50" stroke="#6a6aaa" stroke-width="1.3" stroke-opacity="0.8"/>
<path d="M192.4 519.80H205.80C272.64 519.80 229.45 303.08 286.00 303.08" fill="none" stroke="#6a6aaa" stroke-width="1.1"/>
<line x1="192.9" y1="519.80" x2="205.8" y2="519.80" stroke="#6a6aaa" stroke-width="1.3" stroke-opacity="0.8"/>
<path d="M192.4 521.00H205.80C272.10 521.00 231.73 323.23 286.00 323.23" fill="none" stroke="#6a6aaa" stroke-width="1.1"/>
<line x1="192.9" y1="521.00" x2="205.8" y2="521.00" stroke="#6a6aaa" stroke-width="1.3" stroke-opacity="0.8"/>
<path d="M192.4 521.30H205.80C271.29 521.30 234.12 343.38 286.00 343.38" fill="none" stroke="#6a6aaa" stroke-width="1.1"/>
<line x1="192.9" y1="521.30" x2="205.8" y2="521.30" stroke="#6a6aaa" stroke-width="1.3" stroke-opacity="0.8"/>
<path d="M192.4 531.90H205.80C270.44 531.90 235.94 369.09 286.00 369.09" fill="none" stroke="#0a8f6a" stroke-width="1.1"/>
<line x1="192.9" y1="531.90" x2="205.8" y2="531.90" stroke="#0a8f6a" stroke-width="1.3" stroke-opacity="0.8"/>
<path d="M192.4 532.20H205.80C268.90 532.20 238.33 389.24 286.00 389.24" fill="none" stroke="#0a8f6a" stroke-width="1.1"/>
<line x1="192.9" y1="532.20" x2="205.8" y2="532.20" stroke="#0a8f6a" stroke-width="1.3" stroke-opacity="0.8"/>
<path d="M192.4 532.50H205.80C266.70 532.50 240.71 409.39 286.00 409.39" fill="none" stroke="#0a8f6a" stroke-width="1.1"/>
<line x1="192.9" y1="532.50" x2="205.8" y2="532.50" stroke="#0a8f6a" stroke-width="1.3" stroke-opacity="0.8"/>
<path d="M192.4 416.40H205.80C225.45 416.40 253.27 435.10 286.00 435.10" fill="none" stroke="#e8308a" stroke-width="1.1"/>
<line x1="192.9" y1="416.40" x2="205.8" y2="416.40" stroke="#e8308a" stroke-width="1.3" stroke-opacity="0.8"/>
<path d="M192.4 591.00H205.80C268.19 591.00 239.19 455.25 286.00 455.25" fill="none" stroke="#e8308a" stroke-width="1.1"/>
<line x1="192.9" y1="591.00" x2="205.8" y2="591.00" stroke="#e8308a" stroke-width="1.3" stroke-opacity="0.8"/>
<path d="M192.4 576.60H205.80C261.99 576.60 244.02 480.96 286.00 480.96" fill="none" stroke="#55a150" stroke-width="1.1"/>
<line x1="192.9" y1="576.60" x2="205.8" y2="576.60" stroke="#55a150" stroke-width="1.3" stroke-opacity="0.8"/>
<path d="M192.4 576.90H205.80C256.78 576.90 246.41 501.11 286.00 501.11" fill="none" stroke="#55a150" stroke-width="1.1"/>
<line x1="192.9" y1="576.90" x2="205.8" y2="576.90" stroke="#55a150" stroke-width="1.3" stroke-opacity="0.8"/>
<path d="M192.4 577.60H205.80C238.66 577.60 251.17 541.41 286.00 541.41" fill="none" stroke="#55a150" stroke-width="1.1"/>
<line x1="192.9" y1="577.60" x2="205.8" y2="577.60" stroke="#55a150" stroke-width="1.3" stroke-opacity="0.8"/>
<path d="M192.4 577.90H205.80C223.32 577.90 253.56 561.56 286.00 561.56" fill="none" stroke="#55a150" stroke-width="1.1"/>
<line x1="192.9" y1="577.90" x2="205.8" y2="577.90" stroke="#55a150" stroke-width="1.3" stroke-opacity="0.8"/>
<g font-size="11" font-style="italic" fill="#111"><text x="480.4" y="39.68">aroF</text><text x="480.4" y="59.82">aroG</text><text x="480.4" y="79.97">aroB</text><text x="480.4" y="100.12">aroD</text><text x="480.4" y="120.27">aroE</text><text x="480.4" y="140.42">aroK</text><text x="508.24" y="140.42" font-size="7.5">(psr,pheA,aroA)</text><text x="480.4" y="160.57">aroA</text><text x="508.24" y="160.57" font-size="7.5">(psr,pheA,aroK)</text><text x="480.4" y="180.72">aroC</text><text x="480.4" y="200.88">spv_1151</text><text x="531.89" y="200.88" font-size="7.5">(crcB1,crcB2)</text><text x="480.4" y="221.03">tyrA</text><text x="480.4" y="241.18">pheA</text><text x="510.69" y="241.18" font-size="7.5">(psr,aroK,aroA)</text><text x="480.4" y="266.89">amiA</text><text x="480.4" y="287.04">amiC</text><text x="480.4" y="307.19">amiD</text><text x="480.4" y="327.33">amiE</text><text x="480.4" y="347.48">amiF</text><text x="480.4" y="373.19">manLMN</text><text x="480.4" y="393.34">nagA</text><text x="480.4" y="413.49">nagB</text><text x="480.4" y="439.20">argR1</text><text x="480.4" y="459.35">ahrC</text><text x="480.4" y="485.06">cad</text><text x="480.4" y="505.21">aguA</text><text x="480.4" y="525.36">aguB</text><text x="480.4" y="545.51">speE</text><text x="480.4" y="565.66">lys1</text><text x="480.4" y="585.81">nspC</text></g>
<path d="M512 218.9H576" stroke="#222" stroke-width="0.9" stroke-dasharray="2.7 3.9" fill="none"/>
<path d="M469.70 31.50V62.60M469.70 68.80V83.15M469.70 88.95V103.30M469.70 109.10V123.45M469.70 129.25V143.60M469.70 149.40V163.75M469.70 169.55V183.90M469.70 189.70V204.05M465.2 211.2H473.9M469.70 207.2V211.2M473.90 211.20V216.00Q473.90 218.00 475.90 218.00H477.20M465.20 211.20V234.20Q465.20 237.20 468.20 237.20H477.20M570.1 237.7H573M470.00 363.70V376.20M470.00 383.60V396.70M470.00 403.90V408.40Q470.00 411.40 473.00 411.40H477.30M512.30 409.90H521.40M470.00 474.70V487.00M465.5 496.3H473.9M470 491 V496.3M473.90 496.30V508.00M473.90 515.50V527.80M473.90 535.20V538.00Q473.90 540.00 475.90 540.00H478.10M465.50 496.30V569.30M465.50 575.90V579.60Q465.50 582.60 468.50 582.60H477.00M512.30 541.70H521.40M512.30 581.60H521.40" fill="none" stroke="#222" stroke-width="1.0"/>
<path d="M466.60 61.40H472.80L469.70 66.60zM466.60 81.95H472.80L469.70 87.15zM466.60 102.10H472.80L469.70 107.30zM466.60 122.25H472.80L469.70 127.45zM466.60 142.40H472.80L469.70 147.60zM466.60 162.55H472.80L469.70 167.75zM466.60 182.70H472.80L469.70 187.90zM466.60 202.85H472.80L469.70 208.05zM576.8 215.8V222.0L582.9 218.9zM576.8 234.7V240.7L582.9 237.7zM466.90 375.00H473.10L470.00 380.20zM466.90 395.50H473.10L470.00 400.70zM519.40 406.80V413.00L525.40 409.90zM466.90 485.80H473.10L470.00 491.00zM470.80 506.80H477.00L473.90 512.00zM470.80 526.60H477.00L473.90 531.80zM462.40 568.10H468.60L465.50 573.30zM519.40 538.60V544.80L525.40 541.70zM519.40 578.50V584.70L525.40 581.60z" fill="#222"/>
<text x="460.80" y="17.00" font-size="9.43" fill="#3a3a3a" >Phosphoenolpyruvate +</text>
<text x="460.80" y="28.00" font-size="9.49" fill="#3a3a3a" >D-Erythrose 4-phosphate</text>
<text x="589.00" y="221.90" font-size="8.75" fill="#3a3a3a" >Tyrosine</text>
<text x="589.00" y="240.60" font-size="8.88" fill="#3a3a3a" >Phenylalanine</text>
<text x="460.80" y="361.00" font-size="8.4" fill="#3a3a3a" >GlcNAc</text>
<text x="531.70" y="413.00" font-size="8.85" fill="#3a3a3a" >D-Fructose 6-phosphate</text>
<text x="460.80" y="472.50" font-size="9.1" fill="#3a3a3a" >Arginine</text>
<text x="531.70" y="544.60" font-size="8.84" fill="#3a3a3a" >Spermidine</text>
<text x="531.70" y="584.60" font-size="9.13" fill="#3a3a3a" >N1-Aminopropylagmatine</text>
<g font-size="11.2" text-anchor="end"><text transform="translate(81.19,600.2) rotate(-45)">THY</text><text transform="translate(320.12,600.6) rotate(-45)">THY</text><text transform="translate(95.96,600.2) rotate(-45)">CSP</text><text transform="translate(338.76,600.6) rotate(-45)">CSP</text><text transform="translate(110.74,600.2) rotate(-45)">C+Y</text><text transform="translate(357.40,600.6) rotate(-45)">C+Y</text><text transform="translate(125.51,600.2) rotate(-45)">LMC</text><text transform="translate(376.04,600.6) rotate(-45)">LMC</text><text transform="translate(140.29,600.2) rotate(-45)">NMC</text><text transform="translate(394.68,600.6) rotate(-45)">NMC</text><text transform="translate(155.06,600.2) rotate(-45)">BMC</text><text transform="translate(413.32,600.6) rotate(-45)">BMC</text><text transform="translate(169.84,600.2) rotate(-45)">CSFMC</text><text transform="translate(431.96,600.6) rotate(-45)">CSFMC</text><text transform="translate(184.61,600.2) rotate(-45)">FEVER</text><text transform="translate(450.60,600.6) rotate(-45)">FEVER</text></g>
<text x="5.80" y="647.90" font-size="9.6" fill="#000" >Medium</text>
<rect x="4.9" y="653.7" width="12.1" height="11" rx="0.8" fill="#a6aaaa" stroke="#222" stroke-width="1"/>
<text x="19.30" y="663.00" font-size="9.5" fill="#000" >complex</text>
<rect x="60.4" y="653.7" width="12.1" height="11" rx="0.8" fill="#dcdcdc" stroke="#222" stroke-width="1"/>
<text x="75.00" y="663.00" font-size="9.6" fill="#000" >defined</text>
<text x="138.80" y="648.00" font-size="9.64" fill="#000" >Min. |Δfitness| vs CDM</text>
<defs><linearGradient id="gm" x1="0" x2="1" y1="0" y2="0"><stop offset="0.0%" stop-color="#DEF5E5"/><stop offset="10.0%" stop-color="#A0DFB9"/><stop offset="20.0%" stop-color="#49C1AD"/><stop offset="30.0%" stop-color="#35A1AB"/><stop offset="40.0%" stop-color="#3487A6"/><stop offset="50.0%" stop-color="#366DA0"/><stop offset="60.0%" stop-color="#3D5296"/><stop offset="70.0%" stop-color="#403A75"/><stop offset="80.0%" stop-color="#35264C"/><stop offset="90.0%" stop-color="#231526"/><stop offset="100.0%" stop-color="#0B0405"/></linearGradient>
<linearGradient id="gf" x1="0" x2="1" y1="0" y2="0"><stop offset="0.00%" stop-color="#5f0020"/><stop offset="11.33%" stop-color="#6a0a24"/><stop offset="18.00%" stop-color="#8a0f2a"/><stop offset="26.67%" stop-color="#c0283a"/><stop offset="33.33%" stop-color="#cf4b45"/><stop offset="43.33%" stop-color="#e88e70"/><stop offset="53.33%" stop-color="#f5c0a5"/><stop offset="62.00%" stop-color="#f8e6dc"/><stop offset="66.67%" stop-color="#f7f7f7"/><stop offset="74.67%" stop-color="#c8dff0"/><stop offset="83.33%" stop-color="#6aaad5"/><stop offset="90.67%" stop-color="#2a70b0"/><stop offset="100.00%" stop-color="#1a3c70"/></linearGradient></defs>
<rect x="140.9" y="653.7" width="79.3" height="11.3" fill="url(#gm)"/>
<rect x="137.9" y="653.7" width="3" height="11.3" fill="#DEF5E5"/><rect x="220.2" y="653.7" width="3" height="11.3" fill="#0B0405"/>
<rect x="137.9" y="653.7" width="85.3" height="11.3" fill="none" stroke="#111" stroke-width="1.1"/>
<text x="140.90" y="674.70" font-size="9.2" fill="#111" text-anchor="middle" >0</text>
<text x="160.70" y="674.70" font-size="9.2" fill="#111" text-anchor="middle" >1</text>
<text x="180.80" y="674.70" font-size="9.2" fill="#111" text-anchor="middle" >2</text>
<text x="200.60" y="674.70" font-size="9.2" fill="#111" text-anchor="middle" >3</text>
<text x="220.20" y="674.70" font-size="9.2" fill="#111" text-anchor="middle" >4</text>
<path d="M140.9 654.2v2M140.9 664.5v-2M160.7 654.2v2M160.7 664.5v-2M180.8 654.2v2M180.8 664.5v-2M200.6 654.2v2M200.6 664.5v-2M220.2 654.2v2M220.2 664.5v-2" stroke="#333" stroke-width="0.8"/>
<rect x="276.6" y="655.4" width="78.7" height="11.4" fill="url(#gf)"/>
<rect x="273.4" y="655.4" width="3.2" height="11.4" fill="#5f0020"/><rect x="355.3" y="655.4" width="2.9" height="11.4" fill="#1a3c70"/>
<rect x="273.4" y="655.4" width="84.8" height="11.4" fill="none" stroke="#111" stroke-width="1.1"/>
<text x="276.60" y="676.00" font-size="9.2" fill="#111" text-anchor="middle" >−10</text>
<text x="302.20" y="676.00" font-size="9.2" fill="#111" text-anchor="middle" >−5</text>
<text x="328.70" y="676.00" font-size="9.2" fill="#111" text-anchor="middle" >0</text>
<text x="355.30" y="676.00" font-size="9.2" fill="#111" text-anchor="middle" >5</text>
<path d="M276.6 655.9v2M276.6 666.3v-2M302.2 655.9v2M302.2 666.3v-2M328.7 655.9v2M328.7 666.3v-2M355.3 655.9v2M355.3 666.3v-2" stroke="#111" stroke-width="0.8"/>
<text x="274.5" y="647.3" font-size="9.6">Fitness (log<tspan font-size="6.5" dy="2.5">2</tspan><tspan dy="-2.5">FC)</tspan></text>
<text x="389.30" y="647.50" font-size="9.6" fill="#000" >Pathway</text>
<rect x="388.6" y="652.8" width="11.6" height="11.5" rx="0.6" fill="#dc6a30" stroke="#222" stroke-width="1"/>
<text x="403.70" y="662.30" font-size="9.6" fill="#000" >Shikimate</text>
<rect x="451.4" y="652.8" width="11.6" height="11.5" rx="0.6" fill="#6a6aaa" stroke="#222" stroke-width="1"/>
<text x="465.70" y="662.30" font-size="9.6" fill="#000" >AmiACDEF</text>
<rect x="519.5" y="652.8" width="11.6" height="11.5" rx="0.6" fill="#0a8f6a" stroke="#222" stroke-width="1"/>
<text x="534.60" y="662.30" font-size="9.6" fill="#000" >GlcNAc</text>
<rect x="572.5" y="652.8" width="11.6" height="11.5" rx="0.6" fill="#e8308a" stroke="#222" stroke-width="1"/>
<text x="586.60" y="662.30" font-size="9.6" fill="#000" >arginine</text>
<rect x="626.9" y="652.8" width="11.6" height="11.5" rx="0.6" fill="#55a150" stroke="#222" stroke-width="1"/>
<text x="641.40" y="662.30" font-size="9.6" fill="#000" >polyamine</text>
</svg></body></html>
